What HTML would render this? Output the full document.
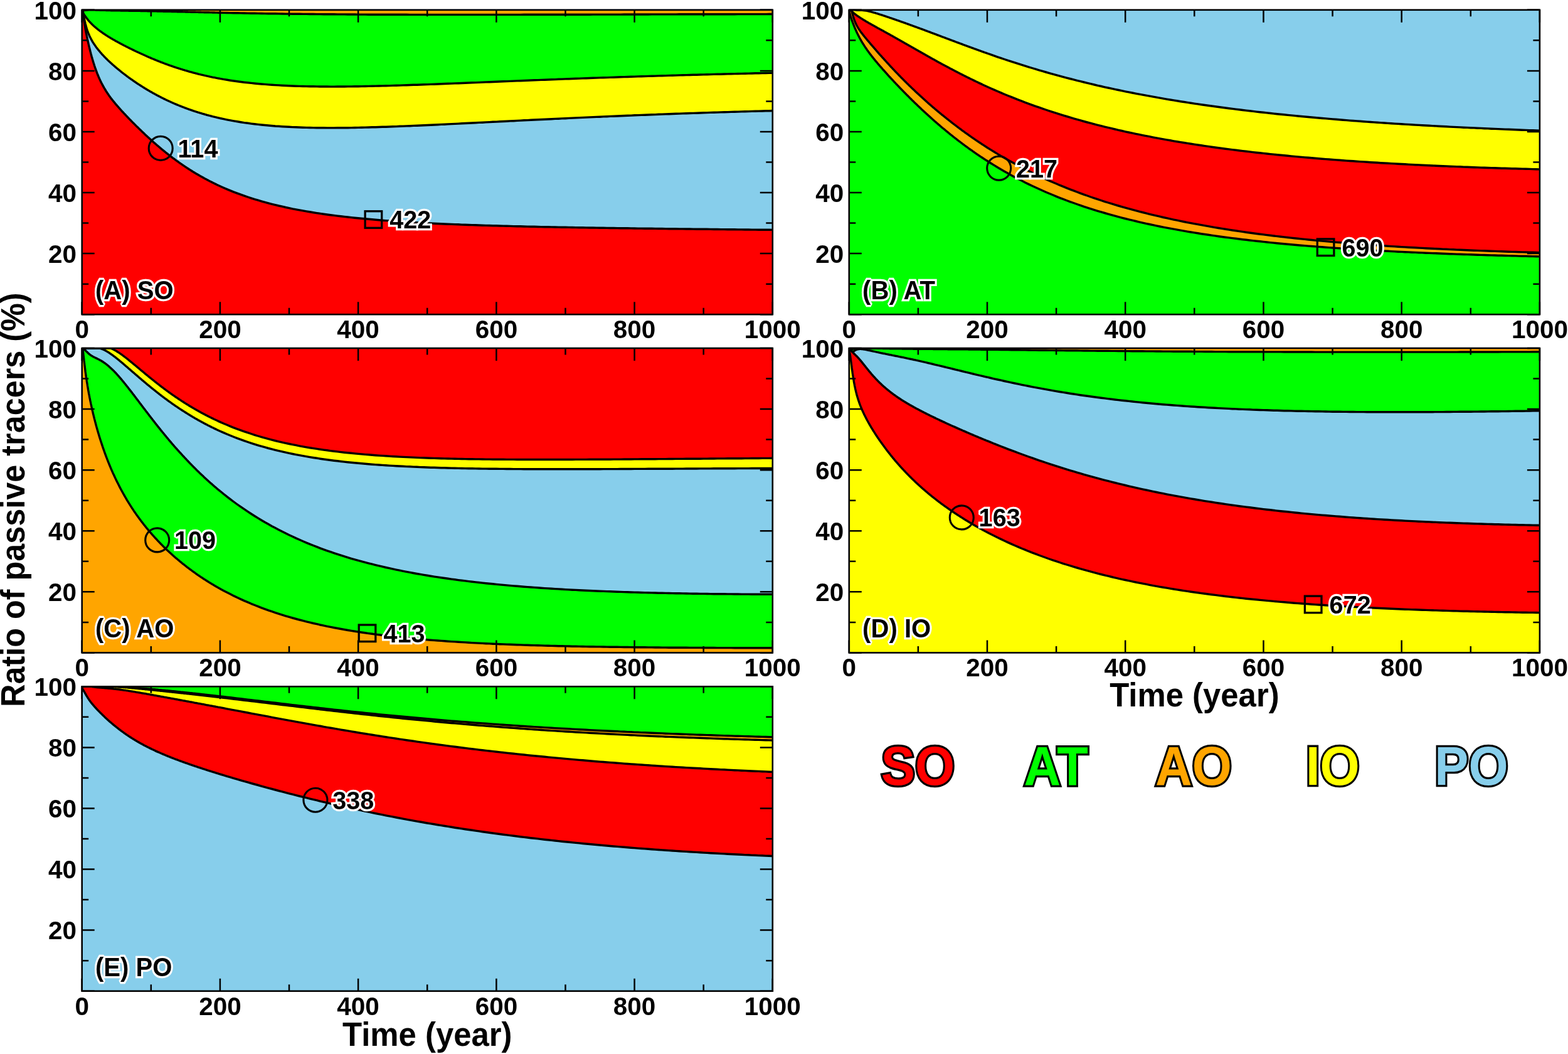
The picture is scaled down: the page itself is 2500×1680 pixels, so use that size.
<!DOCTYPE html>
<html><head><meta charset="utf-8"><title>Ratio of passive tracers</title>
<style>
html,body{margin:0;padding:0;background:#fff;width:2500px;height:1680px;overflow:hidden}
svg{display:block}
text{font-family:'Liberation Sans',Arial,Helvetica,sans-serif;font-weight:bold}
.tl{font-size:41.5px;fill:#000}
.hl{font-size:41.5px;fill:#000;stroke:#fff;stroke-width:6.5px;paint-order:stroke;stroke-linejoin:miter;stroke-miterlimit:2}
.ax{font-size:53px;fill:#000}
.lg{font-size:87px;stroke:#000;stroke-width:6.6px;paint-order:stroke;stroke-linejoin:miter;stroke-miterlimit:3}
</style></head><body>
<svg width="2500" height="1680" viewBox="0 0 2500 1680">
<rect width="2500" height="1680" fill="#fff"/>
<clipPath id="clipA"><rect x="130.7" y="15.8" width="1101.1" height="485.4"/></clipPath>
<g clip-path="url(#clipA)">
<rect x="130.7" y="15.8" width="1101.1" height="485.4" fill="#ff0000"/>
<polygon fill="#87ceeb" points="130.7,13.8 130.7,15.8 131.3,16.4 131.8,18.9 132.4,22.2 132.9,25.9 133.5,29.7 134,33.3 134.6,36.9 135.1,40.2 135.7,43.5 136.2,46.6 136.8,49.5 137.3,52.4 137.9,55.2 138.4,57.9 139,60.5 139.5,63.1 140.1,65.6 140.6,68 141.2,70.4 141.7,72.8 142.3,75.1 142.8,77.3 143.4,79.5 143.9,81.7 144.5,83.8 145,85.9 145.6,88 146.1,90 146.7,91.9 147.2,93.8 147.8,95.7 148.3,97.6 148.9,99.4 149.4,101.1 150,102.8 150.5,104.5 151.1,106.2 151.6,107.8 152.2,109.4 152.7,110.9 153.8,113.9 154.9,116.8 156,119.5 157.1,122.2 158.2,124.7 159.3,127.1 160.4,129.4 161.5,131.7 162.6,133.8 163.7,135.9 164.8,137.9 165.9,139.9 167,141.7 168.1,143.5 169.2,145.3 170.3,147 171.4,148.7 172.5,150.3 173.6,151.9 174.7,153.4 175.8,154.9 176.9,156.4 178,157.9 179.1,159.3 180.2,160.7 181.4,162.1 182.5,163.4 183.6,164.8 184.7,166.1 185.8,167.4 186.9,168.7 188,169.9 189.1,171.2 190.2,172.4 191.3,173.7 192.4,174.9 193.5,176.1 194.6,177.3 195.7,178.5 196.8,179.7 197.9,180.9 199,182 200.1,183.2 201.2,184.4 202.3,185.5 203.4,186.7 204.5,187.8 205.6,189 206.7,190.1 207.8,191.2 208.9,192.3 210,193.5 211.1,194.6 212.2,195.7 213.3,196.8 214.4,197.9 215.5,199 216.6,200.1 217.7,201.2 218.8,202.2 219.9,203.3 221,204.4 222.1,205.5 223.2,206.5 224.3,207.6 225.4,208.6 226.5,209.7 227.6,210.7 228.7,211.8 229.8,212.8 230.9,213.9 232,214.9 233.1,215.9 234.2,216.9 235.3,218 236.4,219 237.5,220 238.6,221 239.7,222 240.8,223 241.9,224 243,224.9 244.1,225.9 245.2,226.9 246.3,227.9 247.4,228.8 248.5,229.8 249.6,230.7 250.7,231.7 251.8,232.6 252.9,233.6 254,234.5 255.1,235.4 256.2,236.4 257.3,237.3 258.4,238.2 259.5,239.1 260.6,240 261.7,240.9 262.8,241.8 263.9,242.7 265,243.6 266.1,244.4 267.2,245.3 268.3,246.2 269.4,247 270.5,247.9 271.6,248.7 272.7,249.6 273.8,250.4 274.9,251.3 276,252.1 277.1,252.9 278.2,253.7 279.3,254.5 280.4,255.4 281.6,256.2 282.7,257 283.8,257.7 284.9,258.5 286,259.3 287.1,260.1 288.2,260.9 289.3,261.6 290.4,262.4 291.5,263.1 292.6,263.9 293.7,264.6 294.8,265.4 295.9,266.1 297,266.8 298.1,267.6 299.2,268.3 300.3,269 301.4,269.7 302.5,270.4 303.6,271.1 304.7,271.8 305.8,272.5 306.9,273.2 308,273.9 309.1,274.5 310.2,275.2 311.3,275.9 312.4,276.5 313.5,277.2 314.6,277.8 315.7,278.5 316.8,279.1 317.9,279.7 319,280.4 320.1,281 321.2,281.6 322.3,282.2 323.4,282.8 324.5,283.5 325.6,284.1 326.7,284.7 327.8,285.2 328.9,285.8 330,286.4 331.1,287 332.2,287.6 333.3,288.2 334.4,288.7 335.5,289.3 336.6,289.8 337.7,290.4 338.8,290.9 339.9,291.5 341,292 342.1,292.6 343.2,293.1 344.3,293.6 345.4,294.2 346.5,294.7 347.6,295.2 348.7,295.7 349.8,296.2 350.9,296.7 356.4,299.2 361.9,301.6 367.4,303.9 372.9,306.1 378.4,308.2 384,310.2 389.5,312.1 395,314 400.5,315.8 406,317.6 411.5,319.2 417,320.8 422.5,322.4 428,323.9 433.5,325.3 439,326.6 444.5,328 450,329.2 455.5,330.5 461,331.6 466.5,332.8 472,333.8 477.5,334.9 483.1,335.9 488.6,336.9 494.1,337.8 499.6,338.7 505.1,339.6 510.6,340.4 516.1,341.2 521.6,342 527.1,342.7 532.6,343.4 538.1,344.1 543.6,344.8 549.1,345.4 554.6,346 560.1,346.6 565.6,347.2 571.1,347.8 576.6,348.3 582.2,348.8 587.7,349.3 593.2,349.8 598.7,350.3 604.2,350.7 609.7,351.2 615.2,351.6 620.7,352 626.2,352.4 631.7,352.8 637.2,353.1 642.7,353.5 648.2,353.8 653.7,354.2 659.2,354.5 664.7,354.8 670.2,355.1 675.7,355.4 681.2,355.7 686.8,355.9 692.3,356.2 697.8,356.5 703.3,356.7 708.8,357 714.3,357.2 719.8,357.4 725.3,357.6 730.8,357.8 736.3,358.1 741.8,358.3 747.3,358.5 752.8,358.6 758.3,358.8 763.8,359 769.3,359.2 774.8,359.4 780.3,359.5 785.9,359.7 791.4,359.8 796.9,360 802.4,360.1 807.9,360.3 813.4,360.4 818.9,360.6 824.4,360.7 829.9,360.8 835.4,361 840.9,361.1 846.4,361.2 851.9,361.3 857.4,361.5 862.9,361.6 868.4,361.7 873.9,361.8 879.4,361.9 885,362 890.5,362.1 896,362.2 901.5,362.3 907,362.4 912.5,362.5 918,362.6 923.5,362.7 929,362.8 934.5,362.9 940,363 945.5,363 951,363.1 956.5,363.2 962,363.3 967.5,363.4 973,363.5 978.5,363.5 984.1,363.6 989.6,363.7 995.1,363.8 1000.6,363.8 1006.1,363.9 1011.6,364 1017.1,364.1 1022.6,364.1 1028.1,364.2 1033.6,364.3 1039.1,364.3 1044.6,364.4 1050.1,364.5 1055.6,364.5 1061.1,364.6 1066.6,364.7 1072.1,364.7 1077.6,364.8 1083.2,364.9 1088.7,364.9 1094.2,365 1099.7,365 1105.2,365.1 1110.7,365.2 1116.2,365.2 1121.7,365.3 1127.2,365.3 1132.7,365.4 1138.2,365.5 1143.7,365.5 1149.2,365.6 1154.7,365.6 1160.2,365.7 1165.7,365.7 1171.2,365.8 1176.7,365.9 1182.3,365.9 1187.8,366 1193.3,366 1198.8,366.1 1204.3,366.1 1209.8,366.2 1215.3,366.2 1220.8,366.3 1226.3,366.3 1231.8,366.4 1231.8,13.8"/>
<polygon fill="#ffff00" points="130.7,13.8 130.7,15.8 131.3,15.8 131.8,16.9 132.4,19.4 132.9,22.2 133.5,25.1 134,28 134.6,30.8 135.1,33.4 135.7,35.8 136.2,38.1 136.8,40.3 137.3,42.3 137.9,44.2 138.4,46 139,47.7 139.5,49.3 140.1,50.8 140.6,52.3 141.2,53.7 141.7,55 142.3,56.3 142.8,57.5 143.4,58.6 143.9,59.8 144.5,60.9 145,61.9 145.6,62.9 146.1,63.9 146.7,64.9 147.2,65.8 147.8,66.8 148.3,67.7 148.9,68.5 149.4,69.4 150,70.2 150.5,71 151.1,71.8 151.6,72.6 152.2,73.4 152.7,74.2 153.8,75.7 154.9,77.1 156,78.5 157.1,79.9 158.2,81.2 159.3,82.5 160.4,83.8 161.5,85 162.6,86.3 163.7,87.5 164.8,88.6 165.9,89.8 167,91 168.1,92.1 169.2,93.2 170.3,94.3 171.4,95.4 172.5,96.4 173.6,97.5 174.7,98.5 175.8,99.5 176.9,100.6 178,101.6 179.1,102.6 180.2,103.5 181.4,104.5 182.5,105.5 183.6,106.4 184.7,107.4 185.8,108.3 186.9,109.2 188,110.1 189.1,111 190.2,111.9 191.3,112.8 192.4,113.7 193.5,114.6 194.6,115.5 195.7,116.3 196.8,117.2 197.9,118 199,118.9 200.1,119.7 201.2,120.5 202.3,121.4 203.4,122.2 204.5,123 205.6,123.8 206.7,124.6 207.8,125.4 208.9,126.2 210,126.9 211.1,127.7 212.2,128.5 213.3,129.2 214.4,130 215.5,130.7 216.6,131.5 217.7,132.2 218.8,133 219.9,133.7 221,134.4 222.1,135.1 223.2,135.8 224.3,136.5 225.4,137.2 226.5,137.9 227.6,138.6 228.7,139.3 229.8,140 230.9,140.7 232,141.3 233.1,142 234.2,142.7 235.3,143.3 236.4,144 237.5,144.6 238.6,145.3 239.7,145.9 240.8,146.5 241.9,147.1 243,147.8 244.1,148.4 245.2,149 246.3,149.6 247.4,150.2 248.5,150.8 249.6,151.4 250.7,152 251.8,152.6 252.9,153.1 254,153.7 255.1,154.3 256.2,154.8 257.3,155.4 258.4,156 259.5,156.5 260.6,157.1 261.7,157.6 262.8,158.1 263.9,158.7 265,159.2 266.1,159.7 267.2,160.2 268.3,160.8 269.4,161.3 270.5,161.8 271.6,162.3 272.7,162.8 273.8,163.3 274.9,163.8 276,164.2 277.1,164.7 278.2,165.2 279.3,165.7 280.4,166.1 281.6,166.6 282.7,167.1 283.8,167.5 284.9,168 286,168.4 287.1,168.9 288.2,169.3 289.3,169.7 290.4,170.2 291.5,170.6 292.6,171 293.7,171.4 294.8,171.9 295.9,172.3 297,172.7 298.1,173.1 299.2,173.5 300.3,173.9 301.4,174.3 302.5,174.7 303.6,175 304.7,175.4 305.8,175.8 306.9,176.2 308,176.6 309.1,176.9 310.2,177.3 311.3,177.6 312.4,178 313.5,178.4 314.6,178.7 315.7,179.1 316.8,179.4 317.9,179.7 319,180.1 320.1,180.4 321.2,180.7 322.3,181.1 323.4,181.4 324.5,181.7 325.6,182 326.7,182.3 327.8,182.6 328.9,183 330,183.3 331.1,183.6 332.2,183.9 333.3,184.2 334.4,184.4 335.5,184.7 336.6,185 337.7,185.3 338.8,185.6 339.9,185.9 341,186.1 342.1,186.4 343.2,186.7 344.3,186.9 345.4,187.2 346.5,187.5 347.6,187.7 348.7,188 349.8,188.2 350.9,188.5 356.4,189.7 361.9,190.8 367.4,191.9 372.9,192.9 378.4,193.8 384,194.7 389.5,195.6 395,196.3 400.5,197.1 406,197.8 411.5,198.4 417,199 422.5,199.5 428,200 433.5,200.5 439,201 444.5,201.3 450,201.7 455.5,202 461,202.3 466.5,202.6 472,202.8 477.5,203 483.1,203.2 488.6,203.4 494.1,203.5 499.6,203.6 505.1,203.7 510.6,203.8 516.1,203.8 521.6,203.9 527.1,203.9 532.6,203.9 538.1,203.8 543.6,203.8 549.1,203.7 554.6,203.7 560.1,203.6 565.6,203.5 571.1,203.4 576.6,203.3 582.2,203.1 587.7,203 593.2,202.8 598.7,202.7 604.2,202.5 609.7,202.3 615.2,202.2 620.7,202 626.2,201.8 631.7,201.6 637.2,201.3 642.7,201.1 648.2,200.9 653.7,200.7 659.2,200.4 664.7,200.2 670.2,200 675.7,199.7 681.2,199.5 686.8,199.2 692.3,199 697.8,198.7 703.3,198.4 708.8,198.2 714.3,197.9 719.8,197.6 725.3,197.4 730.8,197.1 736.3,196.8 741.8,196.5 747.3,196.3 752.8,196 758.3,195.7 763.8,195.4 769.3,195.2 774.8,194.9 780.3,194.6 785.9,194.3 791.4,194.1 796.9,193.8 802.4,193.5 807.9,193.2 813.4,192.9 818.9,192.7 824.4,192.4 829.9,192.1 835.4,191.8 840.9,191.6 846.4,191.3 851.9,191 857.4,190.8 862.9,190.5 868.4,190.2 873.9,190 879.4,189.7 885,189.4 890.5,189.2 896,188.9 901.5,188.7 907,188.4 912.5,188.1 918,187.9 923.5,187.6 929,187.4 934.5,187.1 940,186.9 945.5,186.6 951,186.4 956.5,186.2 962,185.9 967.5,185.7 973,185.4 978.5,185.2 984.1,185 989.6,184.7 995.1,184.5 1000.6,184.3 1006.1,184.1 1011.6,183.8 1017.1,183.6 1022.6,183.4 1028.1,183.2 1033.6,183 1039.1,182.8 1044.6,182.6 1050.1,182.3 1055.6,182.1 1061.1,181.9 1066.6,181.7 1072.1,181.5 1077.6,181.3 1083.2,181.1 1088.7,180.9 1094.2,180.7 1099.7,180.5 1105.2,180.4 1110.7,180.2 1116.2,180 1121.7,179.8 1127.2,179.6 1132.7,179.4 1138.2,179.3 1143.7,179.1 1149.2,178.9 1154.7,178.7 1160.2,178.6 1165.7,178.4 1171.2,178.2 1176.7,178.1 1182.3,177.9 1187.8,177.7 1193.3,177.6 1198.8,177.4 1204.3,177.3 1209.8,177.1 1215.3,177 1220.8,176.8 1226.3,176.7 1231.8,176.5 1231.8,13.8"/>
<polygon fill="#00ff00" points="130.7,13.8 130.7,15.8 131.3,15.8 131.8,16.9 132.4,19.4 132.9,21.6 133.5,22.4 134,23.1 134.6,23.9 135.1,24.7 135.7,25.5 136.2,26.2 136.8,27 137.3,27.8 137.9,28.6 138.4,29.3 139,30 139.5,30.7 140.1,31.4 140.6,32.1 141.2,32.8 141.7,33.4 142.3,34 142.8,34.6 143.4,35.2 143.9,35.8 144.5,36.4 145,37 145.6,37.5 146.1,38.1 146.7,38.6 147.2,39.1 147.8,39.7 148.3,40.2 148.9,40.7 149.4,41.2 150,41.7 150.5,42.2 151.1,42.7 151.6,43.1 152.2,43.6 152.7,44.1 153.8,45 154.9,45.9 156,46.8 157.1,47.6 158.2,48.5 159.3,49.3 160.4,50.1 161.5,50.9 162.6,51.7 163.7,52.5 164.8,53.2 165.9,54 167,54.7 168.1,55.4 169.2,56.2 170.3,56.9 171.4,57.6 172.5,58.3 173.6,58.9 174.7,59.6 175.8,60.3 176.9,60.9 178,61.6 179.1,62.2 180.2,62.9 181.4,63.5 182.5,64.1 183.6,64.8 184.7,65.4 185.8,66 186.9,66.6 188,67.2 189.1,67.8 190.2,68.4 191.3,69 192.4,69.6 193.5,70.2 194.6,70.7 195.7,71.3 196.8,71.9 197.9,72.5 199,73 200.1,73.6 201.2,74.2 202.3,74.7 203.4,75.3 204.5,75.8 205.6,76.4 206.7,76.9 207.8,77.5 208.9,78 210,78.5 211.1,79.1 212.2,79.6 213.3,80.1 214.4,80.7 215.5,81.2 216.6,81.7 217.7,82.2 218.8,82.8 219.9,83.3 221,83.8 222.1,84.3 223.2,84.8 224.3,85.3 225.4,85.8 226.5,86.3 227.6,86.8 228.7,87.3 229.8,87.8 230.9,88.3 232,88.8 233.1,89.3 234.2,89.8 235.3,90.2 236.4,90.7 237.5,91.2 238.6,91.7 239.7,92.1 240.8,92.6 241.9,93.1 243,93.5 244.1,94 245.2,94.4 246.3,94.9 247.4,95.3 248.5,95.8 249.6,96.2 250.7,96.7 251.8,97.1 252.9,97.6 254,98 255.1,98.4 256.2,98.9 257.3,99.3 258.4,99.7 259.5,100.1 260.6,100.5 261.7,101 262.8,101.4 263.9,101.8 265,102.2 266.1,102.6 267.2,103 268.3,103.4 269.4,103.8 270.5,104.2 271.6,104.6 272.7,104.9 273.8,105.3 274.9,105.7 276,106.1 277.1,106.5 278.2,106.8 279.3,107.2 280.4,107.6 281.6,107.9 282.7,108.3 283.8,108.6 284.9,109 286,109.3 287.1,109.7 288.2,110 289.3,110.4 290.4,110.7 291.5,111.1 292.6,111.4 293.7,111.7 294.8,112.1 295.9,112.4 297,112.7 298.1,113 299.2,113.3 300.3,113.7 301.4,114 302.5,114.3 303.6,114.6 304.7,114.9 305.8,115.2 306.9,115.5 308,115.8 309.1,116.1 310.2,116.4 311.3,116.7 312.4,117 313.5,117.2 314.6,117.5 315.7,117.8 316.8,118.1 317.9,118.3 319,118.6 320.1,118.9 321.2,119.1 322.3,119.4 323.4,119.7 324.5,119.9 325.6,120.2 326.7,120.4 327.8,120.7 328.9,120.9 330,121.2 331.1,121.4 332.2,121.7 333.3,121.9 334.4,122.1 335.5,122.4 336.6,122.6 337.7,122.8 338.8,123.1 339.9,123.3 341,123.5 342.1,123.7 343.2,123.9 344.3,124.2 345.4,124.4 346.5,124.6 347.6,124.8 348.7,125 349.8,125.2 350.9,125.4 356.4,126.4 361.9,127.3 367.4,128.2 372.9,129 378.4,129.8 384,130.5 389.5,131.2 395,131.8 400.5,132.4 406,133 411.5,133.5 417,134 422.5,134.4 428,134.9 433.5,135.3 439,135.6 444.5,135.9 450,136.2 455.5,136.5 461,136.8 466.5,137 472,137.2 477.5,137.4 483.1,137.5 488.6,137.6 494.1,137.7 499.6,137.8 505.1,137.9 510.6,138 516.1,138 521.6,138 527.1,138.1 532.6,138.1 538.1,138 543.6,138 549.1,138 554.6,137.9 560.1,137.9 565.6,137.8 571.1,137.7 576.6,137.6 582.2,137.5 587.7,137.4 593.2,137.3 598.7,137.1 604.2,137 609.7,136.9 615.2,136.7 620.7,136.6 626.2,136.4 631.7,136.2 637.2,136.1 642.7,135.9 648.2,135.7 653.7,135.5 659.2,135.3 664.7,135.2 670.2,135 675.7,134.8 681.2,134.6 686.8,134.4 692.3,134.2 697.8,134 703.3,133.7 708.8,133.5 714.3,133.3 719.8,133.1 725.3,132.9 730.8,132.7 736.3,132.5 741.8,132.2 747.3,132 752.8,131.8 758.3,131.6 763.8,131.4 769.3,131.1 774.8,130.9 780.3,130.7 785.9,130.5 791.4,130.2 796.9,130 802.4,129.8 807.9,129.6 813.4,129.4 818.9,129.1 824.4,128.9 829.9,128.7 835.4,128.5 840.9,128.3 846.4,128 851.9,127.8 857.4,127.6 862.9,127.4 868.4,127.2 873.9,127 879.4,126.8 885,126.6 890.5,126.3 896,126.1 901.5,125.9 907,125.7 912.5,125.5 918,125.3 923.5,125.1 929,124.9 934.5,124.7 940,124.5 945.5,124.3 951,124.1 956.5,123.9 962,123.7 967.5,123.6 973,123.4 978.5,123.2 984.1,123 989.6,122.8 995.1,122.6 1000.6,122.5 1006.1,122.3 1011.6,122.1 1017.1,121.9 1022.6,121.7 1028.1,121.6 1033.6,121.4 1039.1,121.2 1044.6,121.1 1050.1,120.9 1055.6,120.7 1061.1,120.6 1066.6,120.4 1072.1,120.2 1077.6,120.1 1083.2,119.9 1088.7,119.8 1094.2,119.6 1099.7,119.5 1105.2,119.3 1110.7,119.2 1116.2,119 1121.7,118.9 1127.2,118.7 1132.7,118.6 1138.2,118.4 1143.7,118.3 1149.2,118.2 1154.7,118 1160.2,117.9 1165.7,117.7 1171.2,117.6 1176.7,117.5 1182.3,117.4 1187.8,117.2 1193.3,117.1 1198.8,117 1204.3,116.8 1209.8,116.7 1215.3,116.6 1220.8,116.5 1226.3,116.4 1231.8,116.2 1231.8,13.8"/>
<polygon fill="#ffa500" points="130.7,13.8 130.7,15.8 131.3,15.8 131.8,16.5 132.4,16.6 132.9,16.6 133.5,16.6 134,16.5 134.6,16.5 135.1,16.4 135.7,16.3 136.2,16.3 136.8,16.2 137.3,16.2 137.9,16.1 138.4,16.1 139,16 139.5,16 140.1,16 140.6,15.9 141.2,15.9 141.7,15.9 142.3,15.9 142.8,15.9 143.4,15.9 143.9,15.8 144.5,15.8 145,15.8 145.6,15.8 146.1,15.8 146.7,15.8 147.2,15.8 147.8,15.9 148.3,15.9 148.9,15.9 149.4,15.9 150,15.9 150.5,15.9 151.1,15.9 151.6,15.9 152.2,15.9 152.7,16 153.8,16 154.9,16 156,16.1 157.1,16.1 158.2,16.1 159.3,16.2 160.4,16.2 161.5,16.2 162.6,16.3 163.7,16.3 164.8,16.3 165.9,16.4 167,16.4 168.1,16.4 169.2,16.5 170.3,16.5 171.4,16.5 172.5,16.6 173.6,16.6 174.7,16.6 175.8,16.6 176.9,16.7 178,16.7 179.1,16.7 180.2,16.7 181.4,16.8 182.5,16.8 183.6,16.8 184.7,16.8 185.8,16.8 186.9,16.9 188,16.9 189.1,16.9 190.2,16.9 191.3,16.9 192.4,17 193.5,17 194.6,17 195.7,17 196.8,17 197.9,17 199,17.1 200.1,17.1 201.2,17.1 202.3,17.1 203.4,17.1 204.5,17.1 205.6,17.2 206.7,17.2 207.8,17.2 208.9,17.2 210,17.2 211.1,17.2 212.2,17.3 213.3,17.3 214.4,17.3 215.5,17.3 216.6,17.3 217.7,17.3 218.8,17.4 219.9,17.4 221,17.4 222.1,17.4 223.2,17.4 224.3,17.5 225.4,17.5 226.5,17.5 227.6,17.5 228.7,17.5 229.8,17.6 230.9,17.6 232,17.6 233.1,17.6 234.2,17.6 235.3,17.7 236.4,17.7 237.5,17.7 238.6,17.7 239.7,17.7 240.8,17.8 241.9,17.8 243,17.8 244.1,17.8 245.2,17.8 246.3,17.9 247.4,17.9 248.5,17.9 249.6,17.9 250.7,18 251.8,18 252.9,18 254,18 255.1,18 256.2,18.1 257.3,18.1 258.4,18.1 259.5,18.1 260.6,18.2 261.7,18.2 262.8,18.2 263.9,18.2 265,18.3 266.1,18.3 267.2,18.3 268.3,18.3 269.4,18.4 270.5,18.4 271.6,18.4 272.7,18.4 273.8,18.5 274.9,18.5 276,18.5 277.1,18.5 278.2,18.6 279.3,18.6 280.4,18.6 281.6,18.6 282.7,18.7 283.8,18.7 284.9,18.7 286,18.7 287.1,18.8 288.2,18.8 289.3,18.8 290.4,18.8 291.5,18.9 292.6,18.9 293.7,18.9 294.8,18.9 295.9,19 297,19 298.1,19 299.2,19 300.3,19.1 301.4,19.1 302.5,19.1 303.6,19.1 304.7,19.2 305.8,19.2 306.9,19.2 308,19.3 309.1,19.3 310.2,19.3 311.3,19.3 312.4,19.4 313.5,19.4 314.6,19.4 315.7,19.4 316.8,19.5 317.9,19.5 319,19.5 320.1,19.5 321.2,19.6 322.3,19.6 323.4,19.6 324.5,19.6 325.6,19.7 326.7,19.7 327.8,19.7 328.9,19.7 330,19.8 331.1,19.8 332.2,19.8 333.3,19.8 334.4,19.9 335.5,19.9 336.6,19.9 337.7,19.9 338.8,20 339.9,20 341,20 342.1,20 343.2,20.1 344.3,20.1 345.4,20.1 346.5,20.1 347.6,20.2 348.7,20.2 349.8,20.2 350.9,20.2 356.4,20.4 361.9,20.5 367.4,20.6 372.9,20.7 378.4,20.8 384,20.9 389.5,21 395,21.1 400.5,21.2 406,21.3 411.5,21.4 417,21.5 422.5,21.6 428,21.7 433.5,21.7 439,21.8 444.5,21.9 450,22 455.5,22.1 461,22.1 466.5,22.2 472,22.3 477.5,22.3 483.1,22.4 488.6,22.4 494.1,22.5 499.6,22.5 505.1,22.6 510.6,22.6 516.1,22.7 521.6,22.7 527.1,22.8 532.6,22.8 538.1,22.9 543.6,22.9 549.1,22.9 554.6,23 560.1,23 565.6,23 571.1,23.1 576.6,23.1 582.2,23.1 587.7,23.2 593.2,23.2 598.7,23.2 604.2,23.2 609.7,23.2 615.2,23.3 620.7,23.3 626.2,23.3 631.7,23.3 637.2,23.3 642.7,23.3 648.2,23.3 653.7,23.4 659.2,23.4 664.7,23.4 670.2,23.4 675.7,23.4 681.2,23.4 686.8,23.4 692.3,23.4 697.8,23.4 703.3,23.4 708.8,23.4 714.3,23.4 719.8,23.4 725.3,23.4 730.8,23.4 736.3,23.4 741.8,23.4 747.3,23.4 752.8,23.4 758.3,23.4 763.8,23.4 769.3,23.4 774.8,23.4 780.3,23.4 785.9,23.4 791.4,23.4 796.9,23.4 802.4,23.4 807.9,23.4 813.4,23.4 818.9,23.4 824.4,23.4 829.9,23.4 835.4,23.3 840.9,23.3 846.4,23.3 851.9,23.3 857.4,23.3 862.9,23.3 868.4,23.3 873.9,23.3 879.4,23.3 885,23.3 890.5,23.3 896,23.2 901.5,23.2 907,23.2 912.5,23.2 918,23.2 923.5,23.2 929,23.2 934.5,23.2 940,23.2 945.5,23.1 951,23.1 956.5,23.1 962,23.1 967.5,23.1 973,23.1 978.5,23.1 984.1,23.1 989.6,23.1 995.1,23 1000.6,23 1006.1,23 1011.6,23 1017.1,23 1022.6,23 1028.1,23 1033.6,23 1039.1,22.9 1044.6,22.9 1050.1,22.9 1055.6,22.9 1061.1,22.9 1066.6,22.9 1072.1,22.9 1077.6,22.9 1083.2,22.8 1088.7,22.8 1094.2,22.8 1099.7,22.8 1105.2,22.8 1110.7,22.8 1116.2,22.8 1121.7,22.8 1127.2,22.8 1132.7,22.7 1138.2,22.7 1143.7,22.7 1149.2,22.7 1154.7,22.7 1160.2,22.7 1165.7,22.7 1171.2,22.7 1176.7,22.6 1182.3,22.6 1187.8,22.6 1193.3,22.6 1198.8,22.6 1204.3,22.6 1209.8,22.6 1215.3,22.6 1220.8,22.6 1226.3,22.5 1231.8,22.5 1231.8,13.8"/>
<polyline fill="none" stroke="#000" stroke-width="3.4" stroke-linejoin="round" points="130.7,15.8 131.3,16.4 131.8,18.9 132.4,22.2 132.9,25.9 133.5,29.7 134,33.3 134.6,36.9 135.1,40.2 135.7,43.5 136.2,46.6 136.8,49.5 137.3,52.4 137.9,55.2 138.4,57.9 139,60.5 139.5,63.1 140.1,65.6 140.6,68 141.2,70.4 141.7,72.8 142.3,75.1 142.8,77.3 143.4,79.5 143.9,81.7 144.5,83.8 145,85.9 145.6,88 146.1,90 146.7,91.9 147.2,93.8 147.8,95.7 148.3,97.6 148.9,99.4 149.4,101.1 150,102.8 150.5,104.5 151.1,106.2 151.6,107.8 152.2,109.4 152.7,110.9 153.8,113.9 154.9,116.8 156,119.5 157.1,122.2 158.2,124.7 159.3,127.1 160.4,129.4 161.5,131.7 162.6,133.8 163.7,135.9 164.8,137.9 165.9,139.9 167,141.7 168.1,143.5 169.2,145.3 170.3,147 171.4,148.7 172.5,150.3 173.6,151.9 174.7,153.4 175.8,154.9 176.9,156.4 178,157.9 179.1,159.3 180.2,160.7 181.4,162.1 182.5,163.4 183.6,164.8 184.7,166.1 185.8,167.4 186.9,168.7 188,169.9 189.1,171.2 190.2,172.4 191.3,173.7 192.4,174.9 193.5,176.1 194.6,177.3 195.7,178.5 196.8,179.7 197.9,180.9 199,182 200.1,183.2 201.2,184.4 202.3,185.5 203.4,186.7 204.5,187.8 205.6,189 206.7,190.1 207.8,191.2 208.9,192.3 210,193.5 211.1,194.6 212.2,195.7 213.3,196.8 214.4,197.9 215.5,199 216.6,200.1 217.7,201.2 218.8,202.2 219.9,203.3 221,204.4 222.1,205.5 223.2,206.5 224.3,207.6 225.4,208.6 226.5,209.7 227.6,210.7 228.7,211.8 229.8,212.8 230.9,213.9 232,214.9 233.1,215.9 234.2,216.9 235.3,218 236.4,219 237.5,220 238.6,221 239.7,222 240.8,223 241.9,224 243,224.9 244.1,225.9 245.2,226.9 246.3,227.9 247.4,228.8 248.5,229.8 249.6,230.7 250.7,231.7 251.8,232.6 252.9,233.6 254,234.5 255.1,235.4 256.2,236.4 257.3,237.3 258.4,238.2 259.5,239.1 260.6,240 261.7,240.9 262.8,241.8 263.9,242.7 265,243.6 266.1,244.4 267.2,245.3 268.3,246.2 269.4,247 270.5,247.9 271.6,248.7 272.7,249.6 273.8,250.4 274.9,251.3 276,252.1 277.1,252.9 278.2,253.7 279.3,254.5 280.4,255.4 281.6,256.2 282.7,257 283.8,257.7 284.9,258.5 286,259.3 287.1,260.1 288.2,260.9 289.3,261.6 290.4,262.4 291.5,263.1 292.6,263.9 293.7,264.6 294.8,265.4 295.9,266.1 297,266.8 298.1,267.6 299.2,268.3 300.3,269 301.4,269.7 302.5,270.4 303.6,271.1 304.7,271.8 305.8,272.5 306.9,273.2 308,273.9 309.1,274.5 310.2,275.2 311.3,275.9 312.4,276.5 313.5,277.2 314.6,277.8 315.7,278.5 316.8,279.1 317.9,279.7 319,280.4 320.1,281 321.2,281.6 322.3,282.2 323.4,282.8 324.5,283.5 325.6,284.1 326.7,284.7 327.8,285.2 328.9,285.8 330,286.4 331.1,287 332.2,287.6 333.3,288.2 334.4,288.7 335.5,289.3 336.6,289.8 337.7,290.4 338.8,290.9 339.9,291.5 341,292 342.1,292.6 343.2,293.1 344.3,293.6 345.4,294.2 346.5,294.7 347.6,295.2 348.7,295.7 349.8,296.2 350.9,296.7 356.4,299.2 361.9,301.6 367.4,303.9 372.9,306.1 378.4,308.2 384,310.2 389.5,312.1 395,314 400.5,315.8 406,317.6 411.5,319.2 417,320.8 422.5,322.4 428,323.9 433.5,325.3 439,326.6 444.5,328 450,329.2 455.5,330.5 461,331.6 466.5,332.8 472,333.8 477.5,334.9 483.1,335.9 488.6,336.9 494.1,337.8 499.6,338.7 505.1,339.6 510.6,340.4 516.1,341.2 521.6,342 527.1,342.7 532.6,343.4 538.1,344.1 543.6,344.8 549.1,345.4 554.6,346 560.1,346.6 565.6,347.2 571.1,347.8 576.6,348.3 582.2,348.8 587.7,349.3 593.2,349.8 598.7,350.3 604.2,350.7 609.7,351.2 615.2,351.6 620.7,352 626.2,352.4 631.7,352.8 637.2,353.1 642.7,353.5 648.2,353.8 653.7,354.2 659.2,354.5 664.7,354.8 670.2,355.1 675.7,355.4 681.2,355.7 686.8,355.9 692.3,356.2 697.8,356.5 703.3,356.7 708.8,357 714.3,357.2 719.8,357.4 725.3,357.6 730.8,357.8 736.3,358.1 741.8,358.3 747.3,358.5 752.8,358.6 758.3,358.8 763.8,359 769.3,359.2 774.8,359.4 780.3,359.5 785.9,359.7 791.4,359.8 796.9,360 802.4,360.1 807.9,360.3 813.4,360.4 818.9,360.6 824.4,360.7 829.9,360.8 835.4,361 840.9,361.1 846.4,361.2 851.9,361.3 857.4,361.5 862.9,361.6 868.4,361.7 873.9,361.8 879.4,361.9 885,362 890.5,362.1 896,362.2 901.5,362.3 907,362.4 912.5,362.5 918,362.6 923.5,362.7 929,362.8 934.5,362.9 940,363 945.5,363 951,363.1 956.5,363.2 962,363.3 967.5,363.4 973,363.5 978.5,363.5 984.1,363.6 989.6,363.7 995.1,363.8 1000.6,363.8 1006.1,363.9 1011.6,364 1017.1,364.1 1022.6,364.1 1028.1,364.2 1033.6,364.3 1039.1,364.3 1044.6,364.4 1050.1,364.5 1055.6,364.5 1061.1,364.6 1066.6,364.7 1072.1,364.7 1077.6,364.8 1083.2,364.9 1088.7,364.9 1094.2,365 1099.7,365 1105.2,365.1 1110.7,365.2 1116.2,365.2 1121.7,365.3 1127.2,365.3 1132.7,365.4 1138.2,365.5 1143.7,365.5 1149.2,365.6 1154.7,365.6 1160.2,365.7 1165.7,365.7 1171.2,365.8 1176.7,365.9 1182.3,365.9 1187.8,366 1193.3,366 1198.8,366.1 1204.3,366.1 1209.8,366.2 1215.3,366.2 1220.8,366.3 1226.3,366.3 1231.8,366.4"/>
<polyline fill="none" stroke="#000" stroke-width="3.4" stroke-linejoin="round" points="130.7,15.8 131.3,15.8 131.8,16.9 132.4,19.4 132.9,22.2 133.5,25.1 134,28 134.6,30.8 135.1,33.4 135.7,35.8 136.2,38.1 136.8,40.3 137.3,42.3 137.9,44.2 138.4,46 139,47.7 139.5,49.3 140.1,50.8 140.6,52.3 141.2,53.7 141.7,55 142.3,56.3 142.8,57.5 143.4,58.6 143.9,59.8 144.5,60.9 145,61.9 145.6,62.9 146.1,63.9 146.7,64.9 147.2,65.8 147.8,66.8 148.3,67.7 148.9,68.5 149.4,69.4 150,70.2 150.5,71 151.1,71.8 151.6,72.6 152.2,73.4 152.7,74.2 153.8,75.7 154.9,77.1 156,78.5 157.1,79.9 158.2,81.2 159.3,82.5 160.4,83.8 161.5,85 162.6,86.3 163.7,87.5 164.8,88.6 165.9,89.8 167,91 168.1,92.1 169.2,93.2 170.3,94.3 171.4,95.4 172.5,96.4 173.6,97.5 174.7,98.5 175.8,99.5 176.9,100.6 178,101.6 179.1,102.6 180.2,103.5 181.4,104.5 182.5,105.5 183.6,106.4 184.7,107.4 185.8,108.3 186.9,109.2 188,110.1 189.1,111 190.2,111.9 191.3,112.8 192.4,113.7 193.5,114.6 194.6,115.5 195.7,116.3 196.8,117.2 197.9,118 199,118.9 200.1,119.7 201.2,120.5 202.3,121.4 203.4,122.2 204.5,123 205.6,123.8 206.7,124.6 207.8,125.4 208.9,126.2 210,126.9 211.1,127.7 212.2,128.5 213.3,129.2 214.4,130 215.5,130.7 216.6,131.5 217.7,132.2 218.8,133 219.9,133.7 221,134.4 222.1,135.1 223.2,135.8 224.3,136.5 225.4,137.2 226.5,137.9 227.6,138.6 228.7,139.3 229.8,140 230.9,140.7 232,141.3 233.1,142 234.2,142.7 235.3,143.3 236.4,144 237.5,144.6 238.6,145.3 239.7,145.9 240.8,146.5 241.9,147.1 243,147.8 244.1,148.4 245.2,149 246.3,149.6 247.4,150.2 248.5,150.8 249.6,151.4 250.7,152 251.8,152.6 252.9,153.1 254,153.7 255.1,154.3 256.2,154.8 257.3,155.4 258.4,156 259.5,156.5 260.6,157.1 261.7,157.6 262.8,158.1 263.9,158.7 265,159.2 266.1,159.7 267.2,160.2 268.3,160.8 269.4,161.3 270.5,161.8 271.6,162.3 272.7,162.8 273.8,163.3 274.9,163.8 276,164.2 277.1,164.7 278.2,165.2 279.3,165.7 280.4,166.1 281.6,166.6 282.7,167.1 283.8,167.5 284.9,168 286,168.4 287.1,168.9 288.2,169.3 289.3,169.7 290.4,170.2 291.5,170.6 292.6,171 293.7,171.4 294.8,171.9 295.9,172.3 297,172.7 298.1,173.1 299.2,173.5 300.3,173.9 301.4,174.3 302.5,174.7 303.6,175 304.7,175.4 305.8,175.8 306.9,176.2 308,176.6 309.1,176.9 310.2,177.3 311.3,177.6 312.4,178 313.5,178.4 314.6,178.7 315.7,179.1 316.8,179.4 317.9,179.7 319,180.1 320.1,180.4 321.2,180.7 322.3,181.1 323.4,181.4 324.5,181.7 325.6,182 326.7,182.3 327.8,182.6 328.9,183 330,183.3 331.1,183.6 332.2,183.9 333.3,184.2 334.4,184.4 335.5,184.7 336.6,185 337.7,185.3 338.8,185.6 339.9,185.9 341,186.1 342.1,186.4 343.2,186.7 344.3,186.9 345.4,187.2 346.5,187.5 347.6,187.7 348.7,188 349.8,188.2 350.9,188.5 356.4,189.7 361.9,190.8 367.4,191.9 372.9,192.9 378.4,193.8 384,194.7 389.5,195.6 395,196.3 400.5,197.1 406,197.8 411.5,198.4 417,199 422.5,199.5 428,200 433.5,200.5 439,201 444.5,201.3 450,201.7 455.5,202 461,202.3 466.5,202.6 472,202.8 477.5,203 483.1,203.2 488.6,203.4 494.1,203.5 499.6,203.6 505.1,203.7 510.6,203.8 516.1,203.8 521.6,203.9 527.1,203.9 532.6,203.9 538.1,203.8 543.6,203.8 549.1,203.7 554.6,203.7 560.1,203.6 565.6,203.5 571.1,203.4 576.6,203.3 582.2,203.1 587.7,203 593.2,202.8 598.7,202.7 604.2,202.5 609.7,202.3 615.2,202.2 620.7,202 626.2,201.8 631.7,201.6 637.2,201.3 642.7,201.1 648.2,200.9 653.7,200.7 659.2,200.4 664.7,200.2 670.2,200 675.7,199.7 681.2,199.5 686.8,199.2 692.3,199 697.8,198.7 703.3,198.4 708.8,198.2 714.3,197.9 719.8,197.6 725.3,197.4 730.8,197.1 736.3,196.8 741.8,196.5 747.3,196.3 752.8,196 758.3,195.7 763.8,195.4 769.3,195.2 774.8,194.9 780.3,194.6 785.9,194.3 791.4,194.1 796.9,193.8 802.4,193.5 807.9,193.2 813.4,192.9 818.9,192.7 824.4,192.4 829.9,192.1 835.4,191.8 840.9,191.6 846.4,191.3 851.9,191 857.4,190.8 862.9,190.5 868.4,190.2 873.9,190 879.4,189.7 885,189.4 890.5,189.2 896,188.9 901.5,188.7 907,188.4 912.5,188.1 918,187.9 923.5,187.6 929,187.4 934.5,187.1 940,186.9 945.5,186.6 951,186.4 956.5,186.2 962,185.9 967.5,185.7 973,185.4 978.5,185.2 984.1,185 989.6,184.7 995.1,184.5 1000.6,184.3 1006.1,184.1 1011.6,183.8 1017.1,183.6 1022.6,183.4 1028.1,183.2 1033.6,183 1039.1,182.8 1044.6,182.6 1050.1,182.3 1055.6,182.1 1061.1,181.9 1066.6,181.7 1072.1,181.5 1077.6,181.3 1083.2,181.1 1088.7,180.9 1094.2,180.7 1099.7,180.5 1105.2,180.4 1110.7,180.2 1116.2,180 1121.7,179.8 1127.2,179.6 1132.7,179.4 1138.2,179.3 1143.7,179.1 1149.2,178.9 1154.7,178.7 1160.2,178.6 1165.7,178.4 1171.2,178.2 1176.7,178.1 1182.3,177.9 1187.8,177.7 1193.3,177.6 1198.8,177.4 1204.3,177.3 1209.8,177.1 1215.3,177 1220.8,176.8 1226.3,176.7 1231.8,176.5"/>
<polyline fill="none" stroke="#000" stroke-width="3.4" stroke-linejoin="round" points="130.7,15.8 131.3,15.8 131.8,16.9 132.4,19.4 132.9,21.6 133.5,22.4 134,23.1 134.6,23.9 135.1,24.7 135.7,25.5 136.2,26.2 136.8,27 137.3,27.8 137.9,28.6 138.4,29.3 139,30 139.5,30.7 140.1,31.4 140.6,32.1 141.2,32.8 141.7,33.4 142.3,34 142.8,34.6 143.4,35.2 143.9,35.8 144.5,36.4 145,37 145.6,37.5 146.1,38.1 146.7,38.6 147.2,39.1 147.8,39.7 148.3,40.2 148.9,40.7 149.4,41.2 150,41.7 150.5,42.2 151.1,42.7 151.6,43.1 152.2,43.6 152.7,44.1 153.8,45 154.9,45.9 156,46.8 157.1,47.6 158.2,48.5 159.3,49.3 160.4,50.1 161.5,50.9 162.6,51.7 163.7,52.5 164.8,53.2 165.9,54 167,54.7 168.1,55.4 169.2,56.2 170.3,56.9 171.4,57.6 172.5,58.3 173.6,58.9 174.7,59.6 175.8,60.3 176.9,60.9 178,61.6 179.1,62.2 180.2,62.9 181.4,63.5 182.5,64.1 183.6,64.8 184.7,65.4 185.8,66 186.9,66.6 188,67.2 189.1,67.8 190.2,68.4 191.3,69 192.4,69.6 193.5,70.2 194.6,70.7 195.7,71.3 196.8,71.9 197.9,72.5 199,73 200.1,73.6 201.2,74.2 202.3,74.7 203.4,75.3 204.5,75.8 205.6,76.4 206.7,76.9 207.8,77.5 208.9,78 210,78.5 211.1,79.1 212.2,79.6 213.3,80.1 214.4,80.7 215.5,81.2 216.6,81.7 217.7,82.2 218.8,82.8 219.9,83.3 221,83.8 222.1,84.3 223.2,84.8 224.3,85.3 225.4,85.8 226.5,86.3 227.6,86.8 228.7,87.3 229.8,87.8 230.9,88.3 232,88.8 233.1,89.3 234.2,89.8 235.3,90.2 236.4,90.7 237.5,91.2 238.6,91.7 239.7,92.1 240.8,92.6 241.9,93.1 243,93.5 244.1,94 245.2,94.4 246.3,94.9 247.4,95.3 248.5,95.8 249.6,96.2 250.7,96.7 251.8,97.1 252.9,97.6 254,98 255.1,98.4 256.2,98.9 257.3,99.3 258.4,99.7 259.5,100.1 260.6,100.5 261.7,101 262.8,101.4 263.9,101.8 265,102.2 266.1,102.6 267.2,103 268.3,103.4 269.4,103.8 270.5,104.2 271.6,104.6 272.7,104.9 273.8,105.3 274.9,105.7 276,106.1 277.1,106.5 278.2,106.8 279.3,107.2 280.4,107.6 281.6,107.9 282.7,108.3 283.8,108.6 284.9,109 286,109.3 287.1,109.7 288.2,110 289.3,110.4 290.4,110.7 291.5,111.1 292.6,111.4 293.7,111.7 294.8,112.1 295.9,112.4 297,112.7 298.1,113 299.2,113.3 300.3,113.7 301.4,114 302.5,114.3 303.6,114.6 304.7,114.9 305.8,115.2 306.9,115.5 308,115.8 309.1,116.1 310.2,116.4 311.3,116.7 312.4,117 313.5,117.2 314.6,117.5 315.7,117.8 316.8,118.1 317.9,118.3 319,118.6 320.1,118.9 321.2,119.1 322.3,119.4 323.4,119.7 324.5,119.9 325.6,120.2 326.7,120.4 327.8,120.7 328.9,120.9 330,121.2 331.1,121.4 332.2,121.7 333.3,121.9 334.4,122.1 335.5,122.4 336.6,122.6 337.7,122.8 338.8,123.1 339.9,123.3 341,123.5 342.1,123.7 343.2,123.9 344.3,124.2 345.4,124.4 346.5,124.6 347.6,124.8 348.7,125 349.8,125.2 350.9,125.4 356.4,126.4 361.9,127.3 367.4,128.2 372.9,129 378.4,129.8 384,130.5 389.5,131.2 395,131.8 400.5,132.4 406,133 411.5,133.5 417,134 422.5,134.4 428,134.9 433.5,135.3 439,135.6 444.5,135.9 450,136.2 455.5,136.5 461,136.8 466.5,137 472,137.2 477.5,137.4 483.1,137.5 488.6,137.6 494.1,137.7 499.6,137.8 505.1,137.9 510.6,138 516.1,138 521.6,138 527.1,138.1 532.6,138.1 538.1,138 543.6,138 549.1,138 554.6,137.9 560.1,137.9 565.6,137.8 571.1,137.7 576.6,137.6 582.2,137.5 587.7,137.4 593.2,137.3 598.7,137.1 604.2,137 609.7,136.9 615.2,136.7 620.7,136.6 626.2,136.4 631.7,136.2 637.2,136.1 642.7,135.9 648.2,135.7 653.7,135.5 659.2,135.3 664.7,135.2 670.2,135 675.7,134.8 681.2,134.6 686.8,134.4 692.3,134.2 697.8,134 703.3,133.7 708.8,133.5 714.3,133.3 719.8,133.1 725.3,132.9 730.8,132.7 736.3,132.5 741.8,132.2 747.3,132 752.8,131.8 758.3,131.6 763.8,131.4 769.3,131.1 774.8,130.9 780.3,130.7 785.9,130.5 791.4,130.2 796.9,130 802.4,129.8 807.9,129.6 813.4,129.4 818.9,129.1 824.4,128.9 829.9,128.7 835.4,128.5 840.9,128.3 846.4,128 851.9,127.8 857.4,127.6 862.9,127.4 868.4,127.2 873.9,127 879.4,126.8 885,126.6 890.5,126.3 896,126.1 901.5,125.9 907,125.7 912.5,125.5 918,125.3 923.5,125.1 929,124.9 934.5,124.7 940,124.5 945.5,124.3 951,124.1 956.5,123.9 962,123.7 967.5,123.6 973,123.4 978.5,123.2 984.1,123 989.6,122.8 995.1,122.6 1000.6,122.5 1006.1,122.3 1011.6,122.1 1017.1,121.9 1022.6,121.7 1028.1,121.6 1033.6,121.4 1039.1,121.2 1044.6,121.1 1050.1,120.9 1055.6,120.7 1061.1,120.6 1066.6,120.4 1072.1,120.2 1077.6,120.1 1083.2,119.9 1088.7,119.8 1094.2,119.6 1099.7,119.5 1105.2,119.3 1110.7,119.2 1116.2,119 1121.7,118.9 1127.2,118.7 1132.7,118.6 1138.2,118.4 1143.7,118.3 1149.2,118.2 1154.7,118 1160.2,117.9 1165.7,117.7 1171.2,117.6 1176.7,117.5 1182.3,117.4 1187.8,117.2 1193.3,117.1 1198.8,117 1204.3,116.8 1209.8,116.7 1215.3,116.6 1220.8,116.5 1226.3,116.4 1231.8,116.2"/>
<polyline fill="none" stroke="#000" stroke-width="3.4" stroke-linejoin="round" points="130.7,15.8 131.3,15.8 131.8,16.5 132.4,16.6 132.9,16.6 133.5,16.6 134,16.5 134.6,16.5 135.1,16.4 135.7,16.3 136.2,16.3 136.8,16.2 137.3,16.2 137.9,16.1 138.4,16.1 139,16 139.5,16 140.1,16 140.6,15.9 141.2,15.9 141.7,15.9 142.3,15.9 142.8,15.9 143.4,15.9 143.9,15.8 144.5,15.8 145,15.8 145.6,15.8 146.1,15.8 146.7,15.8 147.2,15.8 147.8,15.9 148.3,15.9 148.9,15.9 149.4,15.9 150,15.9 150.5,15.9 151.1,15.9 151.6,15.9 152.2,15.9 152.7,16 153.8,16 154.9,16 156,16.1 157.1,16.1 158.2,16.1 159.3,16.2 160.4,16.2 161.5,16.2 162.6,16.3 163.7,16.3 164.8,16.3 165.9,16.4 167,16.4 168.1,16.4 169.2,16.5 170.3,16.5 171.4,16.5 172.5,16.6 173.6,16.6 174.7,16.6 175.8,16.6 176.9,16.7 178,16.7 179.1,16.7 180.2,16.7 181.4,16.8 182.5,16.8 183.6,16.8 184.7,16.8 185.8,16.8 186.9,16.9 188,16.9 189.1,16.9 190.2,16.9 191.3,16.9 192.4,17 193.5,17 194.6,17 195.7,17 196.8,17 197.9,17 199,17.1 200.1,17.1 201.2,17.1 202.3,17.1 203.4,17.1 204.5,17.1 205.6,17.2 206.7,17.2 207.8,17.2 208.9,17.2 210,17.2 211.1,17.2 212.2,17.3 213.3,17.3 214.4,17.3 215.5,17.3 216.6,17.3 217.7,17.3 218.8,17.4 219.9,17.4 221,17.4 222.1,17.4 223.2,17.4 224.3,17.5 225.4,17.5 226.5,17.5 227.6,17.5 228.7,17.5 229.8,17.6 230.9,17.6 232,17.6 233.1,17.6 234.2,17.6 235.3,17.7 236.4,17.7 237.5,17.7 238.6,17.7 239.7,17.7 240.8,17.8 241.9,17.8 243,17.8 244.1,17.8 245.2,17.8 246.3,17.9 247.4,17.9 248.5,17.9 249.6,17.9 250.7,18 251.8,18 252.9,18 254,18 255.1,18 256.2,18.1 257.3,18.1 258.4,18.1 259.5,18.1 260.6,18.2 261.7,18.2 262.8,18.2 263.9,18.2 265,18.3 266.1,18.3 267.2,18.3 268.3,18.3 269.4,18.4 270.5,18.4 271.6,18.4 272.7,18.4 273.8,18.5 274.9,18.5 276,18.5 277.1,18.5 278.2,18.6 279.3,18.6 280.4,18.6 281.6,18.6 282.7,18.7 283.8,18.7 284.9,18.7 286,18.7 287.1,18.8 288.2,18.8 289.3,18.8 290.4,18.8 291.5,18.9 292.6,18.9 293.7,18.9 294.8,18.9 295.9,19 297,19 298.1,19 299.2,19 300.3,19.1 301.4,19.1 302.5,19.1 303.6,19.1 304.7,19.2 305.8,19.2 306.9,19.2 308,19.3 309.1,19.3 310.2,19.3 311.3,19.3 312.4,19.4 313.5,19.4 314.6,19.4 315.7,19.4 316.8,19.5 317.9,19.5 319,19.5 320.1,19.5 321.2,19.6 322.3,19.6 323.4,19.6 324.5,19.6 325.6,19.7 326.7,19.7 327.8,19.7 328.9,19.7 330,19.8 331.1,19.8 332.2,19.8 333.3,19.8 334.4,19.9 335.5,19.9 336.6,19.9 337.7,19.9 338.8,20 339.9,20 341,20 342.1,20 343.2,20.1 344.3,20.1 345.4,20.1 346.5,20.1 347.6,20.2 348.7,20.2 349.8,20.2 350.9,20.2 356.4,20.4 361.9,20.5 367.4,20.6 372.9,20.7 378.4,20.8 384,20.9 389.5,21 395,21.1 400.5,21.2 406,21.3 411.5,21.4 417,21.5 422.5,21.6 428,21.7 433.5,21.7 439,21.8 444.5,21.9 450,22 455.5,22.1 461,22.1 466.5,22.2 472,22.3 477.5,22.3 483.1,22.4 488.6,22.4 494.1,22.5 499.6,22.5 505.1,22.6 510.6,22.6 516.1,22.7 521.6,22.7 527.1,22.8 532.6,22.8 538.1,22.9 543.6,22.9 549.1,22.9 554.6,23 560.1,23 565.6,23 571.1,23.1 576.6,23.1 582.2,23.1 587.7,23.2 593.2,23.2 598.7,23.2 604.2,23.2 609.7,23.2 615.2,23.3 620.7,23.3 626.2,23.3 631.7,23.3 637.2,23.3 642.7,23.3 648.2,23.3 653.7,23.4 659.2,23.4 664.7,23.4 670.2,23.4 675.7,23.4 681.2,23.4 686.8,23.4 692.3,23.4 697.8,23.4 703.3,23.4 708.8,23.4 714.3,23.4 719.8,23.4 725.3,23.4 730.8,23.4 736.3,23.4 741.8,23.4 747.3,23.4 752.8,23.4 758.3,23.4 763.8,23.4 769.3,23.4 774.8,23.4 780.3,23.4 785.9,23.4 791.4,23.4 796.9,23.4 802.4,23.4 807.9,23.4 813.4,23.4 818.9,23.4 824.4,23.4 829.9,23.4 835.4,23.3 840.9,23.3 846.4,23.3 851.9,23.3 857.4,23.3 862.9,23.3 868.4,23.3 873.9,23.3 879.4,23.3 885,23.3 890.5,23.3 896,23.2 901.5,23.2 907,23.2 912.5,23.2 918,23.2 923.5,23.2 929,23.2 934.5,23.2 940,23.2 945.5,23.1 951,23.1 956.5,23.1 962,23.1 967.5,23.1 973,23.1 978.5,23.1 984.1,23.1 989.6,23.1 995.1,23 1000.6,23 1006.1,23 1011.6,23 1017.1,23 1022.6,23 1028.1,23 1033.6,23 1039.1,22.9 1044.6,22.9 1050.1,22.9 1055.6,22.9 1061.1,22.9 1066.6,22.9 1072.1,22.9 1077.6,22.9 1083.2,22.8 1088.7,22.8 1094.2,22.8 1099.7,22.8 1105.2,22.8 1110.7,22.8 1116.2,22.8 1121.7,22.8 1127.2,22.8 1132.7,22.7 1138.2,22.7 1143.7,22.7 1149.2,22.7 1154.7,22.7 1160.2,22.7 1165.7,22.7 1171.2,22.7 1176.7,22.6 1182.3,22.6 1187.8,22.6 1193.3,22.6 1198.8,22.6 1204.3,22.6 1209.8,22.6 1215.3,22.6 1220.8,22.6 1226.3,22.5 1231.8,22.5"/>
</g>
<path d="M130.7,501.2v-20M130.7,15.8v20M240.8,501.2v-10.5M240.8,15.8v10.5M350.9,501.2v-20M350.9,15.8v20M461,501.2v-10.5M461,15.8v10.5M571.1,501.2v-20M571.1,15.8v20M681.2,501.2v-10.5M681.2,15.8v10.5M791.4,501.2v-20M791.4,15.8v20M901.5,501.2v-10.5M901.5,15.8v10.5M1011.6,501.2v-20M1011.6,15.8v20M1121.7,501.2v-10.5M1121.7,15.8v10.5M1231.8,501.2v-20M1231.8,15.8v20M130.7,501.2h20M1231.8,501.2h-20M130.7,452.7h10.5M1231.8,452.7h-10.5M130.7,404.1h20M1231.8,404.1h-20M130.7,355.6h10.5M1231.8,355.6h-10.5M130.7,307h20M1231.8,307h-20M130.7,258.5h10.5M1231.8,258.5h-10.5M130.7,210h20M1231.8,210h-20M130.7,161.4h10.5M1231.8,161.4h-10.5M130.7,112.9h20M1231.8,112.9h-20M130.7,64.3h10.5M1231.8,64.3h-10.5M130.7,15.8h20M1231.8,15.8h-20" stroke="#000" stroke-width="2.5" fill="none"/>
<rect x="130.7" y="15.8" width="1101.1" height="485.4" fill="none" stroke="#000" stroke-width="2.6"/>
<circle cx="256.2" cy="236.4" r="19" fill="none" stroke="#000" stroke-width="3.1"/>
<text class="hl" style="font-size:41.5px" transform="translate(283.5,250.8) scale(0.955,1)">114</text>
<rect x="582.1" y="336.7" width="26.6" height="26.6" fill="none" stroke="#000" stroke-width="3.3"/>
<text class="hl" style="font-size:41.5px" transform="translate(621.3,364.4) scale(0.955,1)">422</text>
<text class="hl" style="font-size:42px" transform="translate(152,477) scale(0.955,1)">(A) SO</text>
<text transform="translate(130.7,539.1) scale(0.975,1)" class="tl" text-anchor="middle">0</text>
<text transform="translate(350.9,539.1) scale(0.975,1)" class="tl" text-anchor="middle">200</text>
<text transform="translate(571.1,539.1) scale(0.975,1)" class="tl" text-anchor="middle">400</text>
<text transform="translate(791.4,539.1) scale(0.975,1)" class="tl" text-anchor="middle">600</text>
<text transform="translate(1011.6,539.1) scale(0.975,1)" class="tl" text-anchor="middle">800</text>
<text transform="translate(1231.8,539.1) scale(0.975,1)" class="tl" text-anchor="middle">1000</text>
<text transform="translate(122.1,418.9) scale(0.975,1)" class="tl" text-anchor="end">20</text>
<text transform="translate(122.1,321.8) scale(0.975,1)" class="tl" text-anchor="end">40</text>
<text transform="translate(122.1,224.8) scale(0.975,1)" class="tl" text-anchor="end">60</text>
<text transform="translate(122.1,127.7) scale(0.975,1)" class="tl" text-anchor="end">80</text>
<text transform="translate(122.1,30.6) scale(0.975,1)" class="tl" text-anchor="end">100</text>
<clipPath id="clipB"><rect x="1353.8" y="15.8" width="1101.1" height="485.4"/></clipPath>
<g clip-path="url(#clipB)">
<rect x="1353.8" y="15.8" width="1101.1" height="485.4" fill="#00ff00"/>
<polygon fill="#ffa500" points="1353.8,13.8 1353.8,15.8 1354.4,19.1 1354.9,21.7 1355.5,23.9 1356,25.8 1356.6,27.6 1357.1,29.2 1357.7,30.8 1358.2,32.4 1358.8,33.9 1359.3,35.3 1359.9,36.8 1360.4,38.2 1361,39.6 1361.5,41 1362.1,42.4 1362.6,43.7 1363.2,45 1363.7,46.3 1364.3,47.5 1364.8,48.8 1365.4,50 1365.9,51.2 1366.5,52.4 1367,53.5 1367.6,54.6 1368.1,55.7 1368.7,56.8 1369.2,57.9 1369.8,59 1370.3,60 1370.9,61 1371.4,62 1372,63 1372.5,64 1373.1,64.9 1373.6,65.9 1374.2,66.8 1374.7,67.7 1375.3,68.6 1375.8,69.5 1376.9,71.2 1378,72.9 1379.1,74.6 1380.2,76.2 1381.3,77.8 1382.4,79.4 1383.5,80.9 1384.6,82.5 1385.7,83.9 1386.8,85.4 1387.9,86.9 1389,88.3 1390.1,89.7 1391.2,91.1 1392.3,92.5 1393.4,93.9 1394.5,95.2 1395.6,96.6 1396.7,97.9 1397.8,99.2 1398.9,100.5 1400,101.8 1401.1,103.1 1402.2,104.4 1403.3,105.7 1404.5,107 1405.6,108.2 1406.7,109.5 1407.8,110.8 1408.9,112 1410,113.2 1411.1,114.5 1412.2,115.7 1413.3,116.9 1414.4,118.1 1415.5,119.4 1416.6,120.6 1417.7,121.8 1418.8,123 1419.9,124.2 1421,125.4 1422.1,126.5 1423.2,127.7 1424.3,128.9 1425.4,130.1 1426.5,131.3 1427.6,132.4 1428.7,133.6 1429.8,134.7 1430.9,135.9 1432,137 1433.1,138.2 1434.2,139.3 1435.3,140.5 1436.4,141.6 1437.5,142.8 1438.6,143.9 1439.7,145 1440.8,146.1 1441.9,147.3 1443,148.4 1444.1,149.5 1445.2,150.6 1446.3,151.7 1447.4,152.8 1448.5,153.9 1449.6,155 1450.7,156.1 1451.8,157.2 1452.9,158.3 1454,159.4 1455.1,160.4 1456.2,161.5 1457.3,162.6 1458.4,163.7 1459.5,164.7 1460.6,165.8 1461.7,166.8 1462.8,167.9 1463.9,168.9 1465,170 1466.1,171 1467.2,172.1 1468.3,173.1 1469.4,174.2 1470.5,175.2 1471.6,176.2 1472.7,177.2 1473.8,178.3 1474.9,179.3 1476,180.3 1477.1,181.3 1478.2,182.3 1479.3,183.3 1480.4,184.3 1481.5,185.3 1482.6,186.3 1483.7,187.3 1484.8,188.3 1485.9,189.3 1487,190.2 1488.1,191.2 1489.2,192.2 1490.3,193.2 1491.4,194.1 1492.5,195.1 1493.6,196 1494.7,197 1495.8,197.9 1496.9,198.9 1498,199.8 1499.1,200.8 1500.2,201.7 1501.3,202.7 1502.4,203.6 1503.5,204.5 1504.7,205.4 1505.8,206.3 1506.9,207.3 1508,208.2 1509.1,209.1 1510.2,210 1511.3,210.9 1512.4,211.8 1513.5,212.7 1514.6,213.6 1515.7,214.5 1516.8,215.3 1517.9,216.2 1519,217.1 1520.1,218 1521.2,218.8 1522.3,219.7 1523.4,220.6 1524.5,221.4 1525.6,222.3 1526.7,223.1 1527.8,224 1528.9,224.8 1530,225.7 1531.1,226.5 1532.2,227.3 1533.3,228.2 1534.4,229 1535.5,229.8 1536.6,230.6 1537.7,231.5 1538.8,232.3 1539.9,233.1 1541,233.9 1542.1,234.7 1543.2,235.5 1544.3,236.3 1545.4,237.1 1546.5,237.9 1547.6,238.7 1548.7,239.4 1549.8,240.2 1550.9,241 1552,241.8 1553.1,242.5 1554.2,243.3 1555.3,244.1 1556.4,244.8 1557.5,245.6 1558.6,246.3 1559.7,247.1 1560.8,247.8 1561.9,248.6 1563,249.3 1564.1,250.1 1565.2,250.8 1566.3,251.5 1567.4,252.2 1568.5,253 1569.6,253.7 1570.7,254.4 1571.8,255.1 1572.9,255.8 1574,256.5 1579.5,260 1585,263.4 1590.5,266.8 1596,270 1601.5,273.2 1607.1,276.3 1612.6,279.4 1618.1,282.4 1623.6,285.3 1629.1,288.1 1634.6,290.9 1640.1,293.6 1645.6,296.2 1651.1,298.8 1656.6,301.3 1662.1,303.8 1667.6,306.2 1673.1,308.5 1678.6,310.8 1684.1,313.1 1689.6,315.3 1695.1,317.4 1700.6,319.5 1706.2,321.6 1711.7,323.5 1717.2,325.5 1722.7,327.4 1728.2,329.3 1733.7,331.1 1739.2,332.9 1744.7,334.6 1750.2,336.3 1755.7,337.9 1761.2,339.5 1766.7,341.1 1772.2,342.7 1777.7,344.2 1783.2,345.7 1788.7,347.1 1794.2,348.5 1799.7,349.9 1805.3,351.2 1810.8,352.5 1816.3,353.8 1821.8,355.1 1827.3,356.3 1832.8,357.5 1838.3,358.7 1843.8,359.8 1849.3,361 1854.8,362.1 1860.3,363.1 1865.8,364.2 1871.3,365.2 1876.8,366.2 1882.3,367.2 1887.8,368.2 1893.3,369.1 1898.8,370 1904.3,370.9 1909.9,371.8 1915.4,372.7 1920.9,373.5 1926.4,374.3 1931.9,375.1 1937.4,375.9 1942.9,376.7 1948.4,377.5 1953.9,378.2 1959.4,378.9 1964.9,379.6 1970.4,380.3 1975.9,381 1981.4,381.7 1986.9,382.3 1992.4,383 1997.9,383.6 2003.4,384.2 2009,384.8 2014.5,385.4 2020,386 2025.5,386.6 2031,387.1 2036.5,387.7 2042,388.2 2047.5,388.7 2053,389.2 2058.5,389.7 2064,390.2 2069.5,390.7 2075,391.2 2080.5,391.6 2086,392.1 2091.5,392.5 2097,392.9 2102.5,393.4 2108.1,393.8 2113.6,394.2 2119.1,394.6 2124.6,395 2130.1,395.4 2135.6,395.8 2141.1,396.1 2146.6,396.5 2152.1,396.8 2157.6,397.2 2163.1,397.5 2168.6,397.9 2174.1,398.2 2179.6,398.5 2185.1,398.8 2190.6,399.1 2196.1,399.5 2201.6,399.7 2207.2,400 2212.7,400.3 2218.2,400.6 2223.7,400.9 2229.2,401.2 2234.7,401.4 2240.2,401.7 2245.7,401.9 2251.2,402.2 2256.7,402.4 2262.2,402.7 2267.7,402.9 2273.2,403.2 2278.7,403.4 2284.2,403.6 2289.7,403.8 2295.2,404 2300.7,404.3 2306.3,404.5 2311.8,404.7 2317.3,404.9 2322.8,405.1 2328.3,405.3 2333.8,405.5 2339.3,405.6 2344.8,405.8 2350.3,406 2355.8,406.2 2361.3,406.4 2366.8,406.5 2372.3,406.7 2377.8,406.9 2383.3,407 2388.8,407.2 2394.3,407.3 2399.8,407.5 2405.4,407.6 2410.9,407.8 2416.4,407.9 2421.9,408.1 2427.4,408.2 2432.9,408.3 2438.4,408.5 2443.9,408.6 2449.4,408.7 2454.9,408.9 2454.9,13.8"/>
<polygon fill="#ff0000" points="1353.8,13.8 1353.8,15.8 1354.4,15.8 1354.9,15.8 1355.5,15.8 1356,15.8 1356.6,15.8 1357.1,15.8 1357.7,16.1 1358.2,18.3 1358.8,20.6 1359.3,22.7 1359.9,24.7 1360.4,26.6 1361,28.4 1361.5,30 1362.1,31.6 1362.6,33.1 1363.2,34.5 1363.7,35.8 1364.3,37.1 1364.8,38.3 1365.4,39.4 1365.9,40.5 1366.5,41.5 1367,42.5 1367.6,43.5 1368.1,44.4 1368.7,45.3 1369.2,46.1 1369.8,47 1370.3,47.8 1370.9,48.6 1371.4,49.4 1372,50.2 1372.5,50.9 1373.1,51.7 1373.6,52.4 1374.2,53.1 1374.7,53.8 1375.3,54.5 1375.8,55.2 1376.9,56.6 1378,58 1379.1,59.3 1380.2,60.7 1381.3,62 1382.4,63.3 1383.5,64.6 1384.6,65.9 1385.7,67.2 1386.8,68.5 1387.9,69.8 1389,71.1 1390.1,72.4 1391.2,73.6 1392.3,74.9 1393.4,76.2 1394.5,77.5 1395.6,78.7 1396.7,80 1397.8,81.3 1398.9,82.5 1400,83.8 1401.1,85.1 1402.2,86.3 1403.3,87.6 1404.5,88.8 1405.6,90 1406.7,91.3 1407.8,92.5 1408.9,93.7 1410,95 1411.1,96.2 1412.2,97.4 1413.3,98.6 1414.4,99.8 1415.5,101 1416.6,102.2 1417.7,103.4 1418.8,104.6 1419.9,105.8 1421,107 1422.1,108.1 1423.2,109.3 1424.3,110.5 1425.4,111.6 1426.5,112.8 1427.6,114 1428.7,115.1 1429.8,116.3 1430.9,117.4 1432,118.5 1433.1,119.7 1434.2,120.8 1435.3,121.9 1436.4,123.1 1437.5,124.2 1438.6,125.3 1439.7,126.4 1440.8,127.5 1441.9,128.6 1443,129.7 1444.1,130.8 1445.2,131.9 1446.3,133 1447.4,134 1448.5,135.1 1449.6,136.2 1450.7,137.3 1451.8,138.3 1452.9,139.4 1454,140.4 1455.1,141.5 1456.2,142.5 1457.3,143.6 1458.4,144.6 1459.5,145.7 1460.6,146.7 1461.7,147.7 1462.8,148.8 1463.9,149.8 1465,150.8 1466.1,151.8 1467.2,152.8 1468.3,153.8 1469.4,154.8 1470.5,155.8 1471.6,156.8 1472.7,157.8 1473.8,158.8 1474.9,159.8 1476,160.8 1477.1,161.8 1478.2,162.8 1479.3,163.7 1480.4,164.7 1481.5,165.7 1482.6,166.6 1483.7,167.6 1484.8,168.5 1485.9,169.5 1487,170.4 1488.1,171.4 1489.2,172.3 1490.3,173.3 1491.4,174.2 1492.5,175.1 1493.6,176.1 1494.7,177 1495.8,177.9 1496.9,178.8 1498,179.7 1499.1,180.6 1500.2,181.5 1501.3,182.4 1502.4,183.4 1503.5,184.2 1504.7,185.1 1505.8,186 1506.9,186.9 1508,187.8 1509.1,188.7 1510.2,189.6 1511.3,190.4 1512.4,191.3 1513.5,192.2 1514.6,193 1515.7,193.9 1516.8,194.8 1517.9,195.6 1519,196.5 1520.1,197.3 1521.2,198.2 1522.3,199 1523.4,199.8 1524.5,200.7 1525.6,201.5 1526.7,202.3 1527.8,203.2 1528.9,204 1530,204.8 1531.1,205.6 1532.2,206.4 1533.3,207.3 1534.4,208.1 1535.5,208.9 1536.6,209.7 1537.7,210.5 1538.8,211.3 1539.9,212.1 1541,212.8 1542.1,213.6 1543.2,214.4 1544.3,215.2 1545.4,216 1546.5,216.7 1547.6,217.5 1548.7,218.3 1549.8,219.1 1550.9,219.8 1552,220.6 1553.1,221.3 1554.2,222.1 1555.3,222.8 1556.4,223.6 1557.5,224.3 1558.6,225.1 1559.7,225.8 1560.8,226.5 1561.9,227.3 1563,228 1564.1,228.7 1565.2,229.5 1566.3,230.2 1567.4,230.9 1568.5,231.6 1569.6,232.3 1570.7,233 1571.8,233.8 1572.9,234.5 1574,235.2 1579.5,238.6 1585,242 1590.5,245.4 1596,248.6 1601.5,251.8 1607.1,255 1612.6,258.1 1618.1,261.1 1623.6,264 1629.1,266.9 1634.6,269.8 1640.1,272.5 1645.6,275.3 1651.1,277.9 1656.6,280.5 1662.1,283.1 1667.6,285.6 1673.1,288.1 1678.6,290.5 1684.1,292.8 1689.6,295.2 1695.1,297.4 1700.6,299.6 1706.2,301.8 1711.7,303.9 1717.2,306 1722.7,308.1 1728.2,310.1 1733.7,312 1739.2,314 1744.7,315.8 1750.2,317.7 1755.7,319.5 1761.2,321.3 1766.7,323 1772.2,324.7 1777.7,326.4 1783.2,328 1788.7,329.6 1794.2,331.2 1799.7,332.7 1805.3,334.2 1810.8,335.7 1816.3,337.1 1821.8,338.5 1827.3,339.9 1832.8,341.3 1838.3,342.6 1843.8,343.9 1849.3,345.2 1854.8,346.5 1860.3,347.7 1865.8,348.9 1871.3,350.1 1876.8,351.2 1882.3,352.4 1887.8,353.5 1893.3,354.6 1898.8,355.7 1904.3,356.7 1909.9,357.7 1915.4,358.7 1920.9,359.7 1926.4,360.7 1931.9,361.7 1937.4,362.6 1942.9,363.5 1948.4,364.4 1953.9,365.3 1959.4,366.1 1964.9,367 1970.4,367.8 1975.9,368.6 1981.4,369.4 1986.9,370.2 1992.4,371 1997.9,371.7 2003.4,372.5 2009,373.2 2014.5,373.9 2020,374.6 2025.5,375.3 2031,376 2036.5,376.6 2042,377.3 2047.5,377.9 2053,378.5 2058.5,379.1 2064,379.7 2069.5,380.3 2075,380.9 2080.5,381.4 2086,382 2091.5,382.5 2097,383.1 2102.5,383.6 2108.1,384.1 2113.6,384.6 2119.1,385.1 2124.6,385.6 2130.1,386.1 2135.6,386.5 2141.1,387 2146.6,387.4 2152.1,387.9 2157.6,388.3 2163.1,388.7 2168.6,389.2 2174.1,389.6 2179.6,390 2185.1,390.4 2190.6,390.7 2196.1,391.1 2201.6,391.5 2207.2,391.8 2212.7,392.2 2218.2,392.6 2223.7,392.9 2229.2,393.2 2234.7,393.6 2240.2,393.9 2245.7,394.2 2251.2,394.5 2256.7,394.8 2262.2,395.1 2267.7,395.4 2273.2,395.7 2278.7,396 2284.2,396.3 2289.7,396.5 2295.2,396.8 2300.7,397.1 2306.3,397.3 2311.8,397.6 2317.3,397.8 2322.8,398.1 2328.3,398.3 2333.8,398.5 2339.3,398.8 2344.8,399 2350.3,399.2 2355.8,399.4 2361.3,399.6 2366.8,399.8 2372.3,400 2377.8,400.2 2383.3,400.4 2388.8,400.6 2394.3,400.8 2399.8,401 2405.4,401.2 2410.9,401.4 2416.4,401.5 2421.9,401.7 2427.4,401.9 2432.9,402 2438.4,402.2 2443.9,402.3 2449.4,402.5 2454.9,402.6 2454.9,13.8"/>
<polygon fill="#ffff00" points="1353.8,13.8 1353.8,15.8 1354.4,15.8 1354.9,15.8 1355.5,15.8 1356,15.8 1356.6,15.8 1357.1,15.8 1357.7,16.1 1358.2,18.2 1358.8,18.7 1359.3,19.2 1359.9,19.7 1360.4,20.2 1361,20.6 1361.5,21.1 1362.1,21.5 1362.6,22 1363.2,22.4 1363.7,22.8 1364.3,23.2 1364.8,23.7 1365.4,24.1 1365.9,24.5 1366.5,24.9 1367,25.2 1367.6,25.6 1368.1,26 1368.7,26.4 1369.2,26.8 1369.8,27.1 1370.3,27.5 1370.9,27.9 1371.4,28.2 1372,28.6 1372.5,28.9 1373.1,29.3 1373.6,29.6 1374.2,30 1374.7,30.3 1375.3,30.7 1375.8,31 1376.9,31.7 1378,32.3 1379.1,33 1380.2,33.7 1381.3,34.3 1382.4,35 1383.5,35.6 1384.6,36.2 1385.7,36.9 1386.8,37.5 1387.9,38.1 1389,38.7 1390.1,39.4 1391.2,40 1392.3,40.6 1393.4,41.2 1394.5,41.8 1395.6,42.4 1396.7,43 1397.8,43.7 1398.9,44.3 1400,44.9 1401.1,45.5 1402.2,46.1 1403.3,46.7 1404.5,47.3 1405.6,47.9 1406.7,48.5 1407.8,49.1 1408.9,49.7 1410,50.4 1411.1,51 1412.2,51.6 1413.3,52.2 1414.4,52.8 1415.5,53.4 1416.6,54 1417.7,54.6 1418.8,55.2 1419.9,55.9 1421,56.5 1422.1,57.1 1423.2,57.7 1424.3,58.3 1425.4,58.9 1426.5,59.6 1427.6,60.2 1428.7,60.8 1429.8,61.4 1430.9,62 1432,62.7 1433.1,63.3 1434.2,63.9 1435.3,64.5 1436.4,65.2 1437.5,65.8 1438.6,66.4 1439.7,67 1440.8,67.7 1441.9,68.3 1443,68.9 1444.1,69.5 1445.2,70.2 1446.3,70.8 1447.4,71.4 1448.5,72 1449.6,72.7 1450.7,73.3 1451.8,73.9 1452.9,74.6 1454,75.2 1455.1,75.8 1456.2,76.4 1457.3,77.1 1458.4,77.7 1459.5,78.3 1460.6,79 1461.7,79.6 1462.8,80.2 1463.9,80.8 1465,81.5 1466.1,82.1 1467.2,82.7 1468.3,83.3 1469.4,84 1470.5,84.6 1471.6,85.2 1472.7,85.8 1473.8,86.5 1474.9,87.1 1476,87.7 1477.1,88.3 1478.2,89 1479.3,89.6 1480.4,90.2 1481.5,90.8 1482.6,91.4 1483.7,92 1484.8,92.7 1485.9,93.3 1487,93.9 1488.1,94.5 1489.2,95.1 1490.3,95.7 1491.4,96.3 1492.5,96.9 1493.6,97.5 1494.7,98.2 1495.8,98.8 1496.9,99.4 1498,100 1499.1,100.6 1500.2,101.2 1501.3,101.8 1502.4,102.4 1503.5,103 1504.7,103.6 1505.8,104.2 1506.9,104.8 1508,105.3 1509.1,105.9 1510.2,106.5 1511.3,107.1 1512.4,107.7 1513.5,108.3 1514.6,108.9 1515.7,109.5 1516.8,110 1517.9,110.6 1519,111.2 1520.1,111.8 1521.2,112.3 1522.3,112.9 1523.4,113.5 1524.5,114.1 1525.6,114.6 1526.7,115.2 1527.8,115.8 1528.9,116.3 1530,116.9 1531.1,117.5 1532.2,118 1533.3,118.6 1534.4,119.1 1535.5,119.7 1536.6,120.3 1537.7,120.8 1538.8,121.4 1539.9,121.9 1541,122.5 1542.1,123 1543.2,123.6 1544.3,124.1 1545.4,124.6 1546.5,125.2 1547.6,125.7 1548.7,126.3 1549.8,126.8 1550.9,127.3 1552,127.9 1553.1,128.4 1554.2,128.9 1555.3,129.5 1556.4,130 1557.5,130.5 1558.6,131 1559.7,131.6 1560.8,132.1 1561.9,132.6 1563,133.1 1564.1,133.6 1565.2,134.1 1566.3,134.7 1567.4,135.2 1568.5,135.7 1569.6,136.2 1570.7,136.7 1571.8,137.2 1572.9,137.7 1574,138.2 1579.5,140.7 1585,143.1 1590.5,145.5 1596,147.9 1601.5,150.2 1607.1,152.5 1612.6,154.7 1618.1,156.9 1623.6,159.1 1629.1,161.2 1634.6,163.3 1640.1,165.3 1645.6,167.3 1651.1,169.3 1656.6,171.2 1662.1,173.1 1667.6,175 1673.1,176.8 1678.6,178.6 1684.1,180.4 1689.6,182.2 1695.1,183.9 1700.6,185.5 1706.2,187.2 1711.7,188.8 1717.2,190.4 1722.7,191.9 1728.2,193.5 1733.7,195 1739.2,196.4 1744.7,197.9 1750.2,199.3 1755.7,200.7 1761.2,202.1 1766.7,203.4 1772.2,204.7 1777.7,206 1783.2,207.3 1788.7,208.5 1794.2,209.8 1799.7,211 1805.3,212.1 1810.8,213.3 1816.3,214.4 1821.8,215.6 1827.3,216.7 1832.8,217.7 1838.3,218.8 1843.8,219.8 1849.3,220.9 1854.8,221.9 1860.3,222.9 1865.8,223.8 1871.3,224.8 1876.8,225.7 1882.3,226.6 1887.8,227.5 1893.3,228.4 1898.8,229.3 1904.3,230.1 1909.9,231 1915.4,231.8 1920.9,232.6 1926.4,233.4 1931.9,234.2 1937.4,235 1942.9,235.7 1948.4,236.5 1953.9,237.2 1959.4,237.9 1964.9,238.6 1970.4,239.3 1975.9,240 1981.4,240.6 1986.9,241.3 1992.4,241.9 1997.9,242.6 2003.4,243.2 2009,243.8 2014.5,244.4 2020,245 2025.5,245.6 2031,246.1 2036.5,246.7 2042,247.3 2047.5,247.8 2053,248.3 2058.5,248.9 2064,249.4 2069.5,249.9 2075,250.4 2080.5,250.9 2086,251.3 2091.5,251.8 2097,252.3 2102.5,252.7 2108.1,253.2 2113.6,253.6 2119.1,254 2124.6,254.5 2130.1,254.9 2135.6,255.3 2141.1,255.7 2146.6,256.1 2152.1,256.5 2157.6,256.8 2163.1,257.2 2168.6,257.6 2174.1,257.9 2179.6,258.3 2185.1,258.7 2190.6,259 2196.1,259.3 2201.6,259.7 2207.2,260 2212.7,260.3 2218.2,260.6 2223.7,260.9 2229.2,261.2 2234.7,261.5 2240.2,261.8 2245.7,262.1 2251.2,262.4 2256.7,262.7 2262.2,262.9 2267.7,263.2 2273.2,263.5 2278.7,263.7 2284.2,264 2289.7,264.2 2295.2,264.5 2300.7,264.7 2306.3,264.9 2311.8,265.2 2317.3,265.4 2322.8,265.6 2328.3,265.8 2333.8,266.1 2339.3,266.3 2344.8,266.5 2350.3,266.7 2355.8,266.9 2361.3,267.1 2366.8,267.3 2372.3,267.5 2377.8,267.6 2383.3,267.8 2388.8,268 2394.3,268.2 2399.8,268.3 2405.4,268.5 2410.9,268.7 2416.4,268.8 2421.9,269 2427.4,269.1 2432.9,269.3 2438.4,269.4 2443.9,269.6 2449.4,269.7 2454.9,269.9 2454.9,13.8"/>
<polygon fill="#87ceeb" points="1353.8,13.8 1353.8,15.8 1354.4,15.8 1354.9,15.8 1355.5,15.8 1356,15.8 1356.6,15.8 1357.1,15.8 1357.7,15.8 1358.2,15.8 1358.8,15.8 1359.3,15.8 1359.9,15.8 1360.4,15.8 1361,15.8 1361.5,15.8 1362.1,15.8 1362.6,15.8 1363.2,15.8 1363.7,15.9 1364.3,16 1364.8,16.1 1365.4,16.1 1365.9,16.2 1366.5,16.2 1367,16.2 1367.6,16.2 1368.1,16.2 1368.7,16.2 1369.2,16.2 1369.8,16.2 1370.3,16.3 1370.9,16.3 1371.4,16.3 1372,16.3 1372.5,16.3 1373.1,16.3 1373.6,16.3 1374.2,16.4 1374.7,16.4 1375.3,16.4 1375.8,16.5 1376.9,16.6 1378,16.7 1379.1,16.9 1380.2,17 1381.3,17.2 1382.4,17.4 1383.5,17.6 1384.6,17.8 1385.7,18.1 1386.8,18.3 1387.9,18.6 1389,18.9 1390.1,19.2 1391.2,19.5 1392.3,19.8 1393.4,20.1 1394.5,20.4 1395.6,20.7 1396.7,21.1 1397.8,21.4 1398.9,21.7 1400,22.1 1401.1,22.4 1402.2,22.8 1403.3,23.1 1404.5,23.5 1405.6,23.8 1406.7,24.2 1407.8,24.6 1408.9,24.9 1410,25.3 1411.1,25.7 1412.2,26 1413.3,26.4 1414.4,26.8 1415.5,27.1 1416.6,27.5 1417.7,27.9 1418.8,28.3 1419.9,28.6 1421,29 1422.1,29.4 1423.2,29.8 1424.3,30.2 1425.4,30.5 1426.5,30.9 1427.6,31.3 1428.7,31.7 1429.8,32.1 1430.9,32.4 1432,32.8 1433.1,33.2 1434.2,33.6 1435.3,34 1436.4,34.4 1437.5,34.8 1438.6,35.2 1439.7,35.5 1440.8,35.9 1441.9,36.3 1443,36.7 1444.1,37.1 1445.2,37.5 1446.3,37.9 1447.4,38.3 1448.5,38.7 1449.6,39.1 1450.7,39.5 1451.8,39.9 1452.9,40.3 1454,40.7 1455.1,41.1 1456.2,41.5 1457.3,41.9 1458.4,42.3 1459.5,42.7 1460.6,43.1 1461.7,43.5 1462.8,43.9 1463.9,44.3 1465,44.7 1466.1,45.1 1467.2,45.5 1468.3,45.9 1469.4,46.3 1470.5,46.7 1471.6,47.1 1472.7,47.5 1473.8,47.9 1474.9,48.4 1476,48.8 1477.1,49.2 1478.2,49.6 1479.3,50 1480.4,50.4 1481.5,50.8 1482.6,51.2 1483.7,51.6 1484.8,52.1 1485.9,52.5 1487,52.9 1488.1,53.3 1489.2,53.7 1490.3,54.1 1491.4,54.5 1492.5,54.9 1493.6,55.4 1494.7,55.8 1495.8,56.2 1496.9,56.6 1498,57 1499.1,57.4 1500.2,57.8 1501.3,58.3 1502.4,58.7 1503.5,59.1 1504.7,59.5 1505.8,59.9 1506.9,60.3 1508,60.8 1509.1,61.2 1510.2,61.6 1511.3,62 1512.4,62.4 1513.5,62.8 1514.6,63.2 1515.7,63.7 1516.8,64.1 1517.9,64.5 1519,64.9 1520.1,65.3 1521.2,65.7 1522.3,66.1 1523.4,66.5 1524.5,67 1525.6,67.4 1526.7,67.8 1527.8,68.2 1528.9,68.6 1530,69 1531.1,69.4 1532.2,69.8 1533.3,70.2 1534.4,70.6 1535.5,71.1 1536.6,71.5 1537.7,71.9 1538.8,72.3 1539.9,72.7 1541,73.1 1542.1,73.5 1543.2,73.9 1544.3,74.3 1545.4,74.7 1546.5,75.1 1547.6,75.5 1548.7,75.9 1549.8,76.3 1550.9,76.7 1552,77.1 1553.1,77.5 1554.2,77.9 1555.3,78.3 1556.4,78.7 1557.5,79.1 1558.6,79.5 1559.7,79.9 1560.8,80.3 1561.9,80.7 1563,81.1 1564.1,81.5 1565.2,81.9 1566.3,82.3 1567.4,82.7 1568.5,83.1 1569.6,83.5 1570.7,83.9 1571.8,84.2 1572.9,84.6 1574,85 1579.5,86.9 1585,88.9 1590.5,90.8 1596,92.6 1601.5,94.5 1607.1,96.3 1612.6,98.1 1618.1,99.9 1623.6,101.7 1629.1,103.4 1634.6,105.1 1640.1,106.8 1645.6,108.5 1651.1,110.2 1656.6,111.8 1662.1,113.4 1667.6,115 1673.1,116.6 1678.6,118.1 1684.1,119.6 1689.6,121.1 1695.1,122.6 1700.6,124.1 1706.2,125.5 1711.7,126.9 1717.2,128.3 1722.7,129.7 1728.2,131 1733.7,132.4 1739.2,133.7 1744.7,135 1750.2,136.3 1755.7,137.5 1761.2,138.8 1766.7,140 1772.2,141.2 1777.7,142.4 1783.2,143.5 1788.7,144.7 1794.2,145.8 1799.7,146.9 1805.3,148 1810.8,149.1 1816.3,150.1 1821.8,151.2 1827.3,152.2 1832.8,153.2 1838.3,154.2 1843.8,155.2 1849.3,156.2 1854.8,157.1 1860.3,158.1 1865.8,159 1871.3,159.9 1876.8,160.8 1882.3,161.7 1887.8,162.5 1893.3,163.4 1898.8,164.2 1904.3,165.1 1909.9,165.9 1915.4,166.7 1920.9,167.5 1926.4,168.3 1931.9,169 1937.4,169.8 1942.9,170.5 1948.4,171.3 1953.9,172 1959.4,172.7 1964.9,173.4 1970.4,174.1 1975.9,174.8 1981.4,175.5 1986.9,176.1 1992.4,176.8 1997.9,177.4 2003.4,178.1 2009,178.7 2014.5,179.3 2020,179.9 2025.5,180.5 2031,181.1 2036.5,181.7 2042,182.2 2047.5,182.8 2053,183.4 2058.5,183.9 2064,184.4 2069.5,185 2075,185.5 2080.5,186 2086,186.5 2091.5,187 2097,187.5 2102.5,188 2108.1,188.5 2113.6,188.9 2119.1,189.4 2124.6,189.9 2130.1,190.3 2135.6,190.8 2141.1,191.2 2146.6,191.6 2152.1,192.1 2157.6,192.5 2163.1,192.9 2168.6,193.3 2174.1,193.7 2179.6,194.1 2185.1,194.5 2190.6,194.9 2196.1,195.3 2201.6,195.6 2207.2,196 2212.7,196.4 2218.2,196.7 2223.7,197.1 2229.2,197.4 2234.7,197.8 2240.2,198.1 2245.7,198.4 2251.2,198.8 2256.7,199.1 2262.2,199.4 2267.7,199.7 2273.2,200 2278.7,200.3 2284.2,200.6 2289.7,200.9 2295.2,201.2 2300.7,201.5 2306.3,201.8 2311.8,202.1 2317.3,202.4 2322.8,202.6 2328.3,202.9 2333.8,203.2 2339.3,203.4 2344.8,203.7 2350.3,203.9 2355.8,204.2 2361.3,204.4 2366.8,204.7 2372.3,204.9 2377.8,205.2 2383.3,205.4 2388.8,205.6 2394.3,205.9 2399.8,206.1 2405.4,206.3 2410.9,206.5 2416.4,206.7 2421.9,207 2427.4,207.2 2432.9,207.4 2438.4,207.6 2443.9,207.8 2449.4,208 2454.9,208.2 2454.9,13.8"/>
<polyline fill="none" stroke="#000" stroke-width="3.4" stroke-linejoin="round" points="1353.8,15.8 1354.4,19.1 1354.9,21.7 1355.5,23.9 1356,25.8 1356.6,27.6 1357.1,29.2 1357.7,30.8 1358.2,32.4 1358.8,33.9 1359.3,35.3 1359.9,36.8 1360.4,38.2 1361,39.6 1361.5,41 1362.1,42.4 1362.6,43.7 1363.2,45 1363.7,46.3 1364.3,47.5 1364.8,48.8 1365.4,50 1365.9,51.2 1366.5,52.4 1367,53.5 1367.6,54.6 1368.1,55.7 1368.7,56.8 1369.2,57.9 1369.8,59 1370.3,60 1370.9,61 1371.4,62 1372,63 1372.5,64 1373.1,64.9 1373.6,65.9 1374.2,66.8 1374.7,67.7 1375.3,68.6 1375.8,69.5 1376.9,71.2 1378,72.9 1379.1,74.6 1380.2,76.2 1381.3,77.8 1382.4,79.4 1383.5,80.9 1384.6,82.5 1385.7,83.9 1386.8,85.4 1387.9,86.9 1389,88.3 1390.1,89.7 1391.2,91.1 1392.3,92.5 1393.4,93.9 1394.5,95.2 1395.6,96.6 1396.7,97.9 1397.8,99.2 1398.9,100.5 1400,101.8 1401.1,103.1 1402.2,104.4 1403.3,105.7 1404.5,107 1405.6,108.2 1406.7,109.5 1407.8,110.8 1408.9,112 1410,113.2 1411.1,114.5 1412.2,115.7 1413.3,116.9 1414.4,118.1 1415.5,119.4 1416.6,120.6 1417.7,121.8 1418.8,123 1419.9,124.2 1421,125.4 1422.1,126.5 1423.2,127.7 1424.3,128.9 1425.4,130.1 1426.5,131.3 1427.6,132.4 1428.7,133.6 1429.8,134.7 1430.9,135.9 1432,137 1433.1,138.2 1434.2,139.3 1435.3,140.5 1436.4,141.6 1437.5,142.8 1438.6,143.9 1439.7,145 1440.8,146.1 1441.9,147.3 1443,148.4 1444.1,149.5 1445.2,150.6 1446.3,151.7 1447.4,152.8 1448.5,153.9 1449.6,155 1450.7,156.1 1451.8,157.2 1452.9,158.3 1454,159.4 1455.1,160.4 1456.2,161.5 1457.3,162.6 1458.4,163.7 1459.5,164.7 1460.6,165.8 1461.7,166.8 1462.8,167.9 1463.9,168.9 1465,170 1466.1,171 1467.2,172.1 1468.3,173.1 1469.4,174.2 1470.5,175.2 1471.6,176.2 1472.7,177.2 1473.8,178.3 1474.9,179.3 1476,180.3 1477.1,181.3 1478.2,182.3 1479.3,183.3 1480.4,184.3 1481.5,185.3 1482.6,186.3 1483.7,187.3 1484.8,188.3 1485.9,189.3 1487,190.2 1488.1,191.2 1489.2,192.2 1490.3,193.2 1491.4,194.1 1492.5,195.1 1493.6,196 1494.7,197 1495.8,197.9 1496.9,198.9 1498,199.8 1499.1,200.8 1500.2,201.7 1501.3,202.7 1502.4,203.6 1503.5,204.5 1504.7,205.4 1505.8,206.3 1506.9,207.3 1508,208.2 1509.1,209.1 1510.2,210 1511.3,210.9 1512.4,211.8 1513.5,212.7 1514.6,213.6 1515.7,214.5 1516.8,215.3 1517.9,216.2 1519,217.1 1520.1,218 1521.2,218.8 1522.3,219.7 1523.4,220.6 1524.5,221.4 1525.6,222.3 1526.7,223.1 1527.8,224 1528.9,224.8 1530,225.7 1531.1,226.5 1532.2,227.3 1533.3,228.2 1534.4,229 1535.5,229.8 1536.6,230.6 1537.7,231.5 1538.8,232.3 1539.9,233.1 1541,233.9 1542.1,234.7 1543.2,235.5 1544.3,236.3 1545.4,237.1 1546.5,237.9 1547.6,238.7 1548.7,239.4 1549.8,240.2 1550.9,241 1552,241.8 1553.1,242.5 1554.2,243.3 1555.3,244.1 1556.4,244.8 1557.5,245.6 1558.6,246.3 1559.7,247.1 1560.8,247.8 1561.9,248.6 1563,249.3 1564.1,250.1 1565.2,250.8 1566.3,251.5 1567.4,252.2 1568.5,253 1569.6,253.7 1570.7,254.4 1571.8,255.1 1572.9,255.8 1574,256.5 1579.5,260 1585,263.4 1590.5,266.8 1596,270 1601.5,273.2 1607.1,276.3 1612.6,279.4 1618.1,282.4 1623.6,285.3 1629.1,288.1 1634.6,290.9 1640.1,293.6 1645.6,296.2 1651.1,298.8 1656.6,301.3 1662.1,303.8 1667.6,306.2 1673.1,308.5 1678.6,310.8 1684.1,313.1 1689.6,315.3 1695.1,317.4 1700.6,319.5 1706.2,321.6 1711.7,323.5 1717.2,325.5 1722.7,327.4 1728.2,329.3 1733.7,331.1 1739.2,332.9 1744.7,334.6 1750.2,336.3 1755.7,337.9 1761.2,339.5 1766.7,341.1 1772.2,342.7 1777.7,344.2 1783.2,345.7 1788.7,347.1 1794.2,348.5 1799.7,349.9 1805.3,351.2 1810.8,352.5 1816.3,353.8 1821.8,355.1 1827.3,356.3 1832.8,357.5 1838.3,358.7 1843.8,359.8 1849.3,361 1854.8,362.1 1860.3,363.1 1865.8,364.2 1871.3,365.2 1876.8,366.2 1882.3,367.2 1887.8,368.2 1893.3,369.1 1898.8,370 1904.3,370.9 1909.9,371.8 1915.4,372.7 1920.9,373.5 1926.4,374.3 1931.9,375.1 1937.4,375.9 1942.9,376.7 1948.4,377.5 1953.9,378.2 1959.4,378.9 1964.9,379.6 1970.4,380.3 1975.9,381 1981.4,381.7 1986.9,382.3 1992.4,383 1997.9,383.6 2003.4,384.2 2009,384.8 2014.5,385.4 2020,386 2025.5,386.6 2031,387.1 2036.5,387.7 2042,388.2 2047.5,388.7 2053,389.2 2058.5,389.7 2064,390.2 2069.5,390.7 2075,391.2 2080.5,391.6 2086,392.1 2091.5,392.5 2097,392.9 2102.5,393.4 2108.1,393.8 2113.6,394.2 2119.1,394.6 2124.6,395 2130.1,395.4 2135.6,395.8 2141.1,396.1 2146.6,396.5 2152.1,396.8 2157.6,397.2 2163.1,397.5 2168.6,397.9 2174.1,398.2 2179.6,398.5 2185.1,398.8 2190.6,399.1 2196.1,399.5 2201.6,399.7 2207.2,400 2212.7,400.3 2218.2,400.6 2223.7,400.9 2229.2,401.2 2234.7,401.4 2240.2,401.7 2245.7,401.9 2251.2,402.2 2256.7,402.4 2262.2,402.7 2267.7,402.9 2273.2,403.2 2278.7,403.4 2284.2,403.6 2289.7,403.8 2295.2,404 2300.7,404.3 2306.3,404.5 2311.8,404.7 2317.3,404.9 2322.8,405.1 2328.3,405.3 2333.8,405.5 2339.3,405.6 2344.8,405.8 2350.3,406 2355.8,406.2 2361.3,406.4 2366.8,406.5 2372.3,406.7 2377.8,406.9 2383.3,407 2388.8,407.2 2394.3,407.3 2399.8,407.5 2405.4,407.6 2410.9,407.8 2416.4,407.9 2421.9,408.1 2427.4,408.2 2432.9,408.3 2438.4,408.5 2443.9,408.6 2449.4,408.7 2454.9,408.9"/>
<polyline fill="none" stroke="#000" stroke-width="3.4" stroke-linejoin="round" points="1353.8,15.8 1354.4,15.8 1354.9,15.8 1355.5,15.8 1356,15.8 1356.6,15.8 1357.1,15.8 1357.7,16.1 1358.2,18.3 1358.8,20.6 1359.3,22.7 1359.9,24.7 1360.4,26.6 1361,28.4 1361.5,30 1362.1,31.6 1362.6,33.1 1363.2,34.5 1363.7,35.8 1364.3,37.1 1364.8,38.3 1365.4,39.4 1365.9,40.5 1366.5,41.5 1367,42.5 1367.6,43.5 1368.1,44.4 1368.7,45.3 1369.2,46.1 1369.8,47 1370.3,47.8 1370.9,48.6 1371.4,49.4 1372,50.2 1372.5,50.9 1373.1,51.7 1373.6,52.4 1374.2,53.1 1374.7,53.8 1375.3,54.5 1375.8,55.2 1376.9,56.6 1378,58 1379.1,59.3 1380.2,60.7 1381.3,62 1382.4,63.3 1383.5,64.6 1384.6,65.9 1385.7,67.2 1386.8,68.5 1387.9,69.8 1389,71.1 1390.1,72.4 1391.2,73.6 1392.3,74.9 1393.4,76.2 1394.5,77.5 1395.6,78.7 1396.7,80 1397.8,81.3 1398.9,82.5 1400,83.8 1401.1,85.1 1402.2,86.3 1403.3,87.6 1404.5,88.8 1405.6,90 1406.7,91.3 1407.8,92.5 1408.9,93.7 1410,95 1411.1,96.2 1412.2,97.4 1413.3,98.6 1414.4,99.8 1415.5,101 1416.6,102.2 1417.7,103.4 1418.8,104.6 1419.9,105.8 1421,107 1422.1,108.1 1423.2,109.3 1424.3,110.5 1425.4,111.6 1426.5,112.8 1427.6,114 1428.7,115.1 1429.8,116.3 1430.9,117.4 1432,118.5 1433.1,119.7 1434.2,120.8 1435.3,121.9 1436.4,123.1 1437.5,124.2 1438.6,125.3 1439.7,126.4 1440.8,127.5 1441.9,128.6 1443,129.7 1444.1,130.8 1445.2,131.9 1446.3,133 1447.4,134 1448.5,135.1 1449.6,136.2 1450.7,137.3 1451.8,138.3 1452.9,139.4 1454,140.4 1455.1,141.5 1456.2,142.5 1457.3,143.6 1458.4,144.6 1459.5,145.7 1460.6,146.7 1461.7,147.7 1462.8,148.8 1463.9,149.8 1465,150.8 1466.1,151.8 1467.2,152.8 1468.3,153.8 1469.4,154.8 1470.5,155.8 1471.6,156.8 1472.7,157.8 1473.8,158.8 1474.9,159.8 1476,160.8 1477.1,161.8 1478.2,162.8 1479.3,163.7 1480.4,164.7 1481.5,165.7 1482.6,166.6 1483.7,167.6 1484.8,168.5 1485.9,169.5 1487,170.4 1488.1,171.4 1489.2,172.3 1490.3,173.3 1491.4,174.2 1492.5,175.1 1493.6,176.1 1494.7,177 1495.8,177.9 1496.9,178.8 1498,179.7 1499.1,180.6 1500.2,181.5 1501.3,182.4 1502.4,183.4 1503.5,184.2 1504.7,185.1 1505.8,186 1506.9,186.9 1508,187.8 1509.1,188.7 1510.2,189.6 1511.3,190.4 1512.4,191.3 1513.5,192.2 1514.6,193 1515.7,193.9 1516.8,194.8 1517.9,195.6 1519,196.5 1520.1,197.3 1521.2,198.2 1522.3,199 1523.4,199.8 1524.5,200.7 1525.6,201.5 1526.7,202.3 1527.8,203.2 1528.9,204 1530,204.8 1531.1,205.6 1532.2,206.4 1533.3,207.3 1534.4,208.1 1535.5,208.9 1536.6,209.7 1537.7,210.5 1538.8,211.3 1539.9,212.1 1541,212.8 1542.1,213.6 1543.2,214.4 1544.3,215.2 1545.4,216 1546.5,216.7 1547.6,217.5 1548.7,218.3 1549.8,219.1 1550.9,219.8 1552,220.6 1553.1,221.3 1554.2,222.1 1555.3,222.8 1556.4,223.6 1557.5,224.3 1558.6,225.1 1559.7,225.8 1560.8,226.5 1561.9,227.3 1563,228 1564.1,228.7 1565.2,229.5 1566.3,230.2 1567.4,230.9 1568.5,231.6 1569.6,232.3 1570.7,233 1571.8,233.8 1572.9,234.5 1574,235.2 1579.5,238.6 1585,242 1590.5,245.4 1596,248.6 1601.5,251.8 1607.1,255 1612.6,258.1 1618.1,261.1 1623.6,264 1629.1,266.9 1634.6,269.8 1640.1,272.5 1645.6,275.3 1651.1,277.9 1656.6,280.5 1662.1,283.1 1667.6,285.6 1673.1,288.1 1678.6,290.5 1684.1,292.8 1689.6,295.2 1695.1,297.4 1700.6,299.6 1706.2,301.8 1711.7,303.9 1717.2,306 1722.7,308.1 1728.2,310.1 1733.7,312 1739.2,314 1744.7,315.8 1750.2,317.7 1755.7,319.5 1761.2,321.3 1766.7,323 1772.2,324.7 1777.7,326.4 1783.2,328 1788.7,329.6 1794.2,331.2 1799.7,332.7 1805.3,334.2 1810.8,335.7 1816.3,337.1 1821.8,338.5 1827.3,339.9 1832.8,341.3 1838.3,342.6 1843.8,343.9 1849.3,345.2 1854.8,346.5 1860.3,347.7 1865.8,348.9 1871.3,350.1 1876.8,351.2 1882.3,352.4 1887.8,353.5 1893.3,354.6 1898.8,355.7 1904.3,356.7 1909.9,357.7 1915.4,358.7 1920.9,359.7 1926.4,360.7 1931.9,361.7 1937.4,362.6 1942.9,363.5 1948.4,364.4 1953.9,365.3 1959.4,366.1 1964.9,367 1970.4,367.8 1975.9,368.6 1981.4,369.4 1986.9,370.2 1992.4,371 1997.9,371.7 2003.4,372.5 2009,373.2 2014.5,373.9 2020,374.6 2025.5,375.3 2031,376 2036.5,376.6 2042,377.3 2047.5,377.9 2053,378.5 2058.5,379.1 2064,379.7 2069.5,380.3 2075,380.9 2080.5,381.4 2086,382 2091.5,382.5 2097,383.1 2102.5,383.6 2108.1,384.1 2113.6,384.6 2119.1,385.1 2124.6,385.6 2130.1,386.1 2135.6,386.5 2141.1,387 2146.6,387.4 2152.1,387.9 2157.6,388.3 2163.1,388.7 2168.6,389.2 2174.1,389.6 2179.6,390 2185.1,390.4 2190.6,390.7 2196.1,391.1 2201.6,391.5 2207.2,391.8 2212.7,392.2 2218.2,392.6 2223.7,392.9 2229.2,393.2 2234.7,393.6 2240.2,393.9 2245.7,394.2 2251.2,394.5 2256.7,394.8 2262.2,395.1 2267.7,395.4 2273.2,395.7 2278.7,396 2284.2,396.3 2289.7,396.5 2295.2,396.8 2300.7,397.1 2306.3,397.3 2311.8,397.6 2317.3,397.8 2322.8,398.1 2328.3,398.3 2333.8,398.5 2339.3,398.8 2344.8,399 2350.3,399.2 2355.8,399.4 2361.3,399.6 2366.8,399.8 2372.3,400 2377.8,400.2 2383.3,400.4 2388.8,400.6 2394.3,400.8 2399.8,401 2405.4,401.2 2410.9,401.4 2416.4,401.5 2421.9,401.7 2427.4,401.9 2432.9,402 2438.4,402.2 2443.9,402.3 2449.4,402.5 2454.9,402.6"/>
<polyline fill="none" stroke="#000" stroke-width="3.4" stroke-linejoin="round" points="1353.8,15.8 1354.4,15.8 1354.9,15.8 1355.5,15.8 1356,15.8 1356.6,15.8 1357.1,15.8 1357.7,16.1 1358.2,18.2 1358.8,18.7 1359.3,19.2 1359.9,19.7 1360.4,20.2 1361,20.6 1361.5,21.1 1362.1,21.5 1362.6,22 1363.2,22.4 1363.7,22.8 1364.3,23.2 1364.8,23.7 1365.4,24.1 1365.9,24.5 1366.5,24.9 1367,25.2 1367.6,25.6 1368.1,26 1368.7,26.4 1369.2,26.8 1369.8,27.1 1370.3,27.5 1370.9,27.9 1371.4,28.2 1372,28.6 1372.5,28.9 1373.1,29.3 1373.6,29.6 1374.2,30 1374.7,30.3 1375.3,30.7 1375.8,31 1376.9,31.7 1378,32.3 1379.1,33 1380.2,33.7 1381.3,34.3 1382.4,35 1383.5,35.6 1384.6,36.2 1385.7,36.9 1386.8,37.5 1387.9,38.1 1389,38.7 1390.1,39.4 1391.2,40 1392.3,40.6 1393.4,41.2 1394.5,41.8 1395.6,42.4 1396.7,43 1397.8,43.7 1398.9,44.3 1400,44.9 1401.1,45.5 1402.2,46.1 1403.3,46.7 1404.5,47.3 1405.6,47.9 1406.7,48.5 1407.8,49.1 1408.9,49.7 1410,50.4 1411.1,51 1412.2,51.6 1413.3,52.2 1414.4,52.8 1415.5,53.4 1416.6,54 1417.7,54.6 1418.8,55.2 1419.9,55.9 1421,56.5 1422.1,57.1 1423.2,57.7 1424.3,58.3 1425.4,58.9 1426.5,59.6 1427.6,60.2 1428.7,60.8 1429.8,61.4 1430.9,62 1432,62.7 1433.1,63.3 1434.2,63.9 1435.3,64.5 1436.4,65.2 1437.5,65.8 1438.6,66.4 1439.7,67 1440.8,67.7 1441.9,68.3 1443,68.9 1444.1,69.5 1445.2,70.2 1446.3,70.8 1447.4,71.4 1448.5,72 1449.6,72.7 1450.7,73.3 1451.8,73.9 1452.9,74.6 1454,75.2 1455.1,75.8 1456.2,76.4 1457.3,77.1 1458.4,77.7 1459.5,78.3 1460.6,79 1461.7,79.6 1462.8,80.2 1463.9,80.8 1465,81.5 1466.1,82.1 1467.2,82.7 1468.3,83.3 1469.4,84 1470.5,84.6 1471.6,85.2 1472.7,85.8 1473.8,86.5 1474.9,87.1 1476,87.7 1477.1,88.3 1478.2,89 1479.3,89.6 1480.4,90.2 1481.5,90.8 1482.6,91.4 1483.7,92 1484.8,92.7 1485.9,93.3 1487,93.9 1488.1,94.5 1489.2,95.1 1490.3,95.7 1491.4,96.3 1492.5,96.9 1493.6,97.5 1494.7,98.2 1495.8,98.8 1496.9,99.4 1498,100 1499.1,100.6 1500.2,101.2 1501.3,101.8 1502.4,102.4 1503.5,103 1504.7,103.6 1505.8,104.2 1506.9,104.8 1508,105.3 1509.1,105.9 1510.2,106.5 1511.3,107.1 1512.4,107.7 1513.5,108.3 1514.6,108.9 1515.7,109.5 1516.8,110 1517.9,110.6 1519,111.2 1520.1,111.8 1521.2,112.3 1522.3,112.9 1523.4,113.5 1524.5,114.1 1525.6,114.6 1526.7,115.2 1527.8,115.8 1528.9,116.3 1530,116.9 1531.1,117.5 1532.2,118 1533.3,118.6 1534.4,119.1 1535.5,119.7 1536.6,120.3 1537.7,120.8 1538.8,121.4 1539.9,121.9 1541,122.5 1542.1,123 1543.2,123.6 1544.3,124.1 1545.4,124.6 1546.5,125.2 1547.6,125.7 1548.7,126.3 1549.8,126.8 1550.9,127.3 1552,127.9 1553.1,128.4 1554.2,128.9 1555.3,129.5 1556.4,130 1557.5,130.5 1558.6,131 1559.7,131.6 1560.8,132.1 1561.9,132.6 1563,133.1 1564.1,133.6 1565.2,134.1 1566.3,134.7 1567.4,135.2 1568.5,135.7 1569.6,136.2 1570.7,136.7 1571.8,137.2 1572.9,137.7 1574,138.2 1579.5,140.7 1585,143.1 1590.5,145.5 1596,147.9 1601.5,150.2 1607.1,152.5 1612.6,154.7 1618.1,156.9 1623.6,159.1 1629.1,161.2 1634.6,163.3 1640.1,165.3 1645.6,167.3 1651.1,169.3 1656.6,171.2 1662.1,173.1 1667.6,175 1673.1,176.8 1678.6,178.6 1684.1,180.4 1689.6,182.2 1695.1,183.9 1700.6,185.5 1706.2,187.2 1711.7,188.8 1717.2,190.4 1722.7,191.9 1728.2,193.5 1733.7,195 1739.2,196.4 1744.7,197.9 1750.2,199.3 1755.7,200.7 1761.2,202.1 1766.7,203.4 1772.2,204.7 1777.7,206 1783.2,207.3 1788.7,208.5 1794.2,209.8 1799.7,211 1805.3,212.1 1810.8,213.3 1816.3,214.4 1821.8,215.6 1827.3,216.7 1832.8,217.7 1838.3,218.8 1843.8,219.8 1849.3,220.9 1854.8,221.9 1860.3,222.9 1865.8,223.8 1871.3,224.8 1876.8,225.7 1882.3,226.6 1887.8,227.5 1893.3,228.4 1898.8,229.3 1904.3,230.1 1909.9,231 1915.4,231.8 1920.9,232.6 1926.4,233.4 1931.9,234.2 1937.4,235 1942.9,235.7 1948.4,236.5 1953.9,237.2 1959.4,237.9 1964.9,238.6 1970.4,239.3 1975.9,240 1981.4,240.6 1986.9,241.3 1992.4,241.9 1997.9,242.6 2003.4,243.2 2009,243.8 2014.5,244.4 2020,245 2025.5,245.6 2031,246.1 2036.5,246.7 2042,247.3 2047.5,247.8 2053,248.3 2058.5,248.9 2064,249.4 2069.5,249.9 2075,250.4 2080.5,250.9 2086,251.3 2091.5,251.8 2097,252.3 2102.5,252.7 2108.1,253.2 2113.6,253.6 2119.1,254 2124.6,254.5 2130.1,254.9 2135.6,255.3 2141.1,255.7 2146.6,256.1 2152.1,256.5 2157.6,256.8 2163.1,257.2 2168.6,257.6 2174.1,257.9 2179.6,258.3 2185.1,258.7 2190.6,259 2196.1,259.3 2201.6,259.7 2207.2,260 2212.7,260.3 2218.2,260.6 2223.7,260.9 2229.2,261.2 2234.7,261.5 2240.2,261.8 2245.7,262.1 2251.2,262.4 2256.7,262.7 2262.2,262.9 2267.7,263.2 2273.2,263.5 2278.7,263.7 2284.2,264 2289.7,264.2 2295.2,264.5 2300.7,264.7 2306.3,264.9 2311.8,265.2 2317.3,265.4 2322.8,265.6 2328.3,265.8 2333.8,266.1 2339.3,266.3 2344.8,266.5 2350.3,266.7 2355.8,266.9 2361.3,267.1 2366.8,267.3 2372.3,267.5 2377.8,267.6 2383.3,267.8 2388.8,268 2394.3,268.2 2399.8,268.3 2405.4,268.5 2410.9,268.7 2416.4,268.8 2421.9,269 2427.4,269.1 2432.9,269.3 2438.4,269.4 2443.9,269.6 2449.4,269.7 2454.9,269.9"/>
<polyline fill="none" stroke="#000" stroke-width="3.4" stroke-linejoin="round" points="1353.8,15.8 1354.4,15.8 1354.9,15.8 1355.5,15.8 1356,15.8 1356.6,15.8 1357.1,15.8 1357.7,15.8 1358.2,15.8 1358.8,15.8 1359.3,15.8 1359.9,15.8 1360.4,15.8 1361,15.8 1361.5,15.8 1362.1,15.8 1362.6,15.8 1363.2,15.8 1363.7,15.9 1364.3,16 1364.8,16.1 1365.4,16.1 1365.9,16.2 1366.5,16.2 1367,16.2 1367.6,16.2 1368.1,16.2 1368.7,16.2 1369.2,16.2 1369.8,16.2 1370.3,16.3 1370.9,16.3 1371.4,16.3 1372,16.3 1372.5,16.3 1373.1,16.3 1373.6,16.3 1374.2,16.4 1374.7,16.4 1375.3,16.4 1375.8,16.5 1376.9,16.6 1378,16.7 1379.1,16.9 1380.2,17 1381.3,17.2 1382.4,17.4 1383.5,17.6 1384.6,17.8 1385.7,18.1 1386.8,18.3 1387.9,18.6 1389,18.9 1390.1,19.2 1391.2,19.5 1392.3,19.8 1393.4,20.1 1394.5,20.4 1395.6,20.7 1396.7,21.1 1397.8,21.4 1398.9,21.7 1400,22.1 1401.1,22.4 1402.2,22.8 1403.3,23.1 1404.5,23.5 1405.6,23.8 1406.7,24.2 1407.8,24.6 1408.9,24.9 1410,25.3 1411.1,25.7 1412.2,26 1413.3,26.4 1414.4,26.8 1415.5,27.1 1416.6,27.5 1417.7,27.9 1418.8,28.3 1419.9,28.6 1421,29 1422.1,29.4 1423.2,29.8 1424.3,30.2 1425.4,30.5 1426.5,30.9 1427.6,31.3 1428.7,31.7 1429.8,32.1 1430.9,32.4 1432,32.8 1433.1,33.2 1434.2,33.6 1435.3,34 1436.4,34.4 1437.5,34.8 1438.6,35.2 1439.7,35.5 1440.8,35.9 1441.9,36.3 1443,36.7 1444.1,37.1 1445.2,37.5 1446.3,37.9 1447.4,38.3 1448.5,38.7 1449.6,39.1 1450.7,39.5 1451.8,39.9 1452.9,40.3 1454,40.7 1455.1,41.1 1456.2,41.5 1457.3,41.9 1458.4,42.3 1459.5,42.7 1460.6,43.1 1461.7,43.5 1462.8,43.9 1463.9,44.3 1465,44.7 1466.1,45.1 1467.2,45.5 1468.3,45.9 1469.4,46.3 1470.5,46.7 1471.6,47.1 1472.7,47.5 1473.8,47.9 1474.9,48.4 1476,48.8 1477.1,49.2 1478.2,49.6 1479.3,50 1480.4,50.4 1481.5,50.8 1482.6,51.2 1483.7,51.6 1484.8,52.1 1485.9,52.5 1487,52.9 1488.1,53.3 1489.2,53.7 1490.3,54.1 1491.4,54.5 1492.5,54.9 1493.6,55.4 1494.7,55.8 1495.8,56.2 1496.9,56.6 1498,57 1499.1,57.4 1500.2,57.8 1501.3,58.3 1502.4,58.7 1503.5,59.1 1504.7,59.5 1505.8,59.9 1506.9,60.3 1508,60.8 1509.1,61.2 1510.2,61.6 1511.3,62 1512.4,62.4 1513.5,62.8 1514.6,63.2 1515.7,63.7 1516.8,64.1 1517.9,64.5 1519,64.9 1520.1,65.3 1521.2,65.7 1522.3,66.1 1523.4,66.5 1524.5,67 1525.6,67.4 1526.7,67.8 1527.8,68.2 1528.9,68.6 1530,69 1531.1,69.4 1532.2,69.8 1533.3,70.2 1534.4,70.6 1535.5,71.1 1536.6,71.5 1537.7,71.9 1538.8,72.3 1539.9,72.7 1541,73.1 1542.1,73.5 1543.2,73.9 1544.3,74.3 1545.4,74.7 1546.5,75.1 1547.6,75.5 1548.7,75.9 1549.8,76.3 1550.9,76.7 1552,77.1 1553.1,77.5 1554.2,77.9 1555.3,78.3 1556.4,78.7 1557.5,79.1 1558.6,79.5 1559.7,79.9 1560.8,80.3 1561.9,80.7 1563,81.1 1564.1,81.5 1565.2,81.9 1566.3,82.3 1567.4,82.7 1568.5,83.1 1569.6,83.5 1570.7,83.9 1571.8,84.2 1572.9,84.6 1574,85 1579.5,86.9 1585,88.9 1590.5,90.8 1596,92.6 1601.5,94.5 1607.1,96.3 1612.6,98.1 1618.1,99.9 1623.6,101.7 1629.1,103.4 1634.6,105.1 1640.1,106.8 1645.6,108.5 1651.1,110.2 1656.6,111.8 1662.1,113.4 1667.6,115 1673.1,116.6 1678.6,118.1 1684.1,119.6 1689.6,121.1 1695.1,122.6 1700.6,124.1 1706.2,125.5 1711.7,126.9 1717.2,128.3 1722.7,129.7 1728.2,131 1733.7,132.4 1739.2,133.7 1744.7,135 1750.2,136.3 1755.7,137.5 1761.2,138.8 1766.7,140 1772.2,141.2 1777.7,142.4 1783.2,143.5 1788.7,144.7 1794.2,145.8 1799.7,146.9 1805.3,148 1810.8,149.1 1816.3,150.1 1821.8,151.2 1827.3,152.2 1832.8,153.2 1838.3,154.2 1843.8,155.2 1849.3,156.2 1854.8,157.1 1860.3,158.1 1865.8,159 1871.3,159.9 1876.8,160.8 1882.3,161.7 1887.8,162.5 1893.3,163.4 1898.8,164.2 1904.3,165.1 1909.9,165.9 1915.4,166.7 1920.9,167.5 1926.4,168.3 1931.9,169 1937.4,169.8 1942.9,170.5 1948.4,171.3 1953.9,172 1959.4,172.7 1964.9,173.4 1970.4,174.1 1975.9,174.8 1981.4,175.5 1986.9,176.1 1992.4,176.8 1997.9,177.4 2003.4,178.1 2009,178.7 2014.5,179.3 2020,179.9 2025.5,180.5 2031,181.1 2036.5,181.7 2042,182.2 2047.5,182.8 2053,183.4 2058.5,183.9 2064,184.4 2069.5,185 2075,185.5 2080.5,186 2086,186.5 2091.5,187 2097,187.5 2102.5,188 2108.1,188.5 2113.6,188.9 2119.1,189.4 2124.6,189.9 2130.1,190.3 2135.6,190.8 2141.1,191.2 2146.6,191.6 2152.1,192.1 2157.6,192.5 2163.1,192.9 2168.6,193.3 2174.1,193.7 2179.6,194.1 2185.1,194.5 2190.6,194.9 2196.1,195.3 2201.6,195.6 2207.2,196 2212.7,196.4 2218.2,196.7 2223.7,197.1 2229.2,197.4 2234.7,197.8 2240.2,198.1 2245.7,198.4 2251.2,198.8 2256.7,199.1 2262.2,199.4 2267.7,199.7 2273.2,200 2278.7,200.3 2284.2,200.6 2289.7,200.9 2295.2,201.2 2300.7,201.5 2306.3,201.8 2311.8,202.1 2317.3,202.4 2322.8,202.6 2328.3,202.9 2333.8,203.2 2339.3,203.4 2344.8,203.7 2350.3,203.9 2355.8,204.2 2361.3,204.4 2366.8,204.7 2372.3,204.9 2377.8,205.2 2383.3,205.4 2388.8,205.6 2394.3,205.9 2399.8,206.1 2405.4,206.3 2410.9,206.5 2416.4,206.7 2421.9,207 2427.4,207.2 2432.9,207.4 2438.4,207.6 2443.9,207.8 2449.4,208 2454.9,208.2"/>
</g>
<path d="M1353.8,501.2v-20M1353.8,15.8v20M1463.9,501.2v-10.5M1463.9,15.8v10.5M1574,501.2v-20M1574,15.8v20M1684.1,501.2v-10.5M1684.1,15.8v10.5M1794.2,501.2v-20M1794.2,15.8v20M1904.3,501.2v-10.5M1904.3,15.8v10.5M2014.5,501.2v-20M2014.5,15.8v20M2124.6,501.2v-10.5M2124.6,15.8v10.5M2234.7,501.2v-20M2234.7,15.8v20M2344.8,501.2v-10.5M2344.8,15.8v10.5M2454.9,501.2v-20M2454.9,15.8v20M1353.8,501.2h20M2454.9,501.2h-20M1353.8,452.7h10.5M2454.9,452.7h-10.5M1353.8,404.1h20M2454.9,404.1h-20M1353.8,355.6h10.5M2454.9,355.6h-10.5M1353.8,307h20M2454.9,307h-20M1353.8,258.5h10.5M2454.9,258.5h-10.5M1353.8,210h20M2454.9,210h-20M1353.8,161.4h10.5M2454.9,161.4h-10.5M1353.8,112.9h20M2454.9,112.9h-20M1353.8,64.3h10.5M2454.9,64.3h-10.5M1353.8,15.8h20M2454.9,15.8h-20" stroke="#000" stroke-width="2.5" fill="none"/>
<rect x="1353.8" y="15.8" width="1101.1" height="485.4" fill="none" stroke="#000" stroke-width="2.6"/>
<circle cx="1592.7" cy="268.1" r="19" fill="none" stroke="#000" stroke-width="3.1"/>
<text class="hl" style="font-size:41.5px" transform="translate(1620,282.5) scale(0.955,1)">217</text>
<rect x="2100.3" y="380.9" width="26.6" height="26.6" fill="none" stroke="#000" stroke-width="3.3"/>
<text class="hl" style="font-size:41.5px" transform="translate(2139.5,408.6) scale(0.955,1)">690</text>
<text class="hl" style="font-size:42px" transform="translate(1375.1,477) scale(0.955,1)">(B) AT</text>
<text transform="translate(1353.8,539.1) scale(0.975,1)" class="tl" text-anchor="middle">0</text>
<text transform="translate(1574,539.1) scale(0.975,1)" class="tl" text-anchor="middle">200</text>
<text transform="translate(1794.2,539.1) scale(0.975,1)" class="tl" text-anchor="middle">400</text>
<text transform="translate(2014.5,539.1) scale(0.975,1)" class="tl" text-anchor="middle">600</text>
<text transform="translate(2234.7,539.1) scale(0.975,1)" class="tl" text-anchor="middle">800</text>
<text transform="translate(2454.9,539.1) scale(0.975,1)" class="tl" text-anchor="middle">1000</text>
<text transform="translate(1345.2,418.9) scale(0.975,1)" class="tl" text-anchor="end">20</text>
<text transform="translate(1345.2,321.8) scale(0.975,1)" class="tl" text-anchor="end">40</text>
<text transform="translate(1345.2,224.8) scale(0.975,1)" class="tl" text-anchor="end">60</text>
<text transform="translate(1345.2,127.7) scale(0.975,1)" class="tl" text-anchor="end">80</text>
<text transform="translate(1345.2,30.6) scale(0.975,1)" class="tl" text-anchor="end">100</text>
<clipPath id="clipC"><rect x="130.7" y="555.0" width="1101.1" height="485.4"/></clipPath>
<g clip-path="url(#clipC)">
<rect x="130.7" y="555.0" width="1101.1" height="485.4" fill="#ffa500"/>
<polygon fill="#00ff00" points="130.7,553 130.7,555 131.3,555 131.8,556.2 132.4,560.2 132.9,564.9 133.5,569.8 134,574.7 134.6,579.5 135.1,584.1 135.7,588.5 136.2,592.8 136.8,596.8 137.3,600.8 137.9,604.5 138.4,608.1 139,611.6 139.5,615 140.1,618.3 140.6,621.5 141.2,624.6 141.7,627.6 142.3,630.5 142.8,633.4 143.4,636.2 143.9,638.9 144.5,641.5 145,644.1 145.6,646.7 146.1,649.2 146.7,651.6 147.2,654.1 147.8,656.4 148.3,658.7 148.9,661 149.4,663.3 150,665.5 150.5,667.6 151.1,669.8 151.6,671.9 152.2,674 152.7,676 153.8,680.1 154.9,684 156,687.8 157.1,691.5 158.2,695.2 159.3,698.7 160.4,702.2 161.5,705.6 162.6,708.9 163.7,712.2 164.8,715.4 165.9,718.5 167,721.6 168.1,724.6 169.2,727.6 170.3,730.5 171.4,733.3 172.5,736.1 173.6,738.8 174.7,741.5 175.8,744.2 176.9,746.8 178,749.4 179.1,751.9 180.2,754.4 181.4,756.8 182.5,759.2 183.6,761.6 184.7,763.9 185.8,766.2 186.9,768.4 188,770.6 189.1,772.8 190.2,775 191.3,777.1 192.4,779.2 193.5,781.3 194.6,783.3 195.7,785.3 196.8,787.3 197.9,789.2 199,791.1 200.1,793 201.2,794.9 202.3,796.8 203.4,798.6 204.5,800.4 205.6,802.2 206.7,803.9 207.8,805.7 208.9,807.4 210,809.1 211.1,810.8 212.2,812.4 213.3,814.1 214.4,815.7 215.5,817.3 216.6,818.9 217.7,820.5 218.8,822 219.9,823.5 221,825.1 222.1,826.6 223.2,828 224.3,829.5 225.4,831 226.5,832.4 227.6,833.8 228.7,835.3 229.8,836.7 230.9,838 232,839.4 233.1,840.8 234.2,842.1 235.3,843.4 236.4,844.8 237.5,846.1 238.6,847.4 239.7,848.7 240.8,849.9 241.9,851.2 243,852.5 244.1,853.7 245.2,854.9 246.3,856.1 247.4,857.3 248.5,858.5 249.6,859.7 250.7,860.9 251.8,862.1 252.9,863.2 254,864.4 255.1,865.5 256.2,866.7 257.3,867.8 258.4,868.9 259.5,870 260.6,871.1 261.7,872.2 262.8,873.2 263.9,874.3 265,875.4 266.1,876.4 267.2,877.5 268.3,878.5 269.4,879.5 270.5,880.6 271.6,881.6 272.7,882.6 273.8,883.6 274.9,884.6 276,885.5 277.1,886.5 278.2,887.5 279.3,888.4 280.4,889.4 281.6,890.3 282.7,891.3 283.8,892.2 284.9,893.1 286,894.1 287.1,895 288.2,895.9 289.3,896.8 290.4,897.7 291.5,898.6 292.6,899.4 293.7,900.3 294.8,901.2 295.9,902 297,902.9 298.1,903.8 299.2,904.6 300.3,905.4 301.4,906.3 302.5,907.1 303.6,907.9 304.7,908.7 305.8,909.5 306.9,910.3 308,911.1 309.1,911.9 310.2,912.7 311.3,913.5 312.4,914.3 313.5,915.1 314.6,915.8 315.7,916.6 316.8,917.3 317.9,918.1 319,918.8 320.1,919.6 321.2,920.3 322.3,921 323.4,921.8 324.5,922.5 325.6,923.2 326.7,923.9 327.8,924.6 328.9,925.3 330,926 331.1,926.7 332.2,927.4 333.3,928.1 334.4,928.8 335.5,929.4 336.6,930.1 337.7,930.8 338.8,931.4 339.9,932.1 341,932.7 342.1,933.4 343.2,934 344.3,934.7 345.4,935.3 346.5,935.9 347.6,936.6 348.7,937.2 349.8,937.8 350.9,938.4 356.4,941.4 361.9,944.3 367.4,947.1 372.9,949.9 378.4,952.5 384,955.1 389.5,957.6 395,959.9 400.5,962.3 406,964.5 411.5,966.7 417,968.8 422.5,970.8 428,972.8 433.5,974.7 439,976.6 444.5,978.4 450,980.1 455.5,981.8 461,983.4 466.5,985 472,986.5 477.5,988 483.1,989.4 488.6,990.8 494.1,992.2 499.6,993.5 505.1,994.7 510.6,996 516.1,997.1 521.6,998.3 527.1,999.4 532.6,1000.5 538.1,1001.5 543.6,1002.5 549.1,1003.5 554.6,1004.5 560.1,1005.4 565.6,1006.3 571.1,1007.1 576.6,1008 582.2,1008.8 587.7,1009.6 593.2,1010.3 598.7,1011.1 604.2,1011.8 609.7,1012.5 615.2,1013.2 620.7,1013.8 626.2,1014.4 631.7,1015 637.2,1015.6 642.7,1016.2 648.2,1016.8 653.7,1017.3 659.2,1017.8 664.7,1018.3 670.2,1018.8 675.7,1019.3 681.2,1019.7 686.8,1020.2 692.3,1020.6 697.8,1021 703.3,1021.4 708.8,1021.8 714.3,1022.2 719.8,1022.6 725.3,1022.9 730.8,1023.3 736.3,1023.6 741.8,1023.9 747.3,1024.3 752.8,1024.6 758.3,1024.9 763.8,1025.1 769.3,1025.4 774.8,1025.7 780.3,1025.9 785.9,1026.2 791.4,1026.4 796.9,1026.7 802.4,1026.9 807.9,1027.1 813.4,1027.3 818.9,1027.5 824.4,1027.7 829.9,1027.9 835.4,1028.1 840.9,1028.3 846.4,1028.5 851.9,1028.6 857.4,1028.8 862.9,1028.9 868.4,1029.1 873.9,1029.2 879.4,1029.4 885,1029.5 890.5,1029.7 896,1029.8 901.5,1029.9 907,1030 912.5,1030.2 918,1030.3 923.5,1030.4 929,1030.5 934.5,1030.6 940,1030.7 945.5,1030.8 951,1030.9 956.5,1030.9 962,1031 967.5,1031.1 973,1031.2 978.5,1031.3 984.1,1031.3 989.6,1031.4 995.1,1031.5 1000.6,1031.5 1006.1,1031.6 1011.6,1031.7 1017.1,1031.7 1022.6,1031.8 1028.1,1031.8 1033.6,1031.9 1039.1,1031.9 1044.6,1032 1050.1,1032 1055.6,1032.1 1061.1,1032.1 1066.6,1032.2 1072.1,1032.2 1077.6,1032.2 1083.2,1032.3 1088.7,1032.3 1094.2,1032.3 1099.7,1032.4 1105.2,1032.4 1110.7,1032.4 1116.2,1032.4 1121.7,1032.5 1127.2,1032.5 1132.7,1032.5 1138.2,1032.5 1143.7,1032.6 1149.2,1032.6 1154.7,1032.6 1160.2,1032.6 1165.7,1032.6 1171.2,1032.7 1176.7,1032.7 1182.3,1032.7 1187.8,1032.7 1193.3,1032.7 1198.8,1032.7 1204.3,1032.7 1209.8,1032.7 1215.3,1032.8 1220.8,1032.8 1226.3,1032.8 1231.8,1032.8 1231.8,553"/>
<polygon fill="#87ceeb" points="130.7,553 130.7,555 131.3,555 131.8,556.2 132.4,556.9 132.9,556.9 133.5,557 134,557.1 134.6,557.3 135.1,557.7 135.7,558.1 136.2,558.6 136.8,559.1 137.3,559.7 137.9,560.2 138.4,560.8 139,561.3 139.5,561.9 140.1,562.4 140.6,562.9 141.2,563.4 141.7,563.9 142.3,564.4 142.8,564.8 143.4,565.3 143.9,565.7 144.5,566 145,566.4 145.6,566.8 146.1,567.1 146.7,567.4 147.2,567.8 147.8,568.1 148.3,568.4 148.9,568.7 149.4,568.9 150,569.2 150.5,569.5 151.1,569.8 151.6,570 152.2,570.3 152.7,570.6 153.8,571.1 154.9,571.6 156,572.2 157.1,572.7 158.2,573.3 159.3,573.9 160.4,574.5 161.5,575.1 162.6,575.8 163.7,576.5 164.8,577.2 165.9,578 167,578.7 168.1,579.5 169.2,580.4 170.3,581.2 171.4,582.1 172.5,583 173.6,583.9 174.7,584.9 175.8,585.9 176.9,586.9 178,588 179.1,589 180.2,590.1 181.4,591.2 182.5,592.4 183.6,593.5 184.7,594.7 185.8,595.9 186.9,597.1 188,598.3 189.1,599.5 190.2,600.8 191.3,602.1 192.4,603.4 193.5,604.7 194.6,606 195.7,607.3 196.8,608.6 197.9,610 199,611.3 200.1,612.7 201.2,614.1 202.3,615.5 203.4,616.8 204.5,618.2 205.6,619.7 206.7,621.1 207.8,622.5 208.9,623.9 210,625.3 211.1,626.8 212.2,628.2 213.3,629.6 214.4,631.1 215.5,632.5 216.6,634 217.7,635.4 218.8,636.9 219.9,638.3 221,639.8 222.1,641.2 223.2,642.7 224.3,644.1 225.4,645.6 226.5,647 227.6,648.5 228.7,649.9 229.8,651.4 230.9,652.8 232,654.2 233.1,655.7 234.2,657.1 235.3,658.6 236.4,660 237.5,661.4 238.6,662.9 239.7,664.3 240.8,665.7 241.9,667.1 243,668.6 244.1,670 245.2,671.4 246.3,672.8 247.4,674.2 248.5,675.6 249.6,677 250.7,678.4 251.8,679.8 252.9,681.1 254,682.5 255.1,683.9 256.2,685.3 257.3,686.6 258.4,688 259.5,689.3 260.6,690.7 261.7,692 262.8,693.4 263.9,694.7 265,696 266.1,697.4 267.2,698.7 268.3,700 269.4,701.3 270.5,702.6 271.6,703.9 272.7,705.2 273.8,706.5 274.9,707.8 276,709 277.1,710.3 278.2,711.6 279.3,712.8 280.4,714.1 281.6,715.3 282.7,716.6 283.8,717.8 284.9,719 286,720.3 287.1,721.5 288.2,722.7 289.3,723.9 290.4,725.1 291.5,726.3 292.6,727.5 293.7,728.7 294.8,729.9 295.9,731 297,732.2 298.1,733.4 299.2,734.5 300.3,735.7 301.4,736.8 302.5,738 303.6,739.1 304.7,740.2 305.8,741.4 306.9,742.5 308,743.6 309.1,744.7 310.2,745.8 311.3,746.9 312.4,748 313.5,749.1 314.6,750.2 315.7,751.2 316.8,752.3 317.9,753.4 319,754.4 320.1,755.5 321.2,756.5 322.3,757.6 323.4,758.6 324.5,759.6 325.6,760.7 326.7,761.7 327.8,762.7 328.9,763.7 330,764.7 331.1,765.7 332.2,766.7 333.3,767.7 334.4,768.7 335.5,769.7 336.6,770.6 337.7,771.6 338.8,772.6 339.9,773.5 341,774.5 342.1,775.4 343.2,776.4 344.3,777.3 345.4,778.2 346.5,779.2 347.6,780.1 348.7,781 349.8,781.9 350.9,782.8 356.4,787.3 361.9,791.7 367.4,795.9 372.9,800 378.4,804 384,807.9 389.5,811.7 395,815.4 400.5,819 406,822.5 411.5,825.9 417,829.2 422.5,832.5 428,835.6 433.5,838.7 439,841.6 444.5,844.5 450,847.3 455.5,850.1 461,852.8 466.5,855.3 472,857.9 477.5,860.3 483.1,862.7 488.6,865.1 494.1,867.3 499.6,869.5 505.1,871.7 510.6,873.8 516.1,875.8 521.6,877.8 527.1,879.7 532.6,881.6 538.1,883.4 543.6,885.2 549.1,886.9 554.6,888.6 560.1,890.3 565.6,891.9 571.1,893.4 576.6,894.9 582.2,896.4 587.7,897.8 593.2,899.2 598.7,900.6 604.2,901.9 609.7,903.2 615.2,904.5 620.7,905.7 626.2,906.9 631.7,908.1 637.2,909.2 642.7,910.3 648.2,911.4 653.7,912.4 659.2,913.5 664.7,914.5 670.2,915.4 675.7,916.4 681.2,917.3 686.8,918.2 692.3,919.1 697.8,919.9 703.3,920.7 708.8,921.5 714.3,922.3 719.8,923.1 725.3,923.8 730.8,924.6 736.3,925.3 741.8,925.9 747.3,926.6 752.8,927.3 758.3,927.9 763.8,928.5 769.3,929.1 774.8,929.7 780.3,930.3 785.9,930.8 791.4,931.4 796.9,931.9 802.4,932.4 807.9,932.9 813.4,933.4 818.9,933.9 824.4,934.3 829.9,934.8 835.4,935.2 840.9,935.6 846.4,936 851.9,936.4 857.4,936.8 862.9,937.2 868.4,937.6 873.9,937.9 879.4,938.3 885,938.6 890.5,938.9 896,939.2 901.5,939.6 907,939.9 912.5,940.2 918,940.4 923.5,940.7 929,941 934.5,941.2 940,941.5 945.5,941.7 951,942 956.5,942.2 962,942.4 967.5,942.6 973,942.8 978.5,943 984.1,943.2 989.6,943.4 995.1,943.6 1000.6,943.8 1006.1,944 1011.6,944.1 1017.1,944.3 1022.6,944.5 1028.1,944.6 1033.6,944.7 1039.1,944.9 1044.6,945 1050.1,945.2 1055.6,945.3 1061.1,945.4 1066.6,945.5 1072.1,945.6 1077.6,945.7 1083.2,945.8 1088.7,945.9 1094.2,946 1099.7,946.1 1105.2,946.2 1110.7,946.3 1116.2,946.4 1121.7,946.4 1127.2,946.5 1132.7,946.6 1138.2,946.7 1143.7,946.7 1149.2,946.8 1154.7,946.8 1160.2,946.9 1165.7,946.9 1171.2,947 1176.7,947 1182.3,947.1 1187.8,947.1 1193.3,947.1 1198.8,947.2 1204.3,947.2 1209.8,947.2 1215.3,947.3 1220.8,947.3 1226.3,947.3 1231.8,947.3 1231.8,553"/>
<polygon fill="#ffff00" points="130.7,553 130.7,555 131.3,555 131.8,555 132.4,555 132.9,555 133.5,555 134,555 134.6,555 135.1,555 135.7,555 136.2,555 136.8,555 137.3,555 137.9,555 138.4,555 139,555 139.5,555 140.1,555 140.6,555 141.2,555 141.7,555 142.3,555 142.8,555 143.4,555 143.9,555 144.5,555 145,555 145.6,555 146.1,555 146.7,555 147.2,555 147.8,555 148.3,555 148.9,555 149.4,555 150,555 150.5,555 151.1,555 151.6,555 152.2,555 152.7,555 153.8,555 154.9,555 156,555 157.1,555 158.2,555 159.3,555.2 160.4,555.5 161.5,555.9 162.6,556.3 163.7,556.7 164.8,557.2 165.9,557.7 167,558.2 168.1,558.8 169.2,559.4 170.3,560.1 171.4,560.7 172.5,561.4 173.6,562.1 174.7,562.8 175.8,563.6 176.9,564.3 178,565.1 179.1,565.9 180.2,566.7 181.4,567.6 182.5,568.4 183.6,569.2 184.7,570.1 185.8,571 186.9,571.9 188,572.7 189.1,573.6 190.2,574.5 191.3,575.5 192.4,576.4 193.5,577.3 194.6,578.2 195.7,579.1 196.8,580.1 197.9,581 199,582 200.1,582.9 201.2,583.9 202.3,584.8 203.4,585.7 204.5,586.7 205.6,587.7 206.7,588.6 207.8,589.6 208.9,590.5 210,591.5 211.1,592.4 212.2,593.4 213.3,594.3 214.4,595.3 215.5,596.2 216.6,597.2 217.7,598.1 218.8,599.1 219.9,600 221,601 222.1,601.9 223.2,602.9 224.3,603.8 225.4,604.7 226.5,605.7 227.6,606.6 228.7,607.5 229.8,608.5 230.9,609.4 232,610.3 233.1,611.2 234.2,612.2 235.3,613.1 236.4,614 237.5,614.9 238.6,615.8 239.7,616.7 240.8,617.6 241.9,618.5 243,619.4 244.1,620.3 245.2,621.2 246.3,622 247.4,622.9 248.5,623.8 249.6,624.7 250.7,625.5 251.8,626.4 252.9,627.2 254,628.1 255.1,629 256.2,629.8 257.3,630.6 258.4,631.5 259.5,632.3 260.6,633.1 261.7,634 262.8,634.8 263.9,635.6 265,636.4 266.1,637.2 267.2,638.1 268.3,638.9 269.4,639.7 270.5,640.4 271.6,641.2 272.7,642 273.8,642.8 274.9,643.6 276,644.4 277.1,645.1 278.2,645.9 279.3,646.7 280.4,647.4 281.6,648.2 282.7,648.9 283.8,649.7 284.9,650.4 286,651.1 287.1,651.9 288.2,652.6 289.3,653.3 290.4,654 291.5,654.7 292.6,655.4 293.7,656.1 294.8,656.8 295.9,657.5 297,658.2 298.1,658.9 299.2,659.6 300.3,660.3 301.4,661 302.5,661.6 303.6,662.3 304.7,663 305.8,663.6 306.9,664.3 308,664.9 309.1,665.6 310.2,666.2 311.3,666.9 312.4,667.5 313.5,668.1 314.6,668.7 315.7,669.4 316.8,670 317.9,670.6 319,671.2 320.1,671.8 321.2,672.4 322.3,673 323.4,673.6 324.5,674.2 325.6,674.8 326.7,675.4 327.8,675.9 328.9,676.5 330,677.1 331.1,677.7 332.2,678.2 333.3,678.8 334.4,679.3 335.5,679.9 336.6,680.4 337.7,681 338.8,681.5 339.9,682 341,682.6 342.1,683.1 343.2,683.6 344.3,684.1 345.4,684.7 346.5,685.2 347.6,685.7 348.7,686.2 349.8,686.7 350.9,687.2 356.4,689.6 361.9,692 367.4,694.3 372.9,696.5 378.4,698.6 384,700.6 389.5,702.6 395,704.5 400.5,706.3 406,708.1 411.5,709.8 417,711.4 422.5,712.9 428,714.5 433.5,715.9 439,717.3 444.5,718.6 450,719.9 455.5,721.2 461,722.4 466.5,723.5 472,724.6 477.5,725.7 483.1,726.7 488.6,727.6 494.1,728.6 499.6,729.5 505.1,730.3 510.6,731.2 516.1,732 521.6,732.7 527.1,733.5 532.6,734.2 538.1,734.8 543.6,735.5 549.1,736.1 554.6,736.7 560.1,737.2 565.6,737.8 571.1,738.3 576.6,738.8 582.2,739.3 587.7,739.7 593.2,740.2 598.7,740.6 604.2,741 609.7,741.4 615.2,741.7 620.7,742.1 626.2,742.4 631.7,742.7 637.2,743 642.7,743.3 648.2,743.6 653.7,743.8 659.2,744.1 664.7,744.3 670.2,744.6 675.7,744.8 681.2,745 686.8,745.2 692.3,745.3 697.8,745.5 703.3,745.7 708.8,745.8 714.3,746 719.8,746.1 725.3,746.3 730.8,746.4 736.3,746.5 741.8,746.6 747.3,746.7 752.8,746.8 758.3,746.9 763.8,747 769.3,747.1 774.8,747.1 780.3,747.2 785.9,747.3 791.4,747.3 796.9,747.4 802.4,747.4 807.9,747.5 813.4,747.5 818.9,747.6 824.4,747.6 829.9,747.6 835.4,747.7 840.9,747.7 846.4,747.7 851.9,747.7 857.4,747.7 862.9,747.7 868.4,747.8 873.9,747.8 879.4,747.8 885,747.8 890.5,747.8 896,747.8 901.5,747.8 907,747.8 912.5,747.8 918,747.8 923.5,747.7 929,747.7 934.5,747.7 940,747.7 945.5,747.7 951,747.7 956.5,747.7 962,747.6 967.5,747.6 973,747.6 978.5,747.6 984.1,747.6 989.6,747.5 995.1,747.5 1000.6,747.5 1006.1,747.5 1011.6,747.4 1017.1,747.4 1022.6,747.4 1028.1,747.4 1033.6,747.3 1039.1,747.3 1044.6,747.3 1050.1,747.3 1055.6,747.2 1061.1,747.2 1066.6,747.2 1072.1,747.2 1077.6,747.1 1083.2,747.1 1088.7,747.1 1094.2,747 1099.7,747 1105.2,747 1110.7,747 1116.2,746.9 1121.7,746.9 1127.2,746.9 1132.7,746.9 1138.2,746.8 1143.7,746.8 1149.2,746.8 1154.7,746.7 1160.2,746.7 1165.7,746.7 1171.2,746.7 1176.7,746.6 1182.3,746.6 1187.8,746.6 1193.3,746.6 1198.8,746.5 1204.3,746.5 1209.8,746.5 1215.3,746.5 1220.8,746.4 1226.3,746.4 1231.8,746.4 1231.8,553"/>
<polygon fill="#ff0000" points="130.7,553 130.7,555 131.3,555 131.8,555 132.4,555 132.9,555 133.5,555 134,555 134.6,555 135.1,555 135.7,555 136.2,555 136.8,555 137.3,555 137.9,555 138.4,555 139,555 139.5,555 140.1,555 140.6,555 141.2,555 141.7,555 142.3,555 142.8,555 143.4,555 143.9,555 144.5,555 145,555 145.6,555 146.1,555 146.7,555 147.2,555 147.8,555 148.3,555 148.9,555 149.4,555 150,555 150.5,555 151.1,555 151.6,555 152.2,555 152.7,555 153.8,555 154.9,555 156,555 157.1,555 158.2,555 159.3,555 160.4,555 161.5,555 162.6,555 163.7,555 164.8,555 165.9,555 167,555 168.1,555 169.2,555 170.3,555 171.4,555 172.5,555 173.6,555 174.7,555 175.8,555 176.9,555 178,555.7 179.1,556.2 180.2,556.7 181.4,557.3 182.5,557.9 183.6,558.5 184.7,559.1 185.8,559.8 186.9,560.5 188,561.2 189.1,561.9 190.2,562.6 191.3,563.4 192.4,564.1 193.5,564.9 194.6,565.7 195.7,566.5 196.8,567.3 197.9,568.1 199,569 200.1,569.8 201.2,570.7 202.3,571.5 203.4,572.4 204.5,573.3 205.6,574.2 206.7,575.1 207.8,576 208.9,576.9 210,577.8 211.1,578.7 212.2,579.6 213.3,580.5 214.4,581.4 215.5,582.3 216.6,583.2 217.7,584.1 218.8,585.1 219.9,586 221,586.9 222.1,587.8 223.2,588.7 224.3,589.7 225.4,590.6 226.5,591.5 227.6,592.4 228.7,593.3 229.8,594.2 230.9,595.2 232,596.1 233.1,597 234.2,597.9 235.3,598.8 236.4,599.7 237.5,600.6 238.6,601.5 239.7,602.4 240.8,603.3 241.9,604.2 243,605 244.1,605.9 245.2,606.8 246.3,607.7 247.4,608.6 248.5,609.4 249.6,610.3 250.7,611.2 251.8,612 252.9,612.9 254,613.7 255.1,614.6 256.2,615.4 257.3,616.3 258.4,617.1 259.5,617.9 260.6,618.8 261.7,619.6 262.8,620.4 263.9,621.2 265,622 266.1,622.9 267.2,623.7 268.3,624.5 269.4,625.3 270.5,626 271.6,626.8 272.7,627.6 273.8,628.4 274.9,629.2 276,629.9 277.1,630.7 278.2,631.5 279.3,632.2 280.4,633 281.6,633.7 282.7,634.5 283.8,635.2 284.9,636 286,636.7 287.1,637.4 288.2,638.1 289.3,638.9 290.4,639.6 291.5,640.3 292.6,641 293.7,641.7 294.8,642.4 295.9,643.1 297,643.8 298.1,644.5 299.2,645.1 300.3,645.8 301.4,646.5 302.5,647.2 303.6,647.8 304.7,648.5 305.8,649.1 306.9,649.8 308,650.4 309.1,651.1 310.2,651.7 311.3,652.3 312.4,653 313.5,653.6 314.6,654.2 315.7,654.8 316.8,655.5 317.9,656.1 319,656.7 320.1,657.3 321.2,657.9 322.3,658.5 323.4,659.1 324.5,659.6 325.6,660.2 326.7,660.8 327.8,661.4 328.9,661.9 330,662.5 331.1,663.1 332.2,663.6 333.3,664.2 334.4,664.7 335.5,665.3 336.6,665.8 337.7,666.4 338.8,666.9 339.9,667.4 341,668 342.1,668.5 343.2,669 344.3,669.5 345.4,670 346.5,670.5 347.6,671.1 348.7,671.6 349.8,672.1 350.9,672.6 356.4,675 361.9,677.3 367.4,679.6 372.9,681.8 378.4,683.9 384,685.9 389.5,687.8 395,689.7 400.5,691.5 406,693.3 411.5,695 417,696.6 422.5,698.1 428,699.6 433.5,701.1 439,702.5 444.5,703.8 450,705.1 455.5,706.3 461,707.5 466.5,708.6 472,709.7 477.5,710.8 483.1,711.8 488.6,712.8 494.1,713.7 499.6,714.6 505.1,715.4 510.6,716.3 516.1,717.1 521.6,717.8 527.1,718.6 532.6,719.3 538.1,719.9 543.6,720.6 549.1,721.2 554.6,721.8 560.1,722.3 565.6,722.9 571.1,723.4 576.6,723.9 582.2,724.4 587.7,724.8 593.2,725.3 598.7,725.7 604.2,726.1 609.7,726.4 615.2,726.8 620.7,727.1 626.2,727.5 631.7,727.8 637.2,728.1 642.7,728.4 648.2,728.6 653.7,728.9 659.2,729.1 664.7,729.4 670.2,729.6 675.7,729.8 681.2,730 686.8,730.2 692.3,730.4 697.8,730.5 703.3,730.7 708.8,730.9 714.3,731 719.8,731.1 725.3,731.3 730.8,731.4 736.3,731.5 741.8,731.6 747.3,731.7 752.8,731.8 758.3,731.9 763.8,731.9 769.3,732 774.8,732.1 780.3,732.1 785.9,732.2 791.4,732.2 796.9,732.3 802.4,732.3 807.9,732.4 813.4,732.4 818.9,732.4 824.4,732.5 829.9,732.5 835.4,732.5 840.9,732.5 846.4,732.5 851.9,732.5 857.4,732.5 862.9,732.5 868.4,732.5 873.9,732.5 879.4,732.5 885,732.5 890.5,732.5 896,732.5 901.5,732.5 907,732.5 912.5,732.5 918,732.4 923.5,732.4 929,732.4 934.5,732.4 940,732.3 945.5,732.3 951,732.3 956.5,732.3 962,732.2 967.5,732.2 973,732.2 978.5,732.1 984.1,732.1 989.6,732.1 995.1,732 1000.6,732 1006.1,732 1011.6,731.9 1017.1,731.9 1022.6,731.8 1028.1,731.8 1033.6,731.8 1039.1,731.7 1044.6,731.7 1050.1,731.6 1055.6,731.6 1061.1,731.6 1066.6,731.5 1072.1,731.5 1077.6,731.4 1083.2,731.4 1088.7,731.4 1094.2,731.3 1099.7,731.3 1105.2,731.2 1110.7,731.2 1116.2,731.2 1121.7,731.1 1127.2,731.1 1132.7,731 1138.2,731 1143.7,730.9 1149.2,730.9 1154.7,730.9 1160.2,730.8 1165.7,730.8 1171.2,730.7 1176.7,730.7 1182.3,730.7 1187.8,730.6 1193.3,730.6 1198.8,730.5 1204.3,730.5 1209.8,730.5 1215.3,730.4 1220.8,730.4 1226.3,730.4 1231.8,730.3 1231.8,553"/>
<polyline fill="none" stroke="#000" stroke-width="3.4" stroke-linejoin="round" points="130.7,555 131.3,555 131.8,556.2 132.4,560.2 132.9,564.9 133.5,569.8 134,574.7 134.6,579.5 135.1,584.1 135.7,588.5 136.2,592.8 136.8,596.8 137.3,600.8 137.9,604.5 138.4,608.1 139,611.6 139.5,615 140.1,618.3 140.6,621.5 141.2,624.6 141.7,627.6 142.3,630.5 142.8,633.4 143.4,636.2 143.9,638.9 144.5,641.5 145,644.1 145.6,646.7 146.1,649.2 146.7,651.6 147.2,654.1 147.8,656.4 148.3,658.7 148.9,661 149.4,663.3 150,665.5 150.5,667.6 151.1,669.8 151.6,671.9 152.2,674 152.7,676 153.8,680.1 154.9,684 156,687.8 157.1,691.5 158.2,695.2 159.3,698.7 160.4,702.2 161.5,705.6 162.6,708.9 163.7,712.2 164.8,715.4 165.9,718.5 167,721.6 168.1,724.6 169.2,727.6 170.3,730.5 171.4,733.3 172.5,736.1 173.6,738.8 174.7,741.5 175.8,744.2 176.9,746.8 178,749.4 179.1,751.9 180.2,754.4 181.4,756.8 182.5,759.2 183.6,761.6 184.7,763.9 185.8,766.2 186.9,768.4 188,770.6 189.1,772.8 190.2,775 191.3,777.1 192.4,779.2 193.5,781.3 194.6,783.3 195.7,785.3 196.8,787.3 197.9,789.2 199,791.1 200.1,793 201.2,794.9 202.3,796.8 203.4,798.6 204.5,800.4 205.6,802.2 206.7,803.9 207.8,805.7 208.9,807.4 210,809.1 211.1,810.8 212.2,812.4 213.3,814.1 214.4,815.7 215.5,817.3 216.6,818.9 217.7,820.5 218.8,822 219.9,823.5 221,825.1 222.1,826.6 223.2,828 224.3,829.5 225.4,831 226.5,832.4 227.6,833.8 228.7,835.3 229.8,836.7 230.9,838 232,839.4 233.1,840.8 234.2,842.1 235.3,843.4 236.4,844.8 237.5,846.1 238.6,847.4 239.7,848.7 240.8,849.9 241.9,851.2 243,852.5 244.1,853.7 245.2,854.9 246.3,856.1 247.4,857.3 248.5,858.5 249.6,859.7 250.7,860.9 251.8,862.1 252.9,863.2 254,864.4 255.1,865.5 256.2,866.7 257.3,867.8 258.4,868.9 259.5,870 260.6,871.1 261.7,872.2 262.8,873.2 263.9,874.3 265,875.4 266.1,876.4 267.2,877.5 268.3,878.5 269.4,879.5 270.5,880.6 271.6,881.6 272.7,882.6 273.8,883.6 274.9,884.6 276,885.5 277.1,886.5 278.2,887.5 279.3,888.4 280.4,889.4 281.6,890.3 282.7,891.3 283.8,892.2 284.9,893.1 286,894.1 287.1,895 288.2,895.9 289.3,896.8 290.4,897.7 291.5,898.6 292.6,899.4 293.7,900.3 294.8,901.2 295.9,902 297,902.9 298.1,903.8 299.2,904.6 300.3,905.4 301.4,906.3 302.5,907.1 303.6,907.9 304.7,908.7 305.8,909.5 306.9,910.3 308,911.1 309.1,911.9 310.2,912.7 311.3,913.5 312.4,914.3 313.5,915.1 314.6,915.8 315.7,916.6 316.8,917.3 317.9,918.1 319,918.8 320.1,919.6 321.2,920.3 322.3,921 323.4,921.8 324.5,922.5 325.6,923.2 326.7,923.9 327.8,924.6 328.9,925.3 330,926 331.1,926.7 332.2,927.4 333.3,928.1 334.4,928.8 335.5,929.4 336.6,930.1 337.7,930.8 338.8,931.4 339.9,932.1 341,932.7 342.1,933.4 343.2,934 344.3,934.7 345.4,935.3 346.5,935.9 347.6,936.6 348.7,937.2 349.8,937.8 350.9,938.4 356.4,941.4 361.9,944.3 367.4,947.1 372.9,949.9 378.4,952.5 384,955.1 389.5,957.6 395,959.9 400.5,962.3 406,964.5 411.5,966.7 417,968.8 422.5,970.8 428,972.8 433.5,974.7 439,976.6 444.5,978.4 450,980.1 455.5,981.8 461,983.4 466.5,985 472,986.5 477.5,988 483.1,989.4 488.6,990.8 494.1,992.2 499.6,993.5 505.1,994.7 510.6,996 516.1,997.1 521.6,998.3 527.1,999.4 532.6,1000.5 538.1,1001.5 543.6,1002.5 549.1,1003.5 554.6,1004.5 560.1,1005.4 565.6,1006.3 571.1,1007.1 576.6,1008 582.2,1008.8 587.7,1009.6 593.2,1010.3 598.7,1011.1 604.2,1011.8 609.7,1012.5 615.2,1013.2 620.7,1013.8 626.2,1014.4 631.7,1015 637.2,1015.6 642.7,1016.2 648.2,1016.8 653.7,1017.3 659.2,1017.8 664.7,1018.3 670.2,1018.8 675.7,1019.3 681.2,1019.7 686.8,1020.2 692.3,1020.6 697.8,1021 703.3,1021.4 708.8,1021.8 714.3,1022.2 719.8,1022.6 725.3,1022.9 730.8,1023.3 736.3,1023.6 741.8,1023.9 747.3,1024.3 752.8,1024.6 758.3,1024.9 763.8,1025.1 769.3,1025.4 774.8,1025.7 780.3,1025.9 785.9,1026.2 791.4,1026.4 796.9,1026.7 802.4,1026.9 807.9,1027.1 813.4,1027.3 818.9,1027.5 824.4,1027.7 829.9,1027.9 835.4,1028.1 840.9,1028.3 846.4,1028.5 851.9,1028.6 857.4,1028.8 862.9,1028.9 868.4,1029.1 873.9,1029.2 879.4,1029.4 885,1029.5 890.5,1029.7 896,1029.8 901.5,1029.9 907,1030 912.5,1030.2 918,1030.3 923.5,1030.4 929,1030.5 934.5,1030.6 940,1030.7 945.5,1030.8 951,1030.9 956.5,1030.9 962,1031 967.5,1031.1 973,1031.2 978.5,1031.3 984.1,1031.3 989.6,1031.4 995.1,1031.5 1000.6,1031.5 1006.1,1031.6 1011.6,1031.7 1017.1,1031.7 1022.6,1031.8 1028.1,1031.8 1033.6,1031.9 1039.1,1031.9 1044.6,1032 1050.1,1032 1055.6,1032.1 1061.1,1032.1 1066.6,1032.2 1072.1,1032.2 1077.6,1032.2 1083.2,1032.3 1088.7,1032.3 1094.2,1032.3 1099.7,1032.4 1105.2,1032.4 1110.7,1032.4 1116.2,1032.4 1121.7,1032.5 1127.2,1032.5 1132.7,1032.5 1138.2,1032.5 1143.7,1032.6 1149.2,1032.6 1154.7,1032.6 1160.2,1032.6 1165.7,1032.6 1171.2,1032.7 1176.7,1032.7 1182.3,1032.7 1187.8,1032.7 1193.3,1032.7 1198.8,1032.7 1204.3,1032.7 1209.8,1032.7 1215.3,1032.8 1220.8,1032.8 1226.3,1032.8 1231.8,1032.8"/>
<polyline fill="none" stroke="#000" stroke-width="3.4" stroke-linejoin="round" points="130.7,555 131.3,555 131.8,556.2 132.4,556.9 132.9,556.9 133.5,557 134,557.1 134.6,557.3 135.1,557.7 135.7,558.1 136.2,558.6 136.8,559.1 137.3,559.7 137.9,560.2 138.4,560.8 139,561.3 139.5,561.9 140.1,562.4 140.6,562.9 141.2,563.4 141.7,563.9 142.3,564.4 142.8,564.8 143.4,565.3 143.9,565.7 144.5,566 145,566.4 145.6,566.8 146.1,567.1 146.7,567.4 147.2,567.8 147.8,568.1 148.3,568.4 148.9,568.7 149.4,568.9 150,569.2 150.5,569.5 151.1,569.8 151.6,570 152.2,570.3 152.7,570.6 153.8,571.1 154.9,571.6 156,572.2 157.1,572.7 158.2,573.3 159.3,573.9 160.4,574.5 161.5,575.1 162.6,575.8 163.7,576.5 164.8,577.2 165.9,578 167,578.7 168.1,579.5 169.2,580.4 170.3,581.2 171.4,582.1 172.5,583 173.6,583.9 174.7,584.9 175.8,585.9 176.9,586.9 178,588 179.1,589 180.2,590.1 181.4,591.2 182.5,592.4 183.6,593.5 184.7,594.7 185.8,595.9 186.9,597.1 188,598.3 189.1,599.5 190.2,600.8 191.3,602.1 192.4,603.4 193.5,604.7 194.6,606 195.7,607.3 196.8,608.6 197.9,610 199,611.3 200.1,612.7 201.2,614.1 202.3,615.5 203.4,616.8 204.5,618.2 205.6,619.7 206.7,621.1 207.8,622.5 208.9,623.9 210,625.3 211.1,626.8 212.2,628.2 213.3,629.6 214.4,631.1 215.5,632.5 216.6,634 217.7,635.4 218.8,636.9 219.9,638.3 221,639.8 222.1,641.2 223.2,642.7 224.3,644.1 225.4,645.6 226.5,647 227.6,648.5 228.7,649.9 229.8,651.4 230.9,652.8 232,654.2 233.1,655.7 234.2,657.1 235.3,658.6 236.4,660 237.5,661.4 238.6,662.9 239.7,664.3 240.8,665.7 241.9,667.1 243,668.6 244.1,670 245.2,671.4 246.3,672.8 247.4,674.2 248.5,675.6 249.6,677 250.7,678.4 251.8,679.8 252.9,681.1 254,682.5 255.1,683.9 256.2,685.3 257.3,686.6 258.4,688 259.5,689.3 260.6,690.7 261.7,692 262.8,693.4 263.9,694.7 265,696 266.1,697.4 267.2,698.7 268.3,700 269.4,701.3 270.5,702.6 271.6,703.9 272.7,705.2 273.8,706.5 274.9,707.8 276,709 277.1,710.3 278.2,711.6 279.3,712.8 280.4,714.1 281.6,715.3 282.7,716.6 283.8,717.8 284.9,719 286,720.3 287.1,721.5 288.2,722.7 289.3,723.9 290.4,725.1 291.5,726.3 292.6,727.5 293.7,728.7 294.8,729.9 295.9,731 297,732.2 298.1,733.4 299.2,734.5 300.3,735.7 301.4,736.8 302.5,738 303.6,739.1 304.7,740.2 305.8,741.4 306.9,742.5 308,743.6 309.1,744.7 310.2,745.8 311.3,746.9 312.4,748 313.5,749.1 314.6,750.2 315.7,751.2 316.8,752.3 317.9,753.4 319,754.4 320.1,755.5 321.2,756.5 322.3,757.6 323.4,758.6 324.5,759.6 325.6,760.7 326.7,761.7 327.8,762.7 328.9,763.7 330,764.7 331.1,765.7 332.2,766.7 333.3,767.7 334.4,768.7 335.5,769.7 336.6,770.6 337.7,771.6 338.8,772.6 339.9,773.5 341,774.5 342.1,775.4 343.2,776.4 344.3,777.3 345.4,778.2 346.5,779.2 347.6,780.1 348.7,781 349.8,781.9 350.9,782.8 356.4,787.3 361.9,791.7 367.4,795.9 372.9,800 378.4,804 384,807.9 389.5,811.7 395,815.4 400.5,819 406,822.5 411.5,825.9 417,829.2 422.5,832.5 428,835.6 433.5,838.7 439,841.6 444.5,844.5 450,847.3 455.5,850.1 461,852.8 466.5,855.3 472,857.9 477.5,860.3 483.1,862.7 488.6,865.1 494.1,867.3 499.6,869.5 505.1,871.7 510.6,873.8 516.1,875.8 521.6,877.8 527.1,879.7 532.6,881.6 538.1,883.4 543.6,885.2 549.1,886.9 554.6,888.6 560.1,890.3 565.6,891.9 571.1,893.4 576.6,894.9 582.2,896.4 587.7,897.8 593.2,899.2 598.7,900.6 604.2,901.9 609.7,903.2 615.2,904.5 620.7,905.7 626.2,906.9 631.7,908.1 637.2,909.2 642.7,910.3 648.2,911.4 653.7,912.4 659.2,913.5 664.7,914.5 670.2,915.4 675.7,916.4 681.2,917.3 686.8,918.2 692.3,919.1 697.8,919.9 703.3,920.7 708.8,921.5 714.3,922.3 719.8,923.1 725.3,923.8 730.8,924.6 736.3,925.3 741.8,925.9 747.3,926.6 752.8,927.3 758.3,927.9 763.8,928.5 769.3,929.1 774.8,929.7 780.3,930.3 785.9,930.8 791.4,931.4 796.9,931.9 802.4,932.4 807.9,932.9 813.4,933.4 818.9,933.9 824.4,934.3 829.9,934.8 835.4,935.2 840.9,935.6 846.4,936 851.9,936.4 857.4,936.8 862.9,937.2 868.4,937.6 873.9,937.9 879.4,938.3 885,938.6 890.5,938.9 896,939.2 901.5,939.6 907,939.9 912.5,940.2 918,940.4 923.5,940.7 929,941 934.5,941.2 940,941.5 945.5,941.7 951,942 956.5,942.2 962,942.4 967.5,942.6 973,942.8 978.5,943 984.1,943.2 989.6,943.4 995.1,943.6 1000.6,943.8 1006.1,944 1011.6,944.1 1017.1,944.3 1022.6,944.5 1028.1,944.6 1033.6,944.7 1039.1,944.9 1044.6,945 1050.1,945.2 1055.6,945.3 1061.1,945.4 1066.6,945.5 1072.1,945.6 1077.6,945.7 1083.2,945.8 1088.7,945.9 1094.2,946 1099.7,946.1 1105.2,946.2 1110.7,946.3 1116.2,946.4 1121.7,946.4 1127.2,946.5 1132.7,946.6 1138.2,946.7 1143.7,946.7 1149.2,946.8 1154.7,946.8 1160.2,946.9 1165.7,946.9 1171.2,947 1176.7,947 1182.3,947.1 1187.8,947.1 1193.3,947.1 1198.8,947.2 1204.3,947.2 1209.8,947.2 1215.3,947.3 1220.8,947.3 1226.3,947.3 1231.8,947.3"/>
<polyline fill="none" stroke="#000" stroke-width="3.4" stroke-linejoin="round" points="130.7,555 131.3,555 131.8,555 132.4,555 132.9,555 133.5,555 134,555 134.6,555 135.1,555 135.7,555 136.2,555 136.8,555 137.3,555 137.9,555 138.4,555 139,555 139.5,555 140.1,555 140.6,555 141.2,555 141.7,555 142.3,555 142.8,555 143.4,555 143.9,555 144.5,555 145,555 145.6,555 146.1,555 146.7,555 147.2,555 147.8,555 148.3,555 148.9,555 149.4,555 150,555 150.5,555 151.1,555 151.6,555 152.2,555 152.7,555 153.8,555 154.9,555 156,555 157.1,555 158.2,555 159.3,555.2 160.4,555.5 161.5,555.9 162.6,556.3 163.7,556.7 164.8,557.2 165.9,557.7 167,558.2 168.1,558.8 169.2,559.4 170.3,560.1 171.4,560.7 172.5,561.4 173.6,562.1 174.7,562.8 175.8,563.6 176.9,564.3 178,565.1 179.1,565.9 180.2,566.7 181.4,567.6 182.5,568.4 183.6,569.2 184.7,570.1 185.8,571 186.9,571.9 188,572.7 189.1,573.6 190.2,574.5 191.3,575.5 192.4,576.4 193.5,577.3 194.6,578.2 195.7,579.1 196.8,580.1 197.9,581 199,582 200.1,582.9 201.2,583.9 202.3,584.8 203.4,585.7 204.5,586.7 205.6,587.7 206.7,588.6 207.8,589.6 208.9,590.5 210,591.5 211.1,592.4 212.2,593.4 213.3,594.3 214.4,595.3 215.5,596.2 216.6,597.2 217.7,598.1 218.8,599.1 219.9,600 221,601 222.1,601.9 223.2,602.9 224.3,603.8 225.4,604.7 226.5,605.7 227.6,606.6 228.7,607.5 229.8,608.5 230.9,609.4 232,610.3 233.1,611.2 234.2,612.2 235.3,613.1 236.4,614 237.5,614.9 238.6,615.8 239.7,616.7 240.8,617.6 241.9,618.5 243,619.4 244.1,620.3 245.2,621.2 246.3,622 247.4,622.9 248.5,623.8 249.6,624.7 250.7,625.5 251.8,626.4 252.9,627.2 254,628.1 255.1,629 256.2,629.8 257.3,630.6 258.4,631.5 259.5,632.3 260.6,633.1 261.7,634 262.8,634.8 263.9,635.6 265,636.4 266.1,637.2 267.2,638.1 268.3,638.9 269.4,639.7 270.5,640.4 271.6,641.2 272.7,642 273.8,642.8 274.9,643.6 276,644.4 277.1,645.1 278.2,645.9 279.3,646.7 280.4,647.4 281.6,648.2 282.7,648.9 283.8,649.7 284.9,650.4 286,651.1 287.1,651.9 288.2,652.6 289.3,653.3 290.4,654 291.5,654.7 292.6,655.4 293.7,656.1 294.8,656.8 295.9,657.5 297,658.2 298.1,658.9 299.2,659.6 300.3,660.3 301.4,661 302.5,661.6 303.6,662.3 304.7,663 305.8,663.6 306.9,664.3 308,664.9 309.1,665.6 310.2,666.2 311.3,666.9 312.4,667.5 313.5,668.1 314.6,668.7 315.7,669.4 316.8,670 317.9,670.6 319,671.2 320.1,671.8 321.2,672.4 322.3,673 323.4,673.6 324.5,674.2 325.6,674.8 326.7,675.4 327.8,675.9 328.9,676.5 330,677.1 331.1,677.7 332.2,678.2 333.3,678.8 334.4,679.3 335.5,679.9 336.6,680.4 337.7,681 338.8,681.5 339.9,682 341,682.6 342.1,683.1 343.2,683.6 344.3,684.1 345.4,684.7 346.5,685.2 347.6,685.7 348.7,686.2 349.8,686.7 350.9,687.2 356.4,689.6 361.9,692 367.4,694.3 372.9,696.5 378.4,698.6 384,700.6 389.5,702.6 395,704.5 400.5,706.3 406,708.1 411.5,709.8 417,711.4 422.5,712.9 428,714.5 433.5,715.9 439,717.3 444.5,718.6 450,719.9 455.5,721.2 461,722.4 466.5,723.5 472,724.6 477.5,725.7 483.1,726.7 488.6,727.6 494.1,728.6 499.6,729.5 505.1,730.3 510.6,731.2 516.1,732 521.6,732.7 527.1,733.5 532.6,734.2 538.1,734.8 543.6,735.5 549.1,736.1 554.6,736.7 560.1,737.2 565.6,737.8 571.1,738.3 576.6,738.8 582.2,739.3 587.7,739.7 593.2,740.2 598.7,740.6 604.2,741 609.7,741.4 615.2,741.7 620.7,742.1 626.2,742.4 631.7,742.7 637.2,743 642.7,743.3 648.2,743.6 653.7,743.8 659.2,744.1 664.7,744.3 670.2,744.6 675.7,744.8 681.2,745 686.8,745.2 692.3,745.3 697.8,745.5 703.3,745.7 708.8,745.8 714.3,746 719.8,746.1 725.3,746.3 730.8,746.4 736.3,746.5 741.8,746.6 747.3,746.7 752.8,746.8 758.3,746.9 763.8,747 769.3,747.1 774.8,747.1 780.3,747.2 785.9,747.3 791.4,747.3 796.9,747.4 802.4,747.4 807.9,747.5 813.4,747.5 818.9,747.6 824.4,747.6 829.9,747.6 835.4,747.7 840.9,747.7 846.4,747.7 851.9,747.7 857.4,747.7 862.9,747.7 868.4,747.8 873.9,747.8 879.4,747.8 885,747.8 890.5,747.8 896,747.8 901.5,747.8 907,747.8 912.5,747.8 918,747.8 923.5,747.7 929,747.7 934.5,747.7 940,747.7 945.5,747.7 951,747.7 956.5,747.7 962,747.6 967.5,747.6 973,747.6 978.5,747.6 984.1,747.6 989.6,747.5 995.1,747.5 1000.6,747.5 1006.1,747.5 1011.6,747.4 1017.1,747.4 1022.6,747.4 1028.1,747.4 1033.6,747.3 1039.1,747.3 1044.6,747.3 1050.1,747.3 1055.6,747.2 1061.1,747.2 1066.6,747.2 1072.1,747.2 1077.6,747.1 1083.2,747.1 1088.7,747.1 1094.2,747 1099.7,747 1105.2,747 1110.7,747 1116.2,746.9 1121.7,746.9 1127.2,746.9 1132.7,746.9 1138.2,746.8 1143.7,746.8 1149.2,746.8 1154.7,746.7 1160.2,746.7 1165.7,746.7 1171.2,746.7 1176.7,746.6 1182.3,746.6 1187.8,746.6 1193.3,746.6 1198.8,746.5 1204.3,746.5 1209.8,746.5 1215.3,746.5 1220.8,746.4 1226.3,746.4 1231.8,746.4"/>
<polyline fill="none" stroke="#000" stroke-width="3.4" stroke-linejoin="round" points="130.7,555 131.3,555 131.8,555 132.4,555 132.9,555 133.5,555 134,555 134.6,555 135.1,555 135.7,555 136.2,555 136.8,555 137.3,555 137.9,555 138.4,555 139,555 139.5,555 140.1,555 140.6,555 141.2,555 141.7,555 142.3,555 142.8,555 143.4,555 143.9,555 144.5,555 145,555 145.6,555 146.1,555 146.7,555 147.2,555 147.8,555 148.3,555 148.9,555 149.4,555 150,555 150.5,555 151.1,555 151.6,555 152.2,555 152.7,555 153.8,555 154.9,555 156,555 157.1,555 158.2,555 159.3,555 160.4,555 161.5,555 162.6,555 163.7,555 164.8,555 165.9,555 167,555 168.1,555 169.2,555 170.3,555 171.4,555 172.5,555 173.6,555 174.7,555 175.8,555 176.9,555 178,555.7 179.1,556.2 180.2,556.7 181.4,557.3 182.5,557.9 183.6,558.5 184.7,559.1 185.8,559.8 186.9,560.5 188,561.2 189.1,561.9 190.2,562.6 191.3,563.4 192.4,564.1 193.5,564.9 194.6,565.7 195.7,566.5 196.8,567.3 197.9,568.1 199,569 200.1,569.8 201.2,570.7 202.3,571.5 203.4,572.4 204.5,573.3 205.6,574.2 206.7,575.1 207.8,576 208.9,576.9 210,577.8 211.1,578.7 212.2,579.6 213.3,580.5 214.4,581.4 215.5,582.3 216.6,583.2 217.7,584.1 218.8,585.1 219.9,586 221,586.9 222.1,587.8 223.2,588.7 224.3,589.7 225.4,590.6 226.5,591.5 227.6,592.4 228.7,593.3 229.8,594.2 230.9,595.2 232,596.1 233.1,597 234.2,597.9 235.3,598.8 236.4,599.7 237.5,600.6 238.6,601.5 239.7,602.4 240.8,603.3 241.9,604.2 243,605 244.1,605.9 245.2,606.8 246.3,607.7 247.4,608.6 248.5,609.4 249.6,610.3 250.7,611.2 251.8,612 252.9,612.9 254,613.7 255.1,614.6 256.2,615.4 257.3,616.3 258.4,617.1 259.5,617.9 260.6,618.8 261.7,619.6 262.8,620.4 263.9,621.2 265,622 266.1,622.9 267.2,623.7 268.3,624.5 269.4,625.3 270.5,626 271.6,626.8 272.7,627.6 273.8,628.4 274.9,629.2 276,629.9 277.1,630.7 278.2,631.5 279.3,632.2 280.4,633 281.6,633.7 282.7,634.5 283.8,635.2 284.9,636 286,636.7 287.1,637.4 288.2,638.1 289.3,638.9 290.4,639.6 291.5,640.3 292.6,641 293.7,641.7 294.8,642.4 295.9,643.1 297,643.8 298.1,644.5 299.2,645.1 300.3,645.8 301.4,646.5 302.5,647.2 303.6,647.8 304.7,648.5 305.8,649.1 306.9,649.8 308,650.4 309.1,651.1 310.2,651.7 311.3,652.3 312.4,653 313.5,653.6 314.6,654.2 315.7,654.8 316.8,655.5 317.9,656.1 319,656.7 320.1,657.3 321.2,657.9 322.3,658.5 323.4,659.1 324.5,659.6 325.6,660.2 326.7,660.8 327.8,661.4 328.9,661.9 330,662.5 331.1,663.1 332.2,663.6 333.3,664.2 334.4,664.7 335.5,665.3 336.6,665.8 337.7,666.4 338.8,666.9 339.9,667.4 341,668 342.1,668.5 343.2,669 344.3,669.5 345.4,670 346.5,670.5 347.6,671.1 348.7,671.6 349.8,672.1 350.9,672.6 356.4,675 361.9,677.3 367.4,679.6 372.9,681.8 378.4,683.9 384,685.9 389.5,687.8 395,689.7 400.5,691.5 406,693.3 411.5,695 417,696.6 422.5,698.1 428,699.6 433.5,701.1 439,702.5 444.5,703.8 450,705.1 455.5,706.3 461,707.5 466.5,708.6 472,709.7 477.5,710.8 483.1,711.8 488.6,712.8 494.1,713.7 499.6,714.6 505.1,715.4 510.6,716.3 516.1,717.1 521.6,717.8 527.1,718.6 532.6,719.3 538.1,719.9 543.6,720.6 549.1,721.2 554.6,721.8 560.1,722.3 565.6,722.9 571.1,723.4 576.6,723.9 582.2,724.4 587.7,724.8 593.2,725.3 598.7,725.7 604.2,726.1 609.7,726.4 615.2,726.8 620.7,727.1 626.2,727.5 631.7,727.8 637.2,728.1 642.7,728.4 648.2,728.6 653.7,728.9 659.2,729.1 664.7,729.4 670.2,729.6 675.7,729.8 681.2,730 686.8,730.2 692.3,730.4 697.8,730.5 703.3,730.7 708.8,730.9 714.3,731 719.8,731.1 725.3,731.3 730.8,731.4 736.3,731.5 741.8,731.6 747.3,731.7 752.8,731.8 758.3,731.9 763.8,731.9 769.3,732 774.8,732.1 780.3,732.1 785.9,732.2 791.4,732.2 796.9,732.3 802.4,732.3 807.9,732.4 813.4,732.4 818.9,732.4 824.4,732.5 829.9,732.5 835.4,732.5 840.9,732.5 846.4,732.5 851.9,732.5 857.4,732.5 862.9,732.5 868.4,732.5 873.9,732.5 879.4,732.5 885,732.5 890.5,732.5 896,732.5 901.5,732.5 907,732.5 912.5,732.5 918,732.4 923.5,732.4 929,732.4 934.5,732.4 940,732.3 945.5,732.3 951,732.3 956.5,732.3 962,732.2 967.5,732.2 973,732.2 978.5,732.1 984.1,732.1 989.6,732.1 995.1,732 1000.6,732 1006.1,732 1011.6,731.9 1017.1,731.9 1022.6,731.8 1028.1,731.8 1033.6,731.8 1039.1,731.7 1044.6,731.7 1050.1,731.6 1055.6,731.6 1061.1,731.6 1066.6,731.5 1072.1,731.5 1077.6,731.4 1083.2,731.4 1088.7,731.4 1094.2,731.3 1099.7,731.3 1105.2,731.2 1110.7,731.2 1116.2,731.2 1121.7,731.1 1127.2,731.1 1132.7,731 1138.2,731 1143.7,730.9 1149.2,730.9 1154.7,730.9 1160.2,730.8 1165.7,730.8 1171.2,730.7 1176.7,730.7 1182.3,730.7 1187.8,730.6 1193.3,730.6 1198.8,730.5 1204.3,730.5 1209.8,730.5 1215.3,730.4 1220.8,730.4 1226.3,730.4 1231.8,730.3"/>
</g>
<path d="M130.7,1040.4v-20M130.7,555v20M240.8,1040.4v-10.5M240.8,555v10.5M350.9,1040.4v-20M350.9,555v20M461,1040.4v-10.5M461,555v10.5M571.1,1040.4v-20M571.1,555v20M681.2,1040.4v-10.5M681.2,555v10.5M791.4,1040.4v-20M791.4,555v20M901.5,1040.4v-10.5M901.5,555v10.5M1011.6,1040.4v-20M1011.6,555v20M1121.7,1040.4v-10.5M1121.7,555v10.5M1231.8,1040.4v-20M1231.8,555v20M130.7,1040.4h20M1231.8,1040.4h-20M130.7,991.9h10.5M1231.8,991.9h-10.5M130.7,943.3h20M1231.8,943.3h-20M130.7,894.8h10.5M1231.8,894.8h-10.5M130.7,846.2h20M1231.8,846.2h-20M130.7,797.7h10.5M1231.8,797.7h-10.5M130.7,749.2h20M1231.8,749.2h-20M130.7,700.6h10.5M1231.8,700.6h-10.5M130.7,652.1h20M1231.8,652.1h-20M130.7,603.5h10.5M1231.8,603.5h-10.5M130.7,555h20M1231.8,555h-20" stroke="#000" stroke-width="2.5" fill="none"/>
<rect x="130.7" y="555.0" width="1101.1" height="485.4" fill="none" stroke="#000" stroke-width="2.6"/>
<circle cx="250.7" cy="860.9" r="19" fill="none" stroke="#000" stroke-width="3.1"/>
<text class="hl" style="font-size:41.5px" transform="translate(278,875.3) scale(0.955,1)">109</text>
<rect x="572.2" y="996" width="26.6" height="26.6" fill="none" stroke="#000" stroke-width="3.3"/>
<text class="hl" style="font-size:41.5px" transform="translate(611.4,1023.7) scale(0.955,1)">413</text>
<text class="hl" style="font-size:42px" transform="translate(152,1016.2) scale(0.955,1)">(C) AO</text>
<text transform="translate(130.7,1078.3) scale(0.975,1)" class="tl" text-anchor="middle">0</text>
<text transform="translate(350.9,1078.3) scale(0.975,1)" class="tl" text-anchor="middle">200</text>
<text transform="translate(571.1,1078.3) scale(0.975,1)" class="tl" text-anchor="middle">400</text>
<text transform="translate(791.4,1078.3) scale(0.975,1)" class="tl" text-anchor="middle">600</text>
<text transform="translate(1011.6,1078.3) scale(0.975,1)" class="tl" text-anchor="middle">800</text>
<text transform="translate(1231.8,1078.3) scale(0.975,1)" class="tl" text-anchor="middle">1000</text>
<text transform="translate(122.1,958.1) scale(0.975,1)" class="tl" text-anchor="end">20</text>
<text transform="translate(122.1,861) scale(0.975,1)" class="tl" text-anchor="end">40</text>
<text transform="translate(122.1,764) scale(0.975,1)" class="tl" text-anchor="end">60</text>
<text transform="translate(122.1,666.9) scale(0.975,1)" class="tl" text-anchor="end">80</text>
<text transform="translate(122.1,569.8) scale(0.975,1)" class="tl" text-anchor="end">100</text>
<clipPath id="clipD"><rect x="1353.8" y="555.0" width="1101.1" height="485.4"/></clipPath>
<g clip-path="url(#clipD)">
<rect x="1353.8" y="555.0" width="1101.1" height="485.4" fill="#ffff00"/>
<polygon fill="#ff0000" points="1353.8,553 1353.8,555 1354.4,559.8 1354.9,563.4 1355.5,566.8 1356,570.5 1356.6,574.4 1357.1,578.6 1357.7,582.8 1358.2,586.9 1358.8,591 1359.3,594.9 1359.9,598.7 1360.4,602.2 1361,605.6 1361.5,608.8 1362.1,611.8 1362.6,614.6 1363.2,617.3 1363.7,619.9 1364.3,622.3 1364.8,624.6 1365.4,626.8 1365.9,628.9 1366.5,630.9 1367,632.8 1367.6,634.6 1368.1,636.4 1368.7,638.1 1369.2,639.7 1369.8,641.3 1370.3,642.9 1370.9,644.4 1371.4,645.8 1372,647.2 1372.5,648.6 1373.1,650 1373.6,651.3 1374.2,652.6 1374.7,653.8 1375.3,655.1 1375.8,656.3 1376.9,658.6 1378,660.9 1379.1,663.1 1380.2,665.3 1381.3,667.4 1382.4,669.5 1383.5,671.5 1384.6,673.5 1385.7,675.4 1386.8,677.3 1387.9,679.2 1389,681.1 1390.1,682.9 1391.2,684.7 1392.3,686.5 1393.4,688.2 1394.5,689.9 1395.6,691.7 1396.7,693.3 1397.8,695 1398.9,696.7 1400,698.3 1401.1,699.9 1402.2,701.5 1403.3,703.1 1404.5,704.7 1405.6,706.2 1406.7,707.8 1407.8,709.3 1408.9,710.8 1410,712.3 1411.1,713.8 1412.2,715.3 1413.3,716.7 1414.4,718.2 1415.5,719.6 1416.6,721 1417.7,722.4 1418.8,723.8 1419.9,725.2 1421,726.6 1422.1,727.9 1423.2,729.3 1424.3,730.6 1425.4,731.9 1426.5,733.3 1427.6,734.6 1428.7,735.9 1429.8,737.1 1430.9,738.4 1432,739.7 1433.1,740.9 1434.2,742.1 1435.3,743.4 1436.4,744.6 1437.5,745.8 1438.6,747 1439.7,748.2 1440.8,749.4 1441.9,750.5 1443,751.7 1444.1,752.9 1445.2,754 1446.3,755.1 1447.4,756.3 1448.5,757.4 1449.6,758.5 1450.7,759.6 1451.8,760.7 1452.9,761.8 1454,762.9 1455.1,763.9 1456.2,765 1457.3,766.1 1458.4,767.1 1459.5,768.2 1460.6,769.2 1461.7,770.2 1462.8,771.2 1463.9,772.3 1465,773.3 1466.1,774.3 1467.2,775.2 1468.3,776.2 1469.4,777.2 1470.5,778.2 1471.6,779.2 1472.7,780.1 1473.8,781.1 1474.9,782 1476,783 1477.1,783.9 1478.2,784.8 1479.3,785.7 1480.4,786.7 1481.5,787.6 1482.6,788.5 1483.7,789.4 1484.8,790.3 1485.9,791.2 1487,792.1 1488.1,792.9 1489.2,793.8 1490.3,794.7 1491.4,795.5 1492.5,796.4 1493.6,797.2 1494.7,798.1 1495.8,798.9 1496.9,799.8 1498,800.6 1499.1,801.4 1500.2,802.3 1501.3,803.1 1502.4,803.9 1503.5,804.7 1504.7,805.5 1505.8,806.3 1506.9,807.1 1508,807.9 1509.1,808.7 1510.2,809.5 1511.3,810.2 1512.4,811 1513.5,811.8 1514.6,812.5 1515.7,813.3 1516.8,814.1 1517.9,814.8 1519,815.6 1520.1,816.3 1521.2,817 1522.3,817.8 1523.4,818.5 1524.5,819.2 1525.6,820 1526.7,820.7 1527.8,821.4 1528.9,822.1 1530,822.8 1531.1,823.5 1532.2,824.2 1533.3,824.9 1534.4,825.6 1535.5,826.3 1536.6,827 1537.7,827.7 1538.8,828.4 1539.9,829 1541,829.7 1542.1,830.4 1543.2,831 1544.3,831.7 1545.4,832.4 1546.5,833 1547.6,833.7 1548.7,834.3 1549.8,835 1550.9,835.6 1552,836.3 1553.1,836.9 1554.2,837.5 1555.3,838.2 1556.4,838.8 1557.5,839.4 1558.6,840 1559.7,840.6 1560.8,841.3 1561.9,841.9 1563,842.5 1564.1,843.1 1565.2,843.7 1566.3,844.3 1567.4,844.9 1568.5,845.5 1569.6,846.1 1570.7,846.7 1571.8,847.2 1572.9,847.8 1574,848.4 1579.5,851.3 1585,854.1 1590.5,856.8 1596,859.4 1601.5,862 1607.1,864.6 1612.6,867.1 1618.1,869.5 1623.6,871.9 1629.1,874.2 1634.6,876.4 1640.1,878.7 1645.6,880.8 1651.1,882.9 1656.6,885 1662.1,887 1667.6,889 1673.1,891 1678.6,892.9 1684.1,894.7 1689.6,896.5 1695.1,898.3 1700.6,900 1706.2,901.7 1711.7,903.4 1717.2,905 1722.7,906.6 1728.2,908.2 1733.7,909.7 1739.2,911.2 1744.7,912.7 1750.2,914.1 1755.7,915.5 1761.2,916.9 1766.7,918.2 1772.2,919.5 1777.7,920.8 1783.2,922.1 1788.7,923.3 1794.2,924.5 1799.7,925.7 1805.3,926.8 1810.8,928 1816.3,929.1 1821.8,930.2 1827.3,931.2 1832.8,932.3 1838.3,933.3 1843.8,934.3 1849.3,935.3 1854.8,936.2 1860.3,937.2 1865.8,938.1 1871.3,939 1876.8,939.9 1882.3,940.7 1887.8,941.6 1893.3,942.4 1898.8,943.2 1904.3,944 1909.9,944.8 1915.4,945.6 1920.9,946.3 1926.4,947 1931.9,947.7 1937.4,948.4 1942.9,949.1 1948.4,949.8 1953.9,950.5 1959.4,951.1 1964.9,951.8 1970.4,952.4 1975.9,953 1981.4,953.6 1986.9,954.2 1992.4,954.7 1997.9,955.3 2003.4,955.8 2009,956.4 2014.5,956.9 2020,957.4 2025.5,957.9 2031,958.4 2036.5,958.9 2042,959.4 2047.5,959.8 2053,960.3 2058.5,960.7 2064,961.2 2069.5,961.6 2075,962 2080.5,962.4 2086,962.8 2091.5,963.2 2097,963.6 2102.5,964 2108.1,964.3 2113.6,964.7 2119.1,965.1 2124.6,965.4 2130.1,965.7 2135.6,966.1 2141.1,966.4 2146.6,966.7 2152.1,967 2157.6,967.3 2163.1,967.6 2168.6,967.9 2174.1,968.2 2179.6,968.5 2185.1,968.8 2190.6,969 2196.1,969.3 2201.6,969.5 2207.2,969.8 2212.7,970 2218.2,970.3 2223.7,970.5 2229.2,970.7 2234.7,971 2240.2,971.2 2245.7,971.4 2251.2,971.6 2256.7,971.8 2262.2,972 2267.7,972.2 2273.2,972.4 2278.7,972.6 2284.2,972.8 2289.7,972.9 2295.2,973.1 2300.7,973.3 2306.3,973.4 2311.8,973.6 2317.3,973.8 2322.8,973.9 2328.3,974.1 2333.8,974.2 2339.3,974.3 2344.8,974.5 2350.3,974.6 2355.8,974.8 2361.3,974.9 2366.8,975 2372.3,975.1 2377.8,975.2 2383.3,975.4 2388.8,975.5 2394.3,975.6 2399.8,975.7 2405.4,975.8 2410.9,975.9 2416.4,976 2421.9,976.1 2427.4,976.2 2432.9,976.3 2438.4,976.4 2443.9,976.4 2449.4,976.5 2454.9,976.6 2454.9,553"/>
<polygon fill="#87ceeb" points="1353.8,553 1353.8,555 1354.4,555 1354.9,555 1355.5,555 1356,556 1356.6,557.1 1357.1,558.1 1357.7,559.1 1358.2,559.9 1358.8,560.6 1359.3,561.3 1359.9,561.9 1360.4,562.5 1361,563 1361.5,563.6 1362.1,564.1 1362.6,564.6 1363.2,565.1 1363.7,565.6 1364.3,566.2 1364.8,566.7 1365.4,567.2 1365.9,567.8 1366.5,568.4 1367,568.9 1367.6,569.5 1368.1,570.1 1368.7,570.7 1369.2,571.3 1369.8,572 1370.3,572.6 1370.9,573.2 1371.4,573.9 1372,574.5 1372.5,575.2 1373.1,575.9 1373.6,576.5 1374.2,577.2 1374.7,577.9 1375.3,578.6 1375.8,579.3 1376.9,580.6 1378,582 1379.1,583.4 1380.2,584.8 1381.3,586.2 1382.4,587.5 1383.5,588.9 1384.6,590.2 1385.7,591.6 1386.8,592.9 1387.9,594.2 1389,595.5 1390.1,596.8 1391.2,598 1392.3,599.3 1393.4,600.5 1394.5,601.7 1395.6,602.9 1396.7,604.1 1397.8,605.2 1398.9,606.4 1400,607.5 1401.1,608.6 1402.2,609.7 1403.3,610.8 1404.5,611.8 1405.6,612.9 1406.7,613.9 1407.8,614.9 1408.9,615.9 1410,616.9 1411.1,617.8 1412.2,618.8 1413.3,619.7 1414.4,620.6 1415.5,621.5 1416.6,622.4 1417.7,623.3 1418.8,624.2 1419.9,625 1421,625.9 1422.1,626.7 1423.2,627.5 1424.3,628.4 1425.4,629.2 1426.5,629.9 1427.6,630.7 1428.7,631.5 1429.8,632.3 1430.9,633 1432,633.8 1433.1,634.5 1434.2,635.2 1435.3,635.9 1436.4,636.7 1437.5,637.4 1438.6,638.1 1439.7,638.8 1440.8,639.4 1441.9,640.1 1443,640.8 1444.1,641.5 1445.2,642.1 1446.3,642.8 1447.4,643.4 1448.5,644.1 1449.6,644.7 1450.7,645.4 1451.8,646 1452.9,646.6 1454,647.2 1455.1,647.8 1456.2,648.5 1457.3,649.1 1458.4,649.7 1459.5,650.3 1460.6,650.9 1461.7,651.5 1462.8,652 1463.9,652.6 1465,653.2 1466.1,653.8 1467.2,654.4 1468.3,654.9 1469.4,655.5 1470.5,656.1 1471.6,656.6 1472.7,657.2 1473.8,657.8 1474.9,658.3 1476,658.9 1477.1,659.4 1478.2,660 1479.3,660.5 1480.4,661.1 1481.5,661.6 1482.6,662.2 1483.7,662.7 1484.8,663.2 1485.9,663.8 1487,664.3 1488.1,664.8 1489.2,665.4 1490.3,665.9 1491.4,666.4 1492.5,667 1493.6,667.5 1494.7,668 1495.8,668.5 1496.9,669 1498,669.6 1499.1,670.1 1500.2,670.6 1501.3,671.1 1502.4,671.6 1503.5,672.1 1504.7,672.6 1505.8,673.1 1506.9,673.7 1508,674.2 1509.1,674.7 1510.2,675.2 1511.3,675.7 1512.4,676.2 1513.5,676.7 1514.6,677.2 1515.7,677.7 1516.8,678.2 1517.9,678.7 1519,679.2 1520.1,679.7 1521.2,680.1 1522.3,680.6 1523.4,681.1 1524.5,681.6 1525.6,682.1 1526.7,682.6 1527.8,683.1 1528.9,683.6 1530,684.1 1531.1,684.5 1532.2,685 1533.3,685.5 1534.4,686 1535.5,686.5 1536.6,686.9 1537.7,687.4 1538.8,687.9 1539.9,688.4 1541,688.9 1542.1,689.3 1543.2,689.8 1544.3,690.3 1545.4,690.7 1546.5,691.2 1547.6,691.7 1548.7,692.2 1549.8,692.6 1550.9,693.1 1552,693.6 1553.1,694 1554.2,694.5 1555.3,695 1556.4,695.4 1557.5,695.9 1558.6,696.3 1559.7,696.8 1560.8,697.3 1561.9,697.7 1563,698.2 1564.1,698.6 1565.2,699.1 1566.3,699.5 1567.4,700 1568.5,700.5 1569.6,700.9 1570.7,701.4 1571.8,701.8 1572.9,702.3 1574,702.7 1579.5,704.9 1585,707.2 1590.5,709.3 1596,711.5 1601.5,713.6 1607.1,715.8 1612.6,717.9 1618.1,719.9 1623.6,722 1629.1,724 1634.6,726 1640.1,728 1645.6,729.9 1651.1,731.9 1656.6,733.8 1662.1,735.6 1667.6,737.5 1673.1,739.3 1678.6,741.1 1684.1,742.9 1689.6,744.7 1695.1,746.4 1700.6,748.1 1706.2,749.8 1711.7,751.4 1717.2,753.1 1722.7,754.7 1728.2,756.3 1733.7,757.8 1739.2,759.4 1744.7,760.9 1750.2,762.4 1755.7,763.9 1761.2,765.3 1766.7,766.7 1772.2,768.1 1777.7,769.5 1783.2,770.9 1788.7,772.2 1794.2,773.5 1799.7,774.8 1805.3,776.1 1810.8,777.4 1816.3,778.6 1821.8,779.8 1827.3,781 1832.8,782.2 1838.3,783.4 1843.8,784.5 1849.3,785.6 1854.8,786.7 1860.3,787.8 1865.8,788.9 1871.3,789.9 1876.8,790.9 1882.3,791.9 1887.8,792.9 1893.3,793.9 1898.8,794.9 1904.3,795.8 1909.9,796.7 1915.4,797.7 1920.9,798.6 1926.4,799.4 1931.9,800.3 1937.4,801.1 1942.9,802 1948.4,802.8 1953.9,803.6 1959.4,804.4 1964.9,805.2 1970.4,805.9 1975.9,806.7 1981.4,807.4 1986.9,808.1 1992.4,808.8 1997.9,809.5 2003.4,810.2 2009,810.9 2014.5,811.6 2020,812.2 2025.5,812.8 2031,813.5 2036.5,814.1 2042,814.7 2047.5,815.3 2053,815.8 2058.5,816.4 2064,817 2069.5,817.5 2075,818.1 2080.5,818.6 2086,819.1 2091.5,819.6 2097,820.1 2102.5,820.6 2108.1,821.1 2113.6,821.5 2119.1,822 2124.6,822.4 2130.1,822.9 2135.6,823.3 2141.1,823.7 2146.6,824.2 2152.1,824.6 2157.6,825 2163.1,825.4 2168.6,825.7 2174.1,826.1 2179.6,826.5 2185.1,826.9 2190.6,827.2 2196.1,827.6 2201.6,827.9 2207.2,828.2 2212.7,828.5 2218.2,828.9 2223.7,829.2 2229.2,829.5 2234.7,829.8 2240.2,830.1 2245.7,830.4 2251.2,830.6 2256.7,830.9 2262.2,831.2 2267.7,831.4 2273.2,831.7 2278.7,831.9 2284.2,832.2 2289.7,832.4 2295.2,832.7 2300.7,832.9 2306.3,833.1 2311.8,833.3 2317.3,833.5 2322.8,833.7 2328.3,833.9 2333.8,834.1 2339.3,834.3 2344.8,834.5 2350.3,834.7 2355.8,834.9 2361.3,835 2366.8,835.2 2372.3,835.4 2377.8,835.5 2383.3,835.7 2388.8,835.8 2394.3,836 2399.8,836.1 2405.4,836.3 2410.9,836.4 2416.4,836.5 2421.9,836.7 2427.4,836.8 2432.9,836.9 2438.4,837 2443.9,837.1 2449.4,837.2 2454.9,837.3 2454.9,553"/>
<polygon fill="#00ff00" points="1353.8,553 1353.8,555 1354.4,555 1354.9,555 1355.5,555 1356,556 1356.6,557.1 1357.1,558.1 1357.7,559.1 1358.2,559.9 1358.8,560.6 1359.3,561.3 1359.9,561.2 1360.4,560.7 1361,560.2 1361.5,559.7 1362.1,559.3 1362.6,558.9 1363.2,558.6 1363.7,558.2 1364.3,557.9 1364.8,557.7 1365.4,557.4 1365.9,557.2 1366.5,557.1 1367,556.9 1367.6,556.8 1368.1,556.7 1368.7,556.6 1369.2,556.5 1369.8,556.5 1370.3,556.4 1370.9,556.4 1371.4,556.4 1372,556.4 1372.5,556.4 1373.1,556.4 1373.6,556.5 1374.2,556.5 1374.7,556.5 1375.3,556.6 1375.8,556.7 1376.9,556.8 1378,557 1379.1,557.2 1380.2,557.4 1381.3,557.6 1382.4,557.8 1383.5,558 1384.6,558.3 1385.7,558.5 1386.8,558.7 1387.9,559 1389,559.2 1390.1,559.5 1391.2,559.7 1392.3,560 1393.4,560.2 1394.5,560.4 1395.6,560.7 1396.7,560.9 1397.8,561.2 1398.9,561.4 1400,561.6 1401.1,561.9 1402.2,562.1 1403.3,562.3 1404.5,562.6 1405.6,562.8 1406.7,563 1407.8,563.3 1408.9,563.5 1410,563.7 1411.1,563.9 1412.2,564.2 1413.3,564.4 1414.4,564.6 1415.5,564.8 1416.6,565 1417.7,565.3 1418.8,565.5 1419.9,565.7 1421,565.9 1422.1,566.1 1423.2,566.4 1424.3,566.6 1425.4,566.8 1426.5,567 1427.6,567.3 1428.7,567.5 1429.8,567.7 1430.9,567.9 1432,568.1 1433.1,568.4 1434.2,568.6 1435.3,568.8 1436.4,569 1437.5,569.3 1438.6,569.5 1439.7,569.7 1440.8,569.9 1441.9,570.2 1443,570.4 1444.1,570.6 1445.2,570.9 1446.3,571.1 1447.4,571.3 1448.5,571.6 1449.6,571.8 1450.7,572 1451.8,572.3 1452.9,572.5 1454,572.7 1455.1,573 1456.2,573.2 1457.3,573.5 1458.4,573.7 1459.5,573.9 1460.6,574.2 1461.7,574.4 1462.8,574.7 1463.9,574.9 1465,575.2 1466.1,575.4 1467.2,575.7 1468.3,575.9 1469.4,576.2 1470.5,576.4 1471.6,576.7 1472.7,576.9 1473.8,577.2 1474.9,577.4 1476,577.7 1477.1,577.9 1478.2,578.2 1479.3,578.5 1480.4,578.7 1481.5,579 1482.6,579.2 1483.7,579.5 1484.8,579.7 1485.9,580 1487,580.3 1488.1,580.5 1489.2,580.8 1490.3,581.1 1491.4,581.3 1492.5,581.6 1493.6,581.8 1494.7,582.1 1495.8,582.4 1496.9,582.6 1498,582.9 1499.1,583.2 1500.2,583.4 1501.3,583.7 1502.4,584 1503.5,584.2 1504.7,584.5 1505.8,584.8 1506.9,585 1508,585.3 1509.1,585.6 1510.2,585.8 1511.3,586.1 1512.4,586.4 1513.5,586.6 1514.6,586.9 1515.7,587.2 1516.8,587.5 1517.9,587.7 1519,588 1520.1,588.3 1521.2,588.5 1522.3,588.8 1523.4,589.1 1524.5,589.3 1525.6,589.6 1526.7,589.9 1527.8,590.2 1528.9,590.4 1530,590.7 1531.1,591 1532.2,591.2 1533.3,591.5 1534.4,591.8 1535.5,592 1536.6,592.3 1537.7,592.6 1538.8,592.8 1539.9,593.1 1541,593.4 1542.1,593.6 1543.2,593.9 1544.3,594.2 1545.4,594.4 1546.5,594.7 1547.6,595 1548.7,595.2 1549.8,595.5 1550.9,595.8 1552,596 1553.1,596.3 1554.2,596.6 1555.3,596.8 1556.4,597.1 1557.5,597.4 1558.6,597.6 1559.7,597.9 1560.8,598.1 1561.9,598.4 1563,598.7 1564.1,598.9 1565.2,599.2 1566.3,599.4 1567.4,599.7 1568.5,600 1569.6,600.2 1570.7,600.5 1571.8,600.7 1572.9,601 1574,601.2 1579.5,602.5 1585,603.8 1590.5,605 1596,606.2 1601.5,607.5 1607.1,608.7 1612.6,609.8 1618.1,611 1623.6,612.1 1629.1,613.3 1634.6,614.4 1640.1,615.5 1645.6,616.6 1651.1,617.6 1656.6,618.6 1662.1,619.7 1667.6,620.7 1673.1,621.7 1678.6,622.6 1684.1,623.6 1689.6,624.5 1695.1,625.4 1700.6,626.3 1706.2,627.2 1711.7,628 1717.2,628.9 1722.7,629.7 1728.2,630.5 1733.7,631.3 1739.2,632 1744.7,632.8 1750.2,633.5 1755.7,634.2 1761.2,634.9 1766.7,635.6 1772.2,636.3 1777.7,637 1783.2,637.6 1788.7,638.2 1794.2,638.8 1799.7,639.4 1805.3,640 1810.8,640.6 1816.3,641.1 1821.8,641.7 1827.3,642.2 1832.8,642.7 1838.3,643.2 1843.8,643.7 1849.3,644.2 1854.8,644.7 1860.3,645.1 1865.8,645.5 1871.3,646 1876.8,646.4 1882.3,646.8 1887.8,647.2 1893.3,647.6 1898.8,648 1904.3,648.3 1909.9,648.7 1915.4,649 1920.9,649.3 1926.4,649.7 1931.9,650 1937.4,650.3 1942.9,650.6 1948.4,650.9 1953.9,651.1 1959.4,651.4 1964.9,651.7 1970.4,651.9 1975.9,652.2 1981.4,652.4 1986.9,652.6 1992.4,652.8 1997.9,653.1 2003.4,653.3 2009,653.5 2014.5,653.6 2020,653.8 2025.5,654 2031,654.2 2036.5,654.3 2042,654.5 2047.5,654.7 2053,654.8 2058.5,654.9 2064,655.1 2069.5,655.2 2075,655.3 2080.5,655.4 2086,655.5 2091.5,655.6 2097,655.7 2102.5,655.8 2108.1,655.9 2113.6,656 2119.1,656.1 2124.6,656.2 2130.1,656.2 2135.6,656.3 2141.1,656.4 2146.6,656.4 2152.1,656.5 2157.6,656.5 2163.1,656.6 2168.6,656.6 2174.1,656.6 2179.6,656.7 2185.1,656.7 2190.6,656.7 2196.1,656.7 2201.6,656.8 2207.2,656.8 2212.7,656.8 2218.2,656.8 2223.7,656.8 2229.2,656.8 2234.7,656.8 2240.2,656.8 2245.7,656.8 2251.2,656.8 2256.7,656.8 2262.2,656.7 2267.7,656.7 2273.2,656.7 2278.7,656.7 2284.2,656.7 2289.7,656.6 2295.2,656.6 2300.7,656.6 2306.3,656.5 2311.8,656.5 2317.3,656.4 2322.8,656.4 2328.3,656.3 2333.8,656.3 2339.3,656.2 2344.8,656.2 2350.3,656.1 2355.8,656.1 2361.3,656 2366.8,656 2372.3,655.9 2377.8,655.8 2383.3,655.8 2388.8,655.7 2394.3,655.6 2399.8,655.6 2405.4,655.5 2410.9,655.4 2416.4,655.3 2421.9,655.3 2427.4,655.2 2432.9,655.1 2438.4,655 2443.9,654.9 2449.4,654.8 2454.9,654.8 2454.9,553"/>
<polygon fill="#ffa500" points="1353.8,553 1353.8,555 1354.4,555 1354.9,555 1355.5,555 1356,556 1356.6,556.4 1357.1,556.4 1357.7,556.4 1358.2,556.3 1358.8,556.3 1359.3,556.3 1359.9,556.2 1360.4,556.1 1361,556.1 1361.5,556 1362.1,556 1362.6,555.9 1363.2,555.8 1363.7,555.8 1364.3,555.7 1364.8,555.7 1365.4,555.6 1365.9,555.6 1366.5,555.6 1367,555.5 1367.6,555.5 1368.1,555.4 1368.7,555.4 1369.2,555.4 1369.8,555.3 1370.3,555.3 1370.9,555.3 1371.4,555.3 1372,555.2 1372.5,555.2 1373.1,555.2 1373.6,555.2 1374.2,555.2 1374.7,555.2 1375.3,555.2 1375.8,555.1 1376.9,555.1 1378,555.1 1379.1,555.1 1380.2,555.1 1381.3,555.1 1382.4,555.1 1383.5,555.1 1384.6,555.1 1385.7,555.1 1386.8,555.1 1387.9,555.1 1389,555.1 1390.1,555.2 1391.2,555.2 1392.3,555.2 1393.4,555.2 1394.5,555.2 1395.6,555.2 1396.7,555.3 1397.8,555.3 1398.9,555.3 1400,555.3 1401.1,555.3 1402.2,555.4 1403.3,555.4 1404.5,555.4 1405.6,555.4 1406.7,555.4 1407.8,555.5 1408.9,555.5 1410,555.5 1411.1,555.5 1412.2,555.6 1413.3,555.6 1414.4,555.6 1415.5,555.6 1416.6,555.6 1417.7,555.6 1418.8,555.7 1419.9,555.7 1421,555.7 1422.1,555.7 1423.2,555.7 1424.3,555.8 1425.4,555.8 1426.5,555.8 1427.6,555.8 1428.7,555.8 1429.8,555.8 1430.9,555.9 1432,555.9 1433.1,555.9 1434.2,555.9 1435.3,555.9 1436.4,555.9 1437.5,555.9 1438.6,556 1439.7,556 1440.8,556 1441.9,556 1443,556 1444.1,556 1445.2,556 1446.3,556.1 1447.4,556.1 1448.5,556.1 1449.6,556.1 1450.7,556.1 1451.8,556.1 1452.9,556.1 1454,556.1 1455.1,556.1 1456.2,556.2 1457.3,556.2 1458.4,556.2 1459.5,556.2 1460.6,556.2 1461.7,556.2 1462.8,556.2 1463.9,556.2 1465,556.2 1466.1,556.3 1467.2,556.3 1468.3,556.3 1469.4,556.3 1470.5,556.3 1471.6,556.3 1472.7,556.3 1473.8,556.3 1474.9,556.3 1476,556.3 1477.1,556.4 1478.2,556.4 1479.3,556.4 1480.4,556.4 1481.5,556.4 1482.6,556.4 1483.7,556.4 1484.8,556.4 1485.9,556.4 1487,556.4 1488.1,556.5 1489.2,556.5 1490.3,556.5 1491.4,556.5 1492.5,556.5 1493.6,556.5 1494.7,556.5 1495.8,556.5 1496.9,556.5 1498,556.5 1499.1,556.5 1500.2,556.6 1501.3,556.6 1502.4,556.6 1503.5,556.6 1504.7,556.6 1505.8,556.6 1506.9,556.6 1508,556.6 1509.1,556.6 1510.2,556.6 1511.3,556.7 1512.4,556.7 1513.5,556.7 1514.6,556.7 1515.7,556.7 1516.8,556.7 1517.9,556.7 1519,556.7 1520.1,556.7 1521.2,556.7 1522.3,556.7 1523.4,556.8 1524.5,556.8 1525.6,556.8 1526.7,556.8 1527.8,556.8 1528.9,556.8 1530,556.8 1531.1,556.8 1532.2,556.8 1533.3,556.8 1534.4,556.9 1535.5,556.9 1536.6,556.9 1537.7,556.9 1538.8,556.9 1539.9,556.9 1541,556.9 1542.1,556.9 1543.2,556.9 1544.3,557 1545.4,557 1546.5,557 1547.6,557 1548.7,557 1549.8,557 1550.9,557 1552,557 1553.1,557 1554.2,557.1 1555.3,557.1 1556.4,557.1 1557.5,557.1 1558.6,557.1 1559.7,557.1 1560.8,557.1 1561.9,557.1 1563,557.1 1564.1,557.2 1565.2,557.2 1566.3,557.2 1567.4,557.2 1568.5,557.2 1569.6,557.2 1570.7,557.2 1571.8,557.2 1572.9,557.2 1574,557.3 1579.5,557.3 1585,557.4 1590.5,557.4 1596,557.5 1601.5,557.6 1607.1,557.6 1612.6,557.7 1618.1,557.7 1623.6,557.8 1629.1,557.9 1634.6,557.9 1640.1,558 1645.6,558.1 1651.1,558.1 1656.6,558.2 1662.1,558.2 1667.6,558.3 1673.1,558.4 1678.6,558.4 1684.1,558.5 1689.6,558.5 1695.1,558.6 1700.6,558.7 1706.2,558.7 1711.7,558.8 1717.2,558.8 1722.7,558.9 1728.2,559 1733.7,559 1739.2,559.1 1744.7,559.1 1750.2,559.2 1755.7,559.2 1761.2,559.3 1766.7,559.3 1772.2,559.4 1777.7,559.4 1783.2,559.5 1788.7,559.5 1794.2,559.6 1799.7,559.6 1805.3,559.7 1810.8,559.7 1816.3,559.8 1821.8,559.8 1827.3,559.9 1832.8,559.9 1838.3,559.9 1843.8,560 1849.3,560 1854.8,560.1 1860.3,560.1 1865.8,560.1 1871.3,560.2 1876.8,560.2 1882.3,560.2 1887.8,560.3 1893.3,560.3 1898.8,560.3 1904.3,560.4 1909.9,560.4 1915.4,560.4 1920.9,560.5 1926.4,560.5 1931.9,560.5 1937.4,560.6 1942.9,560.6 1948.4,560.6 1953.9,560.6 1959.4,560.7 1964.9,560.7 1970.4,560.7 1975.9,560.7 1981.4,560.7 1986.9,560.8 1992.4,560.8 1997.9,560.8 2003.4,560.8 2009,560.8 2014.5,560.9 2020,560.9 2025.5,560.9 2031,560.9 2036.5,560.9 2042,560.9 2047.5,561 2053,561 2058.5,561 2064,561 2069.5,561 2075,561 2080.5,561 2086,561 2091.5,561 2097,561.1 2102.5,561.1 2108.1,561.1 2113.6,561.1 2119.1,561.1 2124.6,561.1 2130.1,561.1 2135.6,561.1 2141.1,561.1 2146.6,561.1 2152.1,561.1 2157.6,561.1 2163.1,561.1 2168.6,561.1 2174.1,561.1 2179.6,561.1 2185.1,561.1 2190.6,561.1 2196.1,561.1 2201.6,561.1 2207.2,561.1 2212.7,561.1 2218.2,561.1 2223.7,561.1 2229.2,561.1 2234.7,561.1 2240.2,561.1 2245.7,561.1 2251.2,561.1 2256.7,561.1 2262.2,561.1 2267.7,561.1 2273.2,561.1 2278.7,561.1 2284.2,561.1 2289.7,561.1 2295.2,561.1 2300.7,561.1 2306.3,561.1 2311.8,561.1 2317.3,561.1 2322.8,561.1 2328.3,561 2333.8,561 2339.3,561 2344.8,561 2350.3,561 2355.8,561 2361.3,561 2366.8,561 2372.3,561 2377.8,561 2383.3,561 2388.8,561 2394.3,560.9 2399.8,560.9 2405.4,560.9 2410.9,560.9 2416.4,560.9 2421.9,560.9 2427.4,560.9 2432.9,560.9 2438.4,560.9 2443.9,560.8 2449.4,560.8 2454.9,560.8 2454.9,553"/>
<polyline fill="none" stroke="#000" stroke-width="3.4" stroke-linejoin="round" points="1353.8,555 1354.4,559.8 1354.9,563.4 1355.5,566.8 1356,570.5 1356.6,574.4 1357.1,578.6 1357.7,582.8 1358.2,586.9 1358.8,591 1359.3,594.9 1359.9,598.7 1360.4,602.2 1361,605.6 1361.5,608.8 1362.1,611.8 1362.6,614.6 1363.2,617.3 1363.7,619.9 1364.3,622.3 1364.8,624.6 1365.4,626.8 1365.9,628.9 1366.5,630.9 1367,632.8 1367.6,634.6 1368.1,636.4 1368.7,638.1 1369.2,639.7 1369.8,641.3 1370.3,642.9 1370.9,644.4 1371.4,645.8 1372,647.2 1372.5,648.6 1373.1,650 1373.6,651.3 1374.2,652.6 1374.7,653.8 1375.3,655.1 1375.8,656.3 1376.9,658.6 1378,660.9 1379.1,663.1 1380.2,665.3 1381.3,667.4 1382.4,669.5 1383.5,671.5 1384.6,673.5 1385.7,675.4 1386.8,677.3 1387.9,679.2 1389,681.1 1390.1,682.9 1391.2,684.7 1392.3,686.5 1393.4,688.2 1394.5,689.9 1395.6,691.7 1396.7,693.3 1397.8,695 1398.9,696.7 1400,698.3 1401.1,699.9 1402.2,701.5 1403.3,703.1 1404.5,704.7 1405.6,706.2 1406.7,707.8 1407.8,709.3 1408.9,710.8 1410,712.3 1411.1,713.8 1412.2,715.3 1413.3,716.7 1414.4,718.2 1415.5,719.6 1416.6,721 1417.7,722.4 1418.8,723.8 1419.9,725.2 1421,726.6 1422.1,727.9 1423.2,729.3 1424.3,730.6 1425.4,731.9 1426.5,733.3 1427.6,734.6 1428.7,735.9 1429.8,737.1 1430.9,738.4 1432,739.7 1433.1,740.9 1434.2,742.1 1435.3,743.4 1436.4,744.6 1437.5,745.8 1438.6,747 1439.7,748.2 1440.8,749.4 1441.9,750.5 1443,751.7 1444.1,752.9 1445.2,754 1446.3,755.1 1447.4,756.3 1448.5,757.4 1449.6,758.5 1450.7,759.6 1451.8,760.7 1452.9,761.8 1454,762.9 1455.1,763.9 1456.2,765 1457.3,766.1 1458.4,767.1 1459.5,768.2 1460.6,769.2 1461.7,770.2 1462.8,771.2 1463.9,772.3 1465,773.3 1466.1,774.3 1467.2,775.2 1468.3,776.2 1469.4,777.2 1470.5,778.2 1471.6,779.2 1472.7,780.1 1473.8,781.1 1474.9,782 1476,783 1477.1,783.9 1478.2,784.8 1479.3,785.7 1480.4,786.7 1481.5,787.6 1482.6,788.5 1483.7,789.4 1484.8,790.3 1485.9,791.2 1487,792.1 1488.1,792.9 1489.2,793.8 1490.3,794.7 1491.4,795.5 1492.5,796.4 1493.6,797.2 1494.7,798.1 1495.8,798.9 1496.9,799.8 1498,800.6 1499.1,801.4 1500.2,802.3 1501.3,803.1 1502.4,803.9 1503.5,804.7 1504.7,805.5 1505.8,806.3 1506.9,807.1 1508,807.9 1509.1,808.7 1510.2,809.5 1511.3,810.2 1512.4,811 1513.5,811.8 1514.6,812.5 1515.7,813.3 1516.8,814.1 1517.9,814.8 1519,815.6 1520.1,816.3 1521.2,817 1522.3,817.8 1523.4,818.5 1524.5,819.2 1525.6,820 1526.7,820.7 1527.8,821.4 1528.9,822.1 1530,822.8 1531.1,823.5 1532.2,824.2 1533.3,824.9 1534.4,825.6 1535.5,826.3 1536.6,827 1537.7,827.7 1538.8,828.4 1539.9,829 1541,829.7 1542.1,830.4 1543.2,831 1544.3,831.7 1545.4,832.4 1546.5,833 1547.6,833.7 1548.7,834.3 1549.8,835 1550.9,835.6 1552,836.3 1553.1,836.9 1554.2,837.5 1555.3,838.2 1556.4,838.8 1557.5,839.4 1558.6,840 1559.7,840.6 1560.8,841.3 1561.9,841.9 1563,842.5 1564.1,843.1 1565.2,843.7 1566.3,844.3 1567.4,844.9 1568.5,845.5 1569.6,846.1 1570.7,846.7 1571.8,847.2 1572.9,847.8 1574,848.4 1579.5,851.3 1585,854.1 1590.5,856.8 1596,859.4 1601.5,862 1607.1,864.6 1612.6,867.1 1618.1,869.5 1623.6,871.9 1629.1,874.2 1634.6,876.4 1640.1,878.7 1645.6,880.8 1651.1,882.9 1656.6,885 1662.1,887 1667.6,889 1673.1,891 1678.6,892.9 1684.1,894.7 1689.6,896.5 1695.1,898.3 1700.6,900 1706.2,901.7 1711.7,903.4 1717.2,905 1722.7,906.6 1728.2,908.2 1733.7,909.7 1739.2,911.2 1744.7,912.7 1750.2,914.1 1755.7,915.5 1761.2,916.9 1766.7,918.2 1772.2,919.5 1777.7,920.8 1783.2,922.1 1788.7,923.3 1794.2,924.5 1799.7,925.7 1805.3,926.8 1810.8,928 1816.3,929.1 1821.8,930.2 1827.3,931.2 1832.8,932.3 1838.3,933.3 1843.8,934.3 1849.3,935.3 1854.8,936.2 1860.3,937.2 1865.8,938.1 1871.3,939 1876.8,939.9 1882.3,940.7 1887.8,941.6 1893.3,942.4 1898.8,943.2 1904.3,944 1909.9,944.8 1915.4,945.6 1920.9,946.3 1926.4,947 1931.9,947.7 1937.4,948.4 1942.9,949.1 1948.4,949.8 1953.9,950.5 1959.4,951.1 1964.9,951.8 1970.4,952.4 1975.9,953 1981.4,953.6 1986.9,954.2 1992.4,954.7 1997.9,955.3 2003.4,955.8 2009,956.4 2014.5,956.9 2020,957.4 2025.5,957.9 2031,958.4 2036.5,958.9 2042,959.4 2047.5,959.8 2053,960.3 2058.5,960.7 2064,961.2 2069.5,961.6 2075,962 2080.5,962.4 2086,962.8 2091.5,963.2 2097,963.6 2102.5,964 2108.1,964.3 2113.6,964.7 2119.1,965.1 2124.6,965.4 2130.1,965.7 2135.6,966.1 2141.1,966.4 2146.6,966.7 2152.1,967 2157.6,967.3 2163.1,967.6 2168.6,967.9 2174.1,968.2 2179.6,968.5 2185.1,968.8 2190.6,969 2196.1,969.3 2201.6,969.5 2207.2,969.8 2212.7,970 2218.2,970.3 2223.7,970.5 2229.2,970.7 2234.7,971 2240.2,971.2 2245.7,971.4 2251.2,971.6 2256.7,971.8 2262.2,972 2267.7,972.2 2273.2,972.4 2278.7,972.6 2284.2,972.8 2289.7,972.9 2295.2,973.1 2300.7,973.3 2306.3,973.4 2311.8,973.6 2317.3,973.8 2322.8,973.9 2328.3,974.1 2333.8,974.2 2339.3,974.3 2344.8,974.5 2350.3,974.6 2355.8,974.8 2361.3,974.9 2366.8,975 2372.3,975.1 2377.8,975.2 2383.3,975.4 2388.8,975.5 2394.3,975.6 2399.8,975.7 2405.4,975.8 2410.9,975.9 2416.4,976 2421.9,976.1 2427.4,976.2 2432.9,976.3 2438.4,976.4 2443.9,976.4 2449.4,976.5 2454.9,976.6"/>
<polyline fill="none" stroke="#000" stroke-width="3.4" stroke-linejoin="round" points="1353.8,555 1354.4,555 1354.9,555 1355.5,555 1356,556 1356.6,557.1 1357.1,558.1 1357.7,559.1 1358.2,559.9 1358.8,560.6 1359.3,561.3 1359.9,561.9 1360.4,562.5 1361,563 1361.5,563.6 1362.1,564.1 1362.6,564.6 1363.2,565.1 1363.7,565.6 1364.3,566.2 1364.8,566.7 1365.4,567.2 1365.9,567.8 1366.5,568.4 1367,568.9 1367.6,569.5 1368.1,570.1 1368.7,570.7 1369.2,571.3 1369.8,572 1370.3,572.6 1370.9,573.2 1371.4,573.9 1372,574.5 1372.5,575.2 1373.1,575.9 1373.6,576.5 1374.2,577.2 1374.7,577.9 1375.3,578.6 1375.8,579.3 1376.9,580.6 1378,582 1379.1,583.4 1380.2,584.8 1381.3,586.2 1382.4,587.5 1383.5,588.9 1384.6,590.2 1385.7,591.6 1386.8,592.9 1387.9,594.2 1389,595.5 1390.1,596.8 1391.2,598 1392.3,599.3 1393.4,600.5 1394.5,601.7 1395.6,602.9 1396.7,604.1 1397.8,605.2 1398.9,606.4 1400,607.5 1401.1,608.6 1402.2,609.7 1403.3,610.8 1404.5,611.8 1405.6,612.9 1406.7,613.9 1407.8,614.9 1408.9,615.9 1410,616.9 1411.1,617.8 1412.2,618.8 1413.3,619.7 1414.4,620.6 1415.5,621.5 1416.6,622.4 1417.7,623.3 1418.8,624.2 1419.9,625 1421,625.9 1422.1,626.7 1423.2,627.5 1424.3,628.4 1425.4,629.2 1426.5,629.9 1427.6,630.7 1428.7,631.5 1429.8,632.3 1430.9,633 1432,633.8 1433.1,634.5 1434.2,635.2 1435.3,635.9 1436.4,636.7 1437.5,637.4 1438.6,638.1 1439.7,638.8 1440.8,639.4 1441.9,640.1 1443,640.8 1444.1,641.5 1445.2,642.1 1446.3,642.8 1447.4,643.4 1448.5,644.1 1449.6,644.7 1450.7,645.4 1451.8,646 1452.9,646.6 1454,647.2 1455.1,647.8 1456.2,648.5 1457.3,649.1 1458.4,649.7 1459.5,650.3 1460.6,650.9 1461.7,651.5 1462.8,652 1463.9,652.6 1465,653.2 1466.1,653.8 1467.2,654.4 1468.3,654.9 1469.4,655.5 1470.5,656.1 1471.6,656.6 1472.7,657.2 1473.8,657.8 1474.9,658.3 1476,658.9 1477.1,659.4 1478.2,660 1479.3,660.5 1480.4,661.1 1481.5,661.6 1482.6,662.2 1483.7,662.7 1484.8,663.2 1485.9,663.8 1487,664.3 1488.1,664.8 1489.2,665.4 1490.3,665.9 1491.4,666.4 1492.5,667 1493.6,667.5 1494.7,668 1495.8,668.5 1496.9,669 1498,669.6 1499.1,670.1 1500.2,670.6 1501.3,671.1 1502.4,671.6 1503.5,672.1 1504.7,672.6 1505.8,673.1 1506.9,673.7 1508,674.2 1509.1,674.7 1510.2,675.2 1511.3,675.7 1512.4,676.2 1513.5,676.7 1514.6,677.2 1515.7,677.7 1516.8,678.2 1517.9,678.7 1519,679.2 1520.1,679.7 1521.2,680.1 1522.3,680.6 1523.4,681.1 1524.5,681.6 1525.6,682.1 1526.7,682.6 1527.8,683.1 1528.9,683.6 1530,684.1 1531.1,684.5 1532.2,685 1533.3,685.5 1534.4,686 1535.5,686.5 1536.6,686.9 1537.7,687.4 1538.8,687.9 1539.9,688.4 1541,688.9 1542.1,689.3 1543.2,689.8 1544.3,690.3 1545.4,690.7 1546.5,691.2 1547.6,691.7 1548.7,692.2 1549.8,692.6 1550.9,693.1 1552,693.6 1553.1,694 1554.2,694.5 1555.3,695 1556.4,695.4 1557.5,695.9 1558.6,696.3 1559.7,696.8 1560.8,697.3 1561.9,697.7 1563,698.2 1564.1,698.6 1565.2,699.1 1566.3,699.5 1567.4,700 1568.5,700.5 1569.6,700.9 1570.7,701.4 1571.8,701.8 1572.9,702.3 1574,702.7 1579.5,704.9 1585,707.2 1590.5,709.3 1596,711.5 1601.5,713.6 1607.1,715.8 1612.6,717.9 1618.1,719.9 1623.6,722 1629.1,724 1634.6,726 1640.1,728 1645.6,729.9 1651.1,731.9 1656.6,733.8 1662.1,735.6 1667.6,737.5 1673.1,739.3 1678.6,741.1 1684.1,742.9 1689.6,744.7 1695.1,746.4 1700.6,748.1 1706.2,749.8 1711.7,751.4 1717.2,753.1 1722.7,754.7 1728.2,756.3 1733.7,757.8 1739.2,759.4 1744.7,760.9 1750.2,762.4 1755.7,763.9 1761.2,765.3 1766.7,766.7 1772.2,768.1 1777.7,769.5 1783.2,770.9 1788.7,772.2 1794.2,773.5 1799.7,774.8 1805.3,776.1 1810.8,777.4 1816.3,778.6 1821.8,779.8 1827.3,781 1832.8,782.2 1838.3,783.4 1843.8,784.5 1849.3,785.6 1854.8,786.7 1860.3,787.8 1865.8,788.9 1871.3,789.9 1876.8,790.9 1882.3,791.9 1887.8,792.9 1893.3,793.9 1898.8,794.9 1904.3,795.8 1909.9,796.7 1915.4,797.7 1920.9,798.6 1926.4,799.4 1931.9,800.3 1937.4,801.1 1942.9,802 1948.4,802.8 1953.9,803.6 1959.4,804.4 1964.9,805.2 1970.4,805.9 1975.9,806.7 1981.4,807.4 1986.9,808.1 1992.4,808.8 1997.9,809.5 2003.4,810.2 2009,810.9 2014.5,811.6 2020,812.2 2025.5,812.8 2031,813.5 2036.5,814.1 2042,814.7 2047.5,815.3 2053,815.8 2058.5,816.4 2064,817 2069.5,817.5 2075,818.1 2080.5,818.6 2086,819.1 2091.5,819.6 2097,820.1 2102.5,820.6 2108.1,821.1 2113.6,821.5 2119.1,822 2124.6,822.4 2130.1,822.9 2135.6,823.3 2141.1,823.7 2146.6,824.2 2152.1,824.6 2157.6,825 2163.1,825.4 2168.6,825.7 2174.1,826.1 2179.6,826.5 2185.1,826.9 2190.6,827.2 2196.1,827.6 2201.6,827.9 2207.2,828.2 2212.7,828.5 2218.2,828.9 2223.7,829.2 2229.2,829.5 2234.7,829.8 2240.2,830.1 2245.7,830.4 2251.2,830.6 2256.7,830.9 2262.2,831.2 2267.7,831.4 2273.2,831.7 2278.7,831.9 2284.2,832.2 2289.7,832.4 2295.2,832.7 2300.7,832.9 2306.3,833.1 2311.8,833.3 2317.3,833.5 2322.8,833.7 2328.3,833.9 2333.8,834.1 2339.3,834.3 2344.8,834.5 2350.3,834.7 2355.8,834.9 2361.3,835 2366.8,835.2 2372.3,835.4 2377.8,835.5 2383.3,835.7 2388.8,835.8 2394.3,836 2399.8,836.1 2405.4,836.3 2410.9,836.4 2416.4,836.5 2421.9,836.7 2427.4,836.8 2432.9,836.9 2438.4,837 2443.9,837.1 2449.4,837.2 2454.9,837.3"/>
<polyline fill="none" stroke="#000" stroke-width="3.4" stroke-linejoin="round" points="1353.8,555 1354.4,555 1354.9,555 1355.5,555 1356,556 1356.6,557.1 1357.1,558.1 1357.7,559.1 1358.2,559.9 1358.8,560.6 1359.3,561.3 1359.9,561.2 1360.4,560.7 1361,560.2 1361.5,559.7 1362.1,559.3 1362.6,558.9 1363.2,558.6 1363.7,558.2 1364.3,557.9 1364.8,557.7 1365.4,557.4 1365.9,557.2 1366.5,557.1 1367,556.9 1367.6,556.8 1368.1,556.7 1368.7,556.6 1369.2,556.5 1369.8,556.5 1370.3,556.4 1370.9,556.4 1371.4,556.4 1372,556.4 1372.5,556.4 1373.1,556.4 1373.6,556.5 1374.2,556.5 1374.7,556.5 1375.3,556.6 1375.8,556.7 1376.9,556.8 1378,557 1379.1,557.2 1380.2,557.4 1381.3,557.6 1382.4,557.8 1383.5,558 1384.6,558.3 1385.7,558.5 1386.8,558.7 1387.9,559 1389,559.2 1390.1,559.5 1391.2,559.7 1392.3,560 1393.4,560.2 1394.5,560.4 1395.6,560.7 1396.7,560.9 1397.8,561.2 1398.9,561.4 1400,561.6 1401.1,561.9 1402.2,562.1 1403.3,562.3 1404.5,562.6 1405.6,562.8 1406.7,563 1407.8,563.3 1408.9,563.5 1410,563.7 1411.1,563.9 1412.2,564.2 1413.3,564.4 1414.4,564.6 1415.5,564.8 1416.6,565 1417.7,565.3 1418.8,565.5 1419.9,565.7 1421,565.9 1422.1,566.1 1423.2,566.4 1424.3,566.6 1425.4,566.8 1426.5,567 1427.6,567.3 1428.7,567.5 1429.8,567.7 1430.9,567.9 1432,568.1 1433.1,568.4 1434.2,568.6 1435.3,568.8 1436.4,569 1437.5,569.3 1438.6,569.5 1439.7,569.7 1440.8,569.9 1441.9,570.2 1443,570.4 1444.1,570.6 1445.2,570.9 1446.3,571.1 1447.4,571.3 1448.5,571.6 1449.6,571.8 1450.7,572 1451.8,572.3 1452.9,572.5 1454,572.7 1455.1,573 1456.2,573.2 1457.3,573.5 1458.4,573.7 1459.5,573.9 1460.6,574.2 1461.7,574.4 1462.8,574.7 1463.9,574.9 1465,575.2 1466.1,575.4 1467.2,575.7 1468.3,575.9 1469.4,576.2 1470.5,576.4 1471.6,576.7 1472.7,576.9 1473.8,577.2 1474.9,577.4 1476,577.7 1477.1,577.9 1478.2,578.2 1479.3,578.5 1480.4,578.7 1481.5,579 1482.6,579.2 1483.7,579.5 1484.8,579.7 1485.9,580 1487,580.3 1488.1,580.5 1489.2,580.8 1490.3,581.1 1491.4,581.3 1492.5,581.6 1493.6,581.8 1494.7,582.1 1495.8,582.4 1496.9,582.6 1498,582.9 1499.1,583.2 1500.2,583.4 1501.3,583.7 1502.4,584 1503.5,584.2 1504.7,584.5 1505.8,584.8 1506.9,585 1508,585.3 1509.1,585.6 1510.2,585.8 1511.3,586.1 1512.4,586.4 1513.5,586.6 1514.6,586.9 1515.7,587.2 1516.8,587.5 1517.9,587.7 1519,588 1520.1,588.3 1521.2,588.5 1522.3,588.8 1523.4,589.1 1524.5,589.3 1525.6,589.6 1526.7,589.9 1527.8,590.2 1528.9,590.4 1530,590.7 1531.1,591 1532.2,591.2 1533.3,591.5 1534.4,591.8 1535.5,592 1536.6,592.3 1537.7,592.6 1538.8,592.8 1539.9,593.1 1541,593.4 1542.1,593.6 1543.2,593.9 1544.3,594.2 1545.4,594.4 1546.5,594.7 1547.6,595 1548.7,595.2 1549.8,595.5 1550.9,595.8 1552,596 1553.1,596.3 1554.2,596.6 1555.3,596.8 1556.4,597.1 1557.5,597.4 1558.6,597.6 1559.7,597.9 1560.8,598.1 1561.9,598.4 1563,598.7 1564.1,598.9 1565.2,599.2 1566.3,599.4 1567.4,599.7 1568.5,600 1569.6,600.2 1570.7,600.5 1571.8,600.7 1572.9,601 1574,601.2 1579.5,602.5 1585,603.8 1590.5,605 1596,606.2 1601.5,607.5 1607.1,608.7 1612.6,609.8 1618.1,611 1623.6,612.1 1629.1,613.3 1634.6,614.4 1640.1,615.5 1645.6,616.6 1651.1,617.6 1656.6,618.6 1662.1,619.7 1667.6,620.7 1673.1,621.7 1678.6,622.6 1684.1,623.6 1689.6,624.5 1695.1,625.4 1700.6,626.3 1706.2,627.2 1711.7,628 1717.2,628.9 1722.7,629.7 1728.2,630.5 1733.7,631.3 1739.2,632 1744.7,632.8 1750.2,633.5 1755.7,634.2 1761.2,634.9 1766.7,635.6 1772.2,636.3 1777.7,637 1783.2,637.6 1788.7,638.2 1794.2,638.8 1799.7,639.4 1805.3,640 1810.8,640.6 1816.3,641.1 1821.8,641.7 1827.3,642.2 1832.8,642.7 1838.3,643.2 1843.8,643.7 1849.3,644.2 1854.8,644.7 1860.3,645.1 1865.8,645.5 1871.3,646 1876.8,646.4 1882.3,646.8 1887.8,647.2 1893.3,647.6 1898.8,648 1904.3,648.3 1909.9,648.7 1915.4,649 1920.9,649.3 1926.4,649.7 1931.9,650 1937.4,650.3 1942.9,650.6 1948.4,650.9 1953.9,651.1 1959.4,651.4 1964.9,651.7 1970.4,651.9 1975.9,652.2 1981.4,652.4 1986.9,652.6 1992.4,652.8 1997.9,653.1 2003.4,653.3 2009,653.5 2014.5,653.6 2020,653.8 2025.5,654 2031,654.2 2036.5,654.3 2042,654.5 2047.5,654.7 2053,654.8 2058.5,654.9 2064,655.1 2069.5,655.2 2075,655.3 2080.5,655.4 2086,655.5 2091.5,655.6 2097,655.7 2102.5,655.8 2108.1,655.9 2113.6,656 2119.1,656.1 2124.6,656.2 2130.1,656.2 2135.6,656.3 2141.1,656.4 2146.6,656.4 2152.1,656.5 2157.6,656.5 2163.1,656.6 2168.6,656.6 2174.1,656.6 2179.6,656.7 2185.1,656.7 2190.6,656.7 2196.1,656.7 2201.6,656.8 2207.2,656.8 2212.7,656.8 2218.2,656.8 2223.7,656.8 2229.2,656.8 2234.7,656.8 2240.2,656.8 2245.7,656.8 2251.2,656.8 2256.7,656.8 2262.2,656.7 2267.7,656.7 2273.2,656.7 2278.7,656.7 2284.2,656.7 2289.7,656.6 2295.2,656.6 2300.7,656.6 2306.3,656.5 2311.8,656.5 2317.3,656.4 2322.8,656.4 2328.3,656.3 2333.8,656.3 2339.3,656.2 2344.8,656.2 2350.3,656.1 2355.8,656.1 2361.3,656 2366.8,656 2372.3,655.9 2377.8,655.8 2383.3,655.8 2388.8,655.7 2394.3,655.6 2399.8,655.6 2405.4,655.5 2410.9,655.4 2416.4,655.3 2421.9,655.3 2427.4,655.2 2432.9,655.1 2438.4,655 2443.9,654.9 2449.4,654.8 2454.9,654.8"/>
<polyline fill="none" stroke="#000" stroke-width="3.4" stroke-linejoin="round" points="1353.8,555 1354.4,555 1354.9,555 1355.5,555 1356,556 1356.6,556.4 1357.1,556.4 1357.7,556.4 1358.2,556.3 1358.8,556.3 1359.3,556.3 1359.9,556.2 1360.4,556.1 1361,556.1 1361.5,556 1362.1,556 1362.6,555.9 1363.2,555.8 1363.7,555.8 1364.3,555.7 1364.8,555.7 1365.4,555.6 1365.9,555.6 1366.5,555.6 1367,555.5 1367.6,555.5 1368.1,555.4 1368.7,555.4 1369.2,555.4 1369.8,555.3 1370.3,555.3 1370.9,555.3 1371.4,555.3 1372,555.2 1372.5,555.2 1373.1,555.2 1373.6,555.2 1374.2,555.2 1374.7,555.2 1375.3,555.2 1375.8,555.1 1376.9,555.1 1378,555.1 1379.1,555.1 1380.2,555.1 1381.3,555.1 1382.4,555.1 1383.5,555.1 1384.6,555.1 1385.7,555.1 1386.8,555.1 1387.9,555.1 1389,555.1 1390.1,555.2 1391.2,555.2 1392.3,555.2 1393.4,555.2 1394.5,555.2 1395.6,555.2 1396.7,555.3 1397.8,555.3 1398.9,555.3 1400,555.3 1401.1,555.3 1402.2,555.4 1403.3,555.4 1404.5,555.4 1405.6,555.4 1406.7,555.4 1407.8,555.5 1408.9,555.5 1410,555.5 1411.1,555.5 1412.2,555.6 1413.3,555.6 1414.4,555.6 1415.5,555.6 1416.6,555.6 1417.7,555.6 1418.8,555.7 1419.9,555.7 1421,555.7 1422.1,555.7 1423.2,555.7 1424.3,555.8 1425.4,555.8 1426.5,555.8 1427.6,555.8 1428.7,555.8 1429.8,555.8 1430.9,555.9 1432,555.9 1433.1,555.9 1434.2,555.9 1435.3,555.9 1436.4,555.9 1437.5,555.9 1438.6,556 1439.7,556 1440.8,556 1441.9,556 1443,556 1444.1,556 1445.2,556 1446.3,556.1 1447.4,556.1 1448.5,556.1 1449.6,556.1 1450.7,556.1 1451.8,556.1 1452.9,556.1 1454,556.1 1455.1,556.1 1456.2,556.2 1457.3,556.2 1458.4,556.2 1459.5,556.2 1460.6,556.2 1461.7,556.2 1462.8,556.2 1463.9,556.2 1465,556.2 1466.1,556.3 1467.2,556.3 1468.3,556.3 1469.4,556.3 1470.5,556.3 1471.6,556.3 1472.7,556.3 1473.8,556.3 1474.9,556.3 1476,556.3 1477.1,556.4 1478.2,556.4 1479.3,556.4 1480.4,556.4 1481.5,556.4 1482.6,556.4 1483.7,556.4 1484.8,556.4 1485.9,556.4 1487,556.4 1488.1,556.5 1489.2,556.5 1490.3,556.5 1491.4,556.5 1492.5,556.5 1493.6,556.5 1494.7,556.5 1495.8,556.5 1496.9,556.5 1498,556.5 1499.1,556.5 1500.2,556.6 1501.3,556.6 1502.4,556.6 1503.5,556.6 1504.7,556.6 1505.8,556.6 1506.9,556.6 1508,556.6 1509.1,556.6 1510.2,556.6 1511.3,556.7 1512.4,556.7 1513.5,556.7 1514.6,556.7 1515.7,556.7 1516.8,556.7 1517.9,556.7 1519,556.7 1520.1,556.7 1521.2,556.7 1522.3,556.7 1523.4,556.8 1524.5,556.8 1525.6,556.8 1526.7,556.8 1527.8,556.8 1528.9,556.8 1530,556.8 1531.1,556.8 1532.2,556.8 1533.3,556.8 1534.4,556.9 1535.5,556.9 1536.6,556.9 1537.7,556.9 1538.8,556.9 1539.9,556.9 1541,556.9 1542.1,556.9 1543.2,556.9 1544.3,557 1545.4,557 1546.5,557 1547.6,557 1548.7,557 1549.8,557 1550.9,557 1552,557 1553.1,557 1554.2,557.1 1555.3,557.1 1556.4,557.1 1557.5,557.1 1558.6,557.1 1559.7,557.1 1560.8,557.1 1561.9,557.1 1563,557.1 1564.1,557.2 1565.2,557.2 1566.3,557.2 1567.4,557.2 1568.5,557.2 1569.6,557.2 1570.7,557.2 1571.8,557.2 1572.9,557.2 1574,557.3 1579.5,557.3 1585,557.4 1590.5,557.4 1596,557.5 1601.5,557.6 1607.1,557.6 1612.6,557.7 1618.1,557.7 1623.6,557.8 1629.1,557.9 1634.6,557.9 1640.1,558 1645.6,558.1 1651.1,558.1 1656.6,558.2 1662.1,558.2 1667.6,558.3 1673.1,558.4 1678.6,558.4 1684.1,558.5 1689.6,558.5 1695.1,558.6 1700.6,558.7 1706.2,558.7 1711.7,558.8 1717.2,558.8 1722.7,558.9 1728.2,559 1733.7,559 1739.2,559.1 1744.7,559.1 1750.2,559.2 1755.7,559.2 1761.2,559.3 1766.7,559.3 1772.2,559.4 1777.7,559.4 1783.2,559.5 1788.7,559.5 1794.2,559.6 1799.7,559.6 1805.3,559.7 1810.8,559.7 1816.3,559.8 1821.8,559.8 1827.3,559.9 1832.8,559.9 1838.3,559.9 1843.8,560 1849.3,560 1854.8,560.1 1860.3,560.1 1865.8,560.1 1871.3,560.2 1876.8,560.2 1882.3,560.2 1887.8,560.3 1893.3,560.3 1898.8,560.3 1904.3,560.4 1909.9,560.4 1915.4,560.4 1920.9,560.5 1926.4,560.5 1931.9,560.5 1937.4,560.6 1942.9,560.6 1948.4,560.6 1953.9,560.6 1959.4,560.7 1964.9,560.7 1970.4,560.7 1975.9,560.7 1981.4,560.7 1986.9,560.8 1992.4,560.8 1997.9,560.8 2003.4,560.8 2009,560.8 2014.5,560.9 2020,560.9 2025.5,560.9 2031,560.9 2036.5,560.9 2042,560.9 2047.5,561 2053,561 2058.5,561 2064,561 2069.5,561 2075,561 2080.5,561 2086,561 2091.5,561 2097,561.1 2102.5,561.1 2108.1,561.1 2113.6,561.1 2119.1,561.1 2124.6,561.1 2130.1,561.1 2135.6,561.1 2141.1,561.1 2146.6,561.1 2152.1,561.1 2157.6,561.1 2163.1,561.1 2168.6,561.1 2174.1,561.1 2179.6,561.1 2185.1,561.1 2190.6,561.1 2196.1,561.1 2201.6,561.1 2207.2,561.1 2212.7,561.1 2218.2,561.1 2223.7,561.1 2229.2,561.1 2234.7,561.1 2240.2,561.1 2245.7,561.1 2251.2,561.1 2256.7,561.1 2262.2,561.1 2267.7,561.1 2273.2,561.1 2278.7,561.1 2284.2,561.1 2289.7,561.1 2295.2,561.1 2300.7,561.1 2306.3,561.1 2311.8,561.1 2317.3,561.1 2322.8,561.1 2328.3,561 2333.8,561 2339.3,561 2344.8,561 2350.3,561 2355.8,561 2361.3,561 2366.8,561 2372.3,561 2377.8,561 2383.3,561 2388.8,561 2394.3,560.9 2399.8,560.9 2405.4,560.9 2410.9,560.9 2416.4,560.9 2421.9,560.9 2427.4,560.9 2432.9,560.9 2438.4,560.9 2443.9,560.8 2449.4,560.8 2454.9,560.8"/>
</g>
<path d="M1353.8,1040.4v-20M1353.8,555v20M1463.9,1040.4v-10.5M1463.9,555v10.5M1574,1040.4v-20M1574,555v20M1684.1,1040.4v-10.5M1684.1,555v10.5M1794.2,1040.4v-20M1794.2,555v20M1904.3,1040.4v-10.5M1904.3,555v10.5M2014.5,1040.4v-20M2014.5,555v20M2124.6,1040.4v-10.5M2124.6,555v10.5M2234.7,1040.4v-20M2234.7,555v20M2344.8,1040.4v-10.5M2344.8,555v10.5M2454.9,1040.4v-20M2454.9,555v20M1353.8,1040.4h20M2454.9,1040.4h-20M1353.8,991.9h10.5M2454.9,991.9h-10.5M1353.8,943.3h20M2454.9,943.3h-20M1353.8,894.8h10.5M2454.9,894.8h-10.5M1353.8,846.2h20M2454.9,846.2h-20M1353.8,797.7h10.5M2454.9,797.7h-10.5M1353.8,749.2h20M2454.9,749.2h-20M1353.8,700.6h10.5M2454.9,700.6h-10.5M1353.8,652.1h20M2454.9,652.1h-20M1353.8,603.5h10.5M2454.9,603.5h-10.5M1353.8,555h20M2454.9,555h-20" stroke="#000" stroke-width="2.5" fill="none"/>
<rect x="1353.8" y="555.0" width="1101.1" height="485.4" fill="none" stroke="#000" stroke-width="2.6"/>
<circle cx="1533.3" cy="824.9" r="19" fill="none" stroke="#000" stroke-width="3.1"/>
<text class="hl" style="font-size:41.5px" transform="translate(1560.6,839.3) scale(0.955,1)">163</text>
<rect x="2080.4" y="950.1" width="26.6" height="26.6" fill="none" stroke="#000" stroke-width="3.3"/>
<text class="hl" style="font-size:41.5px" transform="translate(2119.6,977.8) scale(0.955,1)">672</text>
<text class="hl" style="font-size:42px" transform="translate(1375.1,1016.2) scale(0.955,1)">(D) IO</text>
<text transform="translate(1353.8,1078.3) scale(0.975,1)" class="tl" text-anchor="middle">0</text>
<text transform="translate(1574,1078.3) scale(0.975,1)" class="tl" text-anchor="middle">200</text>
<text transform="translate(1794.2,1078.3) scale(0.975,1)" class="tl" text-anchor="middle">400</text>
<text transform="translate(2014.5,1078.3) scale(0.975,1)" class="tl" text-anchor="middle">600</text>
<text transform="translate(2234.7,1078.3) scale(0.975,1)" class="tl" text-anchor="middle">800</text>
<text transform="translate(2454.9,1078.3) scale(0.975,1)" class="tl" text-anchor="middle">1000</text>
<text transform="translate(1345.2,958.1) scale(0.975,1)" class="tl" text-anchor="end">20</text>
<text transform="translate(1345.2,861) scale(0.975,1)" class="tl" text-anchor="end">40</text>
<text transform="translate(1345.2,764) scale(0.975,1)" class="tl" text-anchor="end">60</text>
<text transform="translate(1345.2,666.9) scale(0.975,1)" class="tl" text-anchor="end">80</text>
<text transform="translate(1345.2,569.8) scale(0.975,1)" class="tl" text-anchor="end">100</text>
<clipPath id="clipE"><rect x="130.7" y="1094.3" width="1101.1" height="485.4"/></clipPath>
<g clip-path="url(#clipE)">
<rect x="130.7" y="1094.3" width="1101.1" height="485.4" fill="#87ceeb"/>
<polygon fill="#ff0000" points="130.7,1092.3 130.7,1094.3 131.3,1096.9 131.8,1098.4 132.4,1099.4 132.9,1100.3 133.5,1101.2 134,1102 134.6,1103 135.1,1103.9 135.7,1104.9 136.2,1105.9 136.8,1106.9 137.3,1107.8 137.9,1108.8 138.4,1109.7 139,1110.6 139.5,1111.6 140.1,1112.4 140.6,1113.3 141.2,1114.1 141.7,1114.9 142.3,1115.7 142.8,1116.5 143.4,1117.3 143.9,1118 144.5,1118.8 145,1119.5 145.6,1120.2 146.1,1120.9 146.7,1121.6 147.2,1122.2 147.8,1122.9 148.3,1123.5 148.9,1124.2 149.4,1124.8 150,1125.4 150.5,1126.1 151.1,1126.7 151.6,1127.3 152.2,1127.9 152.7,1128.5 153.8,1129.7 154.9,1130.8 156,1132 157.1,1133.1 158.2,1134.2 159.3,1135.4 160.4,1136.5 161.5,1137.6 162.6,1138.6 163.7,1139.7 164.8,1140.8 165.9,1141.8 167,1142.9 168.1,1143.9 169.2,1144.9 170.3,1145.9 171.4,1146.9 172.5,1147.9 173.6,1148.9 174.7,1149.9 175.8,1150.9 176.9,1151.8 178,1152.8 179.1,1153.7 180.2,1154.6 181.4,1155.6 182.5,1156.5 183.6,1157.4 184.7,1158.3 185.8,1159.2 186.9,1160 188,1160.9 189.1,1161.8 190.2,1162.6 191.3,1163.4 192.4,1164.3 193.5,1165.1 194.6,1165.9 195.7,1166.7 196.8,1167.5 197.9,1168.3 199,1169.1 200.1,1169.8 201.2,1170.6 202.3,1171.4 203.4,1172.1 204.5,1172.8 205.6,1173.6 206.7,1174.3 207.8,1175 208.9,1175.7 210,1176.4 211.1,1177.1 212.2,1177.8 213.3,1178.5 214.4,1179.1 215.5,1179.8 216.6,1180.5 217.7,1181.1 218.8,1181.8 219.9,1182.4 221,1183 222.1,1183.7 223.2,1184.3 224.3,1184.9 225.4,1185.5 226.5,1186.1 227.6,1186.7 228.7,1187.3 229.8,1187.9 230.9,1188.5 232,1189 233.1,1189.6 234.2,1190.2 235.3,1190.7 236.4,1191.3 237.5,1191.8 238.6,1192.4 239.7,1192.9 240.8,1193.4 241.9,1194 243,1194.5 244.1,1195 245.2,1195.5 246.3,1196 247.4,1196.6 248.5,1197.1 249.6,1197.6 250.7,1198.1 251.8,1198.6 252.9,1199 254,1199.5 255.1,1200 256.2,1200.5 257.3,1201 258.4,1201.4 259.5,1201.9 260.6,1202.4 261.7,1202.8 262.8,1203.3 263.9,1203.8 265,1204.2 266.1,1204.7 267.2,1205.1 268.3,1205.6 269.4,1206 270.5,1206.4 271.6,1206.9 272.7,1207.3 273.8,1207.8 274.9,1208.2 276,1208.6 277.1,1209 278.2,1209.5 279.3,1209.9 280.4,1210.3 281.6,1210.7 282.7,1211.1 283.8,1211.5 284.9,1212 286,1212.4 287.1,1212.8 288.2,1213.2 289.3,1213.6 290.4,1214 291.5,1214.4 292.6,1214.8 293.7,1215.2 294.8,1215.6 295.9,1216 297,1216.3 298.1,1216.7 299.2,1217.1 300.3,1217.5 301.4,1217.9 302.5,1218.3 303.6,1218.7 304.7,1219 305.8,1219.4 306.9,1219.8 308,1220.2 309.1,1220.5 310.2,1220.9 311.3,1221.3 312.4,1221.6 313.5,1222 314.6,1222.4 315.7,1222.8 316.8,1223.1 317.9,1223.5 319,1223.8 320.1,1224.2 321.2,1224.6 322.3,1224.9 323.4,1225.3 324.5,1225.6 325.6,1226 326.7,1226.4 327.8,1226.7 328.9,1227.1 330,1227.4 331.1,1227.8 332.2,1228.1 333.3,1228.5 334.4,1228.8 335.5,1229.2 336.6,1229.5 337.7,1229.9 338.8,1230.2 339.9,1230.6 341,1230.9 342.1,1231.2 343.2,1231.6 344.3,1231.9 345.4,1232.3 346.5,1232.6 347.6,1232.9 348.7,1233.3 349.8,1233.6 350.9,1234 356.4,1235.6 361.9,1237.3 367.4,1238.9 372.9,1240.6 378.4,1242.2 384,1243.8 389.5,1245.3 395,1246.9 400.5,1248.5 406,1250 411.5,1251.5 417,1253.1 422.5,1254.6 428,1256.1 433.5,1257.5 439,1259 444.5,1260.5 450,1261.9 455.5,1263.4 461,1264.8 466.5,1266.2 472,1267.6 477.5,1269 483.1,1270.4 488.6,1271.7 494.1,1273.1 499.6,1274.4 505.1,1275.7 510.6,1277.1 516.1,1278.4 521.6,1279.7 527.1,1280.9 532.6,1282.2 538.1,1283.5 543.6,1284.7 549.1,1285.9 554.6,1287.2 560.1,1288.4 565.6,1289.6 571.1,1290.7 576.6,1291.9 582.2,1293.1 587.7,1294.2 593.2,1295.4 598.7,1296.5 604.2,1297.6 609.7,1298.7 615.2,1299.8 620.7,1300.9 626.2,1301.9 631.7,1303 637.2,1304 642.7,1305.1 648.2,1306.1 653.7,1307.1 659.2,1308.1 664.7,1309.1 670.2,1310 675.7,1311 681.2,1312 686.8,1312.9 692.3,1313.8 697.8,1314.7 703.3,1315.6 708.8,1316.5 714.3,1317.4 719.8,1318.3 725.3,1319.2 730.8,1320 736.3,1320.9 741.8,1321.7 747.3,1322.5 752.8,1323.3 758.3,1324.1 763.8,1324.9 769.3,1325.7 774.8,1326.5 780.3,1327.2 785.9,1328 791.4,1328.7 796.9,1329.5 802.4,1330.2 807.9,1330.9 813.4,1331.6 818.9,1332.3 824.4,1333 829.9,1333.7 835.4,1334.4 840.9,1335 846.4,1335.7 851.9,1336.3 857.4,1336.9 862.9,1337.6 868.4,1338.2 873.9,1338.8 879.4,1339.4 885,1340 890.5,1340.6 896,1341.2 901.5,1341.7 907,1342.3 912.5,1342.9 918,1343.4 923.5,1343.9 929,1344.5 934.5,1345 940,1345.5 945.5,1346 951,1346.5 956.5,1347 962,1347.5 967.5,1348 973,1348.5 978.5,1349 984.1,1349.4 989.6,1349.9 995.1,1350.3 1000.6,1350.8 1006.1,1351.2 1011.6,1351.6 1017.1,1352.1 1022.6,1352.5 1028.1,1352.9 1033.6,1353.3 1039.1,1353.7 1044.6,1354.1 1050.1,1354.5 1055.6,1354.9 1061.1,1355.3 1066.6,1355.6 1072.1,1356 1077.6,1356.4 1083.2,1356.7 1088.7,1357.1 1094.2,1357.4 1099.7,1357.8 1105.2,1358.1 1110.7,1358.4 1116.2,1358.8 1121.7,1359.1 1127.2,1359.4 1132.7,1359.7 1138.2,1360 1143.7,1360.3 1149.2,1360.6 1154.7,1360.9 1160.2,1361.2 1165.7,1361.5 1171.2,1361.8 1176.7,1362 1182.3,1362.3 1187.8,1362.6 1193.3,1362.8 1198.8,1363.1 1204.3,1363.3 1209.8,1363.6 1215.3,1363.8 1220.8,1364.1 1226.3,1364.3 1231.8,1364.5 1231.8,1092.3"/>
<polygon fill="#ffff00" points="130.7,1092.3 130.7,1094.3 131.3,1094.3 131.8,1094.3 132.4,1094.3 132.9,1094.3 133.5,1094.3 134,1094.3 134.6,1094.3 135.1,1094.3 135.7,1094.3 136.2,1094.3 136.8,1094.3 137.3,1094.3 137.9,1094.3 138.4,1094.3 139,1094.3 139.5,1094.3 140.1,1094.3 140.6,1094.3 141.2,1094.3 141.7,1094.3 142.3,1094.3 142.8,1094.3 143.4,1094.3 143.9,1094.3 144.5,1094.3 145,1094.3 145.6,1094.3 146.1,1094.3 146.7,1094.5 147.2,1094.6 147.8,1094.7 148.3,1094.7 148.9,1094.8 149.4,1094.9 150,1095 150.5,1095.1 151.1,1095.1 151.6,1095.2 152.2,1095.3 152.7,1095.3 153.8,1095.5 154.9,1095.6 156,1095.7 157.1,1095.8 158.2,1095.9 159.3,1096 160.4,1096 161.5,1096.1 162.6,1096.2 163.7,1096.3 164.8,1096.4 165.9,1096.5 167,1096.6 168.1,1096.7 169.2,1096.8 170.3,1096.9 171.4,1097 172.5,1097.1 173.6,1097.2 174.7,1097.3 175.8,1097.4 176.9,1097.5 178,1097.6 179.1,1097.7 180.2,1097.8 181.4,1098 182.5,1098.1 183.6,1098.2 184.7,1098.3 185.8,1098.5 186.9,1098.6 188,1098.8 189.1,1098.9 190.2,1099 191.3,1099.2 192.4,1099.3 193.5,1099.5 194.6,1099.6 195.7,1099.8 196.8,1100 197.9,1100.1 199,1100.3 200.1,1100.4 201.2,1100.6 202.3,1100.8 203.4,1100.9 204.5,1101.1 205.6,1101.3 206.7,1101.5 207.8,1101.6 208.9,1101.8 210,1102 211.1,1102.2 212.2,1102.4 213.3,1102.5 214.4,1102.7 215.5,1102.9 216.6,1103.1 217.7,1103.3 218.8,1103.5 219.9,1103.6 221,1103.8 222.1,1104 223.2,1104.2 224.3,1104.4 225.4,1104.6 226.5,1104.8 227.6,1105 228.7,1105.2 229.8,1105.4 230.9,1105.5 232,1105.7 233.1,1105.9 234.2,1106.1 235.3,1106.3 236.4,1106.5 237.5,1106.7 238.6,1106.9 239.7,1107.1 240.8,1107.3 241.9,1107.5 243,1107.7 244.1,1107.9 245.2,1108.1 246.3,1108.3 247.4,1108.5 248.5,1108.7 249.6,1108.9 250.7,1109.1 251.8,1109.3 252.9,1109.5 254,1109.7 255.1,1109.9 256.2,1110.1 257.3,1110.3 258.4,1110.5 259.5,1110.7 260.6,1110.9 261.7,1111.1 262.8,1111.3 263.9,1111.5 265,1111.7 266.1,1111.9 267.2,1112.1 268.3,1112.3 269.4,1112.5 270.5,1112.7 271.6,1112.9 272.7,1113.1 273.8,1113.3 274.9,1113.5 276,1113.7 277.1,1113.9 278.2,1114.1 279.3,1114.3 280.4,1114.5 281.6,1114.7 282.7,1114.9 283.8,1115.1 284.9,1115.3 286,1115.5 287.1,1115.8 288.2,1116 289.3,1116.2 290.4,1116.4 291.5,1116.6 292.6,1116.8 293.7,1117 294.8,1117.2 295.9,1117.4 297,1117.6 298.1,1117.8 299.2,1118 300.3,1118.2 301.4,1118.4 302.5,1118.6 303.6,1118.8 304.7,1119 305.8,1119.2 306.9,1119.4 308,1119.6 309.1,1119.8 310.2,1120.1 311.3,1120.3 312.4,1120.5 313.5,1120.7 314.6,1120.9 315.7,1121.1 316.8,1121.3 317.9,1121.5 319,1121.7 320.1,1121.9 321.2,1122.1 322.3,1122.3 323.4,1122.5 324.5,1122.7 325.6,1122.9 326.7,1123.1 327.8,1123.3 328.9,1123.6 330,1123.8 331.1,1124 332.2,1124.2 333.3,1124.4 334.4,1124.6 335.5,1124.8 336.6,1125 337.7,1125.2 338.8,1125.4 339.9,1125.6 341,1125.8 342.1,1126 343.2,1126.2 344.3,1126.5 345.4,1126.7 346.5,1126.9 347.6,1127.1 348.7,1127.3 349.8,1127.5 350.9,1127.7 356.4,1128.7 361.9,1129.8 367.4,1130.8 372.9,1131.9 378.4,1132.9 384,1133.9 389.5,1135 395,1136 400.5,1137.1 406,1138.1 411.5,1139.1 417,1140.2 422.5,1141.2 428,1142.2 433.5,1143.3 439,1144.3 444.5,1145.3 450,1146.4 455.5,1147.4 461,1148.4 466.5,1149.4 472,1150.4 477.5,1151.4 483.1,1152.4 488.6,1153.4 494.1,1154.4 499.6,1155.4 505.1,1156.4 510.6,1157.3 516.1,1158.3 521.6,1159.3 527.1,1160.2 532.6,1161.2 538.1,1162.1 543.6,1163.1 549.1,1164 554.6,1164.9 560.1,1165.9 565.6,1166.8 571.1,1167.7 576.6,1168.6 582.2,1169.5 587.7,1170.4 593.2,1171.3 598.7,1172.1 604.2,1173 609.7,1173.9 615.2,1174.7 620.7,1175.6 626.2,1176.4 631.7,1177.2 637.2,1178.1 642.7,1178.9 648.2,1179.7 653.7,1180.5 659.2,1181.3 664.7,1182.1 670.2,1182.9 675.7,1183.6 681.2,1184.4 686.8,1185.2 692.3,1185.9 697.8,1186.7 703.3,1187.4 708.8,1188.1 714.3,1188.9 719.8,1189.6 725.3,1190.3 730.8,1191 736.3,1191.7 741.8,1192.4 747.3,1193.1 752.8,1193.7 758.3,1194.4 763.8,1195.1 769.3,1195.7 774.8,1196.4 780.3,1197 785.9,1197.6 791.4,1198.3 796.9,1198.9 802.4,1199.5 807.9,1200.1 813.4,1200.7 818.9,1201.3 824.4,1201.9 829.9,1202.5 835.4,1203 840.9,1203.6 846.4,1204.2 851.9,1204.7 857.4,1205.3 862.9,1205.8 868.4,1206.3 873.9,1206.9 879.4,1207.4 885,1207.9 890.5,1208.4 896,1208.9 901.5,1209.4 907,1209.9 912.5,1210.4 918,1210.9 923.5,1211.4 929,1211.8 934.5,1212.3 940,1212.8 945.5,1213.2 951,1213.7 956.5,1214.1 962,1214.5 967.5,1215 973,1215.4 978.5,1215.8 984.1,1216.2 989.6,1216.6 995.1,1217.1 1000.6,1217.5 1006.1,1217.9 1011.6,1218.2 1017.1,1218.6 1022.6,1219 1028.1,1219.4 1033.6,1219.8 1039.1,1220.1 1044.6,1220.5 1050.1,1220.9 1055.6,1221.2 1061.1,1221.6 1066.6,1221.9 1072.1,1222.2 1077.6,1222.6 1083.2,1222.9 1088.7,1223.2 1094.2,1223.6 1099.7,1223.9 1105.2,1224.2 1110.7,1224.5 1116.2,1224.8 1121.7,1225.1 1127.2,1225.4 1132.7,1225.7 1138.2,1226 1143.7,1226.3 1149.2,1226.6 1154.7,1226.8 1160.2,1227.1 1165.7,1227.4 1171.2,1227.7 1176.7,1227.9 1182.3,1228.2 1187.8,1228.4 1193.3,1228.7 1198.8,1229 1204.3,1229.2 1209.8,1229.4 1215.3,1229.7 1220.8,1229.9 1226.3,1230.2 1231.8,1230.4 1231.8,1092.3"/>
<polygon fill="#ffa500" points="130.7,1092.3 130.7,1094.3 131.3,1094.3 131.8,1094.3 132.4,1094.3 132.9,1094.3 133.5,1094.3 134,1094.3 134.6,1094.3 135.1,1094.3 135.7,1094.3 136.2,1094.3 136.8,1094.3 137.3,1094.3 137.9,1094.3 138.4,1094.3 139,1094.3 139.5,1094.3 140.1,1094.3 140.6,1094.3 141.2,1094.3 141.7,1094.3 142.3,1094.3 142.8,1094.3 143.4,1094.3 143.9,1094.3 144.5,1094.3 145,1094.3 145.6,1094.3 146.1,1094.3 146.7,1094.3 147.2,1094.3 147.8,1094.3 148.3,1094.3 148.9,1094.3 149.4,1094.3 150,1094.4 150.5,1094.4 151.1,1094.4 151.6,1094.4 152.2,1094.4 152.7,1094.4 153.8,1094.4 154.9,1094.4 156,1094.4 157.1,1094.4 158.2,1094.4 159.3,1094.4 160.4,1094.4 161.5,1094.4 162.6,1094.3 163.7,1094.3 164.8,1094.3 165.9,1094.3 167,1094.3 168.1,1094.3 169.2,1094.3 170.3,1094.3 171.4,1094.3 172.5,1094.3 173.6,1094.4 174.7,1094.4 175.8,1094.4 176.9,1094.4 178,1094.5 179.1,1094.5 180.2,1094.5 181.4,1094.6 182.5,1094.6 183.6,1094.7 184.7,1094.7 185.8,1094.8 186.9,1094.8 188,1094.9 189.1,1095 190.2,1095 191.3,1095.1 192.4,1095.2 193.5,1095.2 194.6,1095.3 195.7,1095.4 196.8,1095.5 197.9,1095.6 199,1095.6 200.1,1095.7 201.2,1095.8 202.3,1095.9 203.4,1096 204.5,1096.1 205.6,1096.2 206.7,1096.3 207.8,1096.4 208.9,1096.5 210,1096.6 211.1,1096.7 212.2,1096.8 213.3,1096.9 214.4,1097 215.5,1097.1 216.6,1097.2 217.7,1097.3 218.8,1097.4 219.9,1097.5 221,1097.6 222.1,1097.7 223.2,1097.8 224.3,1097.9 225.4,1098 226.5,1098.1 227.6,1098.2 228.7,1098.3 229.8,1098.4 230.9,1098.6 232,1098.7 233.1,1098.8 234.2,1098.9 235.3,1099 236.4,1099.1 237.5,1099.2 238.6,1099.3 239.7,1099.5 240.8,1099.6 241.9,1099.7 243,1099.8 244.1,1099.9 245.2,1100 246.3,1100.1 247.4,1100.2 248.5,1100.4 249.6,1100.5 250.7,1100.6 251.8,1100.7 252.9,1100.8 254,1100.9 255.1,1101.1 256.2,1101.2 257.3,1101.3 258.4,1101.4 259.5,1101.5 260.6,1101.6 261.7,1101.8 262.8,1101.9 263.9,1102 265,1102.1 266.1,1102.2 267.2,1102.3 268.3,1102.5 269.4,1102.6 270.5,1102.7 271.6,1102.8 272.7,1102.9 273.8,1103 274.9,1103.2 276,1103.3 277.1,1103.4 278.2,1103.5 279.3,1103.6 280.4,1103.7 281.6,1103.9 282.7,1104 283.8,1104.1 284.9,1104.2 286,1104.3 287.1,1104.5 288.2,1104.6 289.3,1104.7 290.4,1104.8 291.5,1104.9 292.6,1105.1 293.7,1105.2 294.8,1105.3 295.9,1105.4 297,1105.5 298.1,1105.7 299.2,1105.8 300.3,1105.9 301.4,1106 302.5,1106.1 303.6,1106.3 304.7,1106.4 305.8,1106.5 306.9,1106.6 308,1106.8 309.1,1106.9 310.2,1107 311.3,1107.1 312.4,1107.2 313.5,1107.4 314.6,1107.5 315.7,1107.6 316.8,1107.7 317.9,1107.9 319,1108 320.1,1108.1 321.2,1108.2 322.3,1108.4 323.4,1108.5 324.5,1108.6 325.6,1108.7 326.7,1108.9 327.8,1109 328.9,1109.1 330,1109.2 331.1,1109.4 332.2,1109.5 333.3,1109.6 334.4,1109.7 335.5,1109.9 336.6,1110 337.7,1110.1 338.8,1110.2 339.9,1110.4 341,1110.5 342.1,1110.6 343.2,1110.7 344.3,1110.9 345.4,1111 346.5,1111.1 347.6,1111.2 348.7,1111.4 349.8,1111.5 350.9,1111.6 356.4,1112.3 361.9,1112.9 367.4,1113.6 372.9,1114.2 378.4,1114.9 384,1115.5 389.5,1116.2 395,1116.8 400.5,1117.5 406,1118.1 411.5,1118.8 417,1119.5 422.5,1120.1 428,1120.8 433.5,1121.5 439,1122.1 444.5,1122.8 450,1123.5 455.5,1124.1 461,1124.8 466.5,1125.4 472,1126.1 477.5,1126.8 483.1,1127.4 488.6,1128.1 494.1,1128.7 499.6,1129.4 505.1,1130 510.6,1130.7 516.1,1131.3 521.6,1132 527.1,1132.6 532.6,1133.2 538.1,1133.9 543.6,1134.5 549.1,1135.1 554.6,1135.8 560.1,1136.4 565.6,1137 571.1,1137.6 576.6,1138.2 582.2,1138.8 587.7,1139.4 593.2,1140 598.7,1140.6 604.2,1141.2 609.7,1141.8 615.2,1142.3 620.7,1142.9 626.2,1143.5 631.7,1144.1 637.2,1144.6 642.7,1145.2 648.2,1145.7 653.7,1146.3 659.2,1146.8 664.7,1147.3 670.2,1147.9 675.7,1148.4 681.2,1148.9 686.8,1149.4 692.3,1150 697.8,1150.5 703.3,1151 708.8,1151.5 714.3,1152 719.8,1152.5 725.3,1152.9 730.8,1153.4 736.3,1153.9 741.8,1154.4 747.3,1154.8 752.8,1155.3 758.3,1155.7 763.8,1156.2 769.3,1156.6 774.8,1157.1 780.3,1157.5 785.9,1157.9 791.4,1158.4 796.9,1158.8 802.4,1159.2 807.9,1159.6 813.4,1160 818.9,1160.4 824.4,1160.8 829.9,1161.2 835.4,1161.6 840.9,1162 846.4,1162.4 851.9,1162.8 857.4,1163.1 862.9,1163.5 868.4,1163.9 873.9,1164.2 879.4,1164.6 885,1164.9 890.5,1165.3 896,1165.6 901.5,1166 907,1166.3 912.5,1166.6 918,1167 923.5,1167.3 929,1167.6 934.5,1167.9 940,1168.2 945.5,1168.5 951,1168.8 956.5,1169.1 962,1169.4 967.5,1169.7 973,1170 978.5,1170.3 984.1,1170.6 989.6,1170.9 995.1,1171.1 1000.6,1171.4 1006.1,1171.7 1011.6,1171.9 1017.1,1172.2 1022.6,1172.5 1028.1,1172.7 1033.6,1173 1039.1,1173.2 1044.6,1173.5 1050.1,1173.7 1055.6,1173.9 1061.1,1174.2 1066.6,1174.4 1072.1,1174.6 1077.6,1174.9 1083.2,1175.1 1088.7,1175.3 1094.2,1175.5 1099.7,1175.7 1105.2,1175.9 1110.7,1176.1 1116.2,1176.3 1121.7,1176.5 1127.2,1176.7 1132.7,1176.9 1138.2,1177.1 1143.7,1177.3 1149.2,1177.5 1154.7,1177.7 1160.2,1177.9 1165.7,1178.1 1171.2,1178.2 1176.7,1178.4 1182.3,1178.6 1187.8,1178.8 1193.3,1178.9 1198.8,1179.1 1204.3,1179.3 1209.8,1179.4 1215.3,1179.6 1220.8,1179.7 1226.3,1179.9 1231.8,1180 1231.8,1092.3"/>
<polygon fill="#00ff00" points="130.7,1092.3 130.7,1094.3 131.3,1094.3 131.8,1094.3 132.4,1094.3 132.9,1094.3 133.5,1094.3 134,1094.3 134.6,1094.3 135.1,1094.3 135.7,1094.3 136.2,1094.3 136.8,1094.3 137.3,1094.3 137.9,1094.3 138.4,1094.3 139,1094.3 139.5,1094.3 140.1,1094.3 140.6,1094.3 141.2,1094.3 141.7,1094.3 142.3,1094.3 142.8,1094.3 143.4,1094.3 143.9,1094.3 144.5,1094.3 145,1094.3 145.6,1094.3 146.1,1094.3 146.7,1094.3 147.2,1094.3 147.8,1094.3 148.3,1094.3 148.9,1094.3 149.4,1094.3 150,1094.4 150.5,1094.4 151.1,1094.4 151.6,1094.4 152.2,1094.4 152.7,1094.4 153.8,1094.3 154.9,1094.3 156,1094.3 157.1,1094.3 158.2,1094.3 159.3,1094.3 160.4,1094.3 161.5,1094.3 162.6,1094.3 163.7,1094.3 164.8,1094.3 165.9,1094.3 167,1094.3 168.1,1094.3 169.2,1094.3 170.3,1094.3 171.4,1094.3 172.5,1094.3 173.6,1094.3 174.7,1094.3 175.8,1094.3 176.9,1094.3 178,1094.3 179.1,1094.3 180.2,1094.3 181.4,1094.3 182.5,1094.3 183.6,1094.4 184.7,1094.4 185.8,1094.4 186.9,1094.5 188,1094.5 189.1,1094.6 190.2,1094.6 191.3,1094.7 192.4,1094.7 193.5,1094.8 194.6,1094.9 195.7,1094.9 196.8,1095 197.9,1095 199,1095.1 200.1,1095.2 201.2,1095.2 202.3,1095.3 203.4,1095.4 204.5,1095.4 205.6,1095.5 206.7,1095.6 207.8,1095.7 208.9,1095.7 210,1095.8 211.1,1095.9 212.2,1096 213.3,1096.1 214.4,1096.1 215.5,1096.2 216.6,1096.3 217.7,1096.4 218.8,1096.5 219.9,1096.6 221,1096.7 222.1,1096.7 223.2,1096.8 224.3,1096.9 225.4,1097 226.5,1097.1 227.6,1097.2 228.7,1097.3 229.8,1097.4 230.9,1097.5 232,1097.6 233.1,1097.7 234.2,1097.8 235.3,1097.9 236.4,1097.9 237.5,1098 238.6,1098.1 239.7,1098.2 240.8,1098.3 241.9,1098.4 243,1098.5 244.1,1098.6 245.2,1098.7 246.3,1098.8 247.4,1098.9 248.5,1099 249.6,1099.1 250.7,1099.2 251.8,1099.3 252.9,1099.5 254,1099.6 255.1,1099.7 256.2,1099.8 257.3,1099.9 258.4,1100 259.5,1100.1 260.6,1100.2 261.7,1100.3 262.8,1100.4 263.9,1100.5 265,1100.6 266.1,1100.7 267.2,1100.8 268.3,1100.9 269.4,1101 270.5,1101.2 271.6,1101.3 272.7,1101.4 273.8,1101.5 274.9,1101.6 276,1101.7 277.1,1101.8 278.2,1101.9 279.3,1102 280.4,1102.2 281.6,1102.3 282.7,1102.4 283.8,1102.5 284.9,1102.6 286,1102.7 287.1,1102.8 288.2,1103 289.3,1103.1 290.4,1103.2 291.5,1103.3 292.6,1103.4 293.7,1103.5 294.8,1103.6 295.9,1103.8 297,1103.9 298.1,1104 299.2,1104.1 300.3,1104.2 301.4,1104.4 302.5,1104.5 303.6,1104.6 304.7,1104.7 305.8,1104.8 306.9,1104.9 308,1105.1 309.1,1105.2 310.2,1105.3 311.3,1105.4 312.4,1105.5 313.5,1105.7 314.6,1105.8 315.7,1105.9 316.8,1106 317.9,1106.2 319,1106.3 320.1,1106.4 321.2,1106.5 322.3,1106.6 323.4,1106.8 324.5,1106.9 325.6,1107 326.7,1107.1 327.8,1107.3 328.9,1107.4 330,1107.5 331.1,1107.6 332.2,1107.8 333.3,1107.9 334.4,1108 335.5,1108.1 336.6,1108.3 337.7,1108.4 338.8,1108.5 339.9,1108.6 341,1108.8 342.1,1108.9 343.2,1109 344.3,1109.1 345.4,1109.3 346.5,1109.4 347.6,1109.5 348.7,1109.6 349.8,1109.8 350.9,1109.9 356.4,1110.5 361.9,1111.2 367.4,1111.8 372.9,1112.5 378.4,1113.1 384,1113.8 389.5,1114.4 395,1115.1 400.5,1115.7 406,1116.4 411.5,1117 417,1117.7 422.5,1118.4 428,1119 433.5,1119.7 439,1120.3 444.5,1121 450,1121.6 455.5,1122.3 461,1122.9 466.5,1123.6 472,1124.2 477.5,1124.9 483.1,1125.5 488.6,1126.1 494.1,1126.8 499.6,1127.4 505.1,1128 510.6,1128.6 516.1,1129.3 521.6,1129.9 527.1,1130.5 532.6,1131.1 538.1,1131.7 543.6,1132.3 549.1,1132.9 554.6,1133.5 560.1,1134.1 565.6,1134.6 571.1,1135.2 576.6,1135.8 582.2,1136.4 587.7,1136.9 593.2,1137.5 598.7,1138 604.2,1138.6 609.7,1139.1 615.2,1139.7 620.7,1140.2 626.2,1140.8 631.7,1141.3 637.2,1141.8 642.7,1142.3 648.2,1142.8 653.7,1143.3 659.2,1143.8 664.7,1144.3 670.2,1144.8 675.7,1145.3 681.2,1145.8 686.8,1146.3 692.3,1146.8 697.8,1147.2 703.3,1147.7 708.8,1148.2 714.3,1148.6 719.8,1149.1 725.3,1149.5 730.8,1150 736.3,1150.4 741.8,1150.8 747.3,1151.3 752.8,1151.7 758.3,1152.1 763.8,1152.5 769.3,1152.9 774.8,1153.3 780.3,1153.7 785.9,1154.1 791.4,1154.5 796.9,1154.9 802.4,1155.3 807.9,1155.7 813.4,1156 818.9,1156.4 824.4,1156.8 829.9,1157.2 835.4,1157.5 840.9,1157.9 846.4,1158.2 851.9,1158.6 857.4,1158.9 862.9,1159.2 868.4,1159.6 873.9,1159.9 879.4,1160.2 885,1160.6 890.5,1160.9 896,1161.2 901.5,1161.5 907,1161.8 912.5,1162.1 918,1162.4 923.5,1162.7 929,1163 934.5,1163.3 940,1163.6 945.5,1163.9 951,1164.2 956.5,1164.5 962,1164.7 967.5,1165 973,1165.3 978.5,1165.5 984.1,1165.8 989.6,1166.1 995.1,1166.3 1000.6,1166.6 1006.1,1166.8 1011.6,1167.1 1017.1,1167.3 1022.6,1167.6 1028.1,1167.8 1033.6,1168 1039.1,1168.3 1044.6,1168.5 1050.1,1168.7 1055.6,1168.9 1061.1,1169.2 1066.6,1169.4 1072.1,1169.6 1077.6,1169.8 1083.2,1170 1088.7,1170.2 1094.2,1170.4 1099.7,1170.7 1105.2,1170.9 1110.7,1171.1 1116.2,1171.2 1121.7,1171.4 1127.2,1171.6 1132.7,1171.8 1138.2,1172 1143.7,1172.2 1149.2,1172.4 1154.7,1172.6 1160.2,1172.7 1165.7,1172.9 1171.2,1173.1 1176.7,1173.3 1182.3,1173.4 1187.8,1173.6 1193.3,1173.8 1198.8,1173.9 1204.3,1174.1 1209.8,1174.2 1215.3,1174.4 1220.8,1174.5 1226.3,1174.7 1231.8,1174.9 1231.8,1092.3"/>
<polyline fill="none" stroke="#000" stroke-width="3.4" stroke-linejoin="round" points="130.7,1094.3 131.3,1096.9 131.8,1098.4 132.4,1099.4 132.9,1100.3 133.5,1101.2 134,1102 134.6,1103 135.1,1103.9 135.7,1104.9 136.2,1105.9 136.8,1106.9 137.3,1107.8 137.9,1108.8 138.4,1109.7 139,1110.6 139.5,1111.6 140.1,1112.4 140.6,1113.3 141.2,1114.1 141.7,1114.9 142.3,1115.7 142.8,1116.5 143.4,1117.3 143.9,1118 144.5,1118.8 145,1119.5 145.6,1120.2 146.1,1120.9 146.7,1121.6 147.2,1122.2 147.8,1122.9 148.3,1123.5 148.9,1124.2 149.4,1124.8 150,1125.4 150.5,1126.1 151.1,1126.7 151.6,1127.3 152.2,1127.9 152.7,1128.5 153.8,1129.7 154.9,1130.8 156,1132 157.1,1133.1 158.2,1134.2 159.3,1135.4 160.4,1136.5 161.5,1137.6 162.6,1138.6 163.7,1139.7 164.8,1140.8 165.9,1141.8 167,1142.9 168.1,1143.9 169.2,1144.9 170.3,1145.9 171.4,1146.9 172.5,1147.9 173.6,1148.9 174.7,1149.9 175.8,1150.9 176.9,1151.8 178,1152.8 179.1,1153.7 180.2,1154.6 181.4,1155.6 182.5,1156.5 183.6,1157.4 184.7,1158.3 185.8,1159.2 186.9,1160 188,1160.9 189.1,1161.8 190.2,1162.6 191.3,1163.4 192.4,1164.3 193.5,1165.1 194.6,1165.9 195.7,1166.7 196.8,1167.5 197.9,1168.3 199,1169.1 200.1,1169.8 201.2,1170.6 202.3,1171.4 203.4,1172.1 204.5,1172.8 205.6,1173.6 206.7,1174.3 207.8,1175 208.9,1175.7 210,1176.4 211.1,1177.1 212.2,1177.8 213.3,1178.5 214.4,1179.1 215.5,1179.8 216.6,1180.5 217.7,1181.1 218.8,1181.8 219.9,1182.4 221,1183 222.1,1183.7 223.2,1184.3 224.3,1184.9 225.4,1185.5 226.5,1186.1 227.6,1186.7 228.7,1187.3 229.8,1187.9 230.9,1188.5 232,1189 233.1,1189.6 234.2,1190.2 235.3,1190.7 236.4,1191.3 237.5,1191.8 238.6,1192.4 239.7,1192.9 240.8,1193.4 241.9,1194 243,1194.5 244.1,1195 245.2,1195.5 246.3,1196 247.4,1196.6 248.5,1197.1 249.6,1197.6 250.7,1198.1 251.8,1198.6 252.9,1199 254,1199.5 255.1,1200 256.2,1200.5 257.3,1201 258.4,1201.4 259.5,1201.9 260.6,1202.4 261.7,1202.8 262.8,1203.3 263.9,1203.8 265,1204.2 266.1,1204.7 267.2,1205.1 268.3,1205.6 269.4,1206 270.5,1206.4 271.6,1206.9 272.7,1207.3 273.8,1207.8 274.9,1208.2 276,1208.6 277.1,1209 278.2,1209.5 279.3,1209.9 280.4,1210.3 281.6,1210.7 282.7,1211.1 283.8,1211.5 284.9,1212 286,1212.4 287.1,1212.8 288.2,1213.2 289.3,1213.6 290.4,1214 291.5,1214.4 292.6,1214.8 293.7,1215.2 294.8,1215.6 295.9,1216 297,1216.3 298.1,1216.7 299.2,1217.1 300.3,1217.5 301.4,1217.9 302.5,1218.3 303.6,1218.7 304.7,1219 305.8,1219.4 306.9,1219.8 308,1220.2 309.1,1220.5 310.2,1220.9 311.3,1221.3 312.4,1221.6 313.5,1222 314.6,1222.4 315.7,1222.8 316.8,1223.1 317.9,1223.5 319,1223.8 320.1,1224.2 321.2,1224.6 322.3,1224.9 323.4,1225.3 324.5,1225.6 325.6,1226 326.7,1226.4 327.8,1226.7 328.9,1227.1 330,1227.4 331.1,1227.8 332.2,1228.1 333.3,1228.5 334.4,1228.8 335.5,1229.2 336.6,1229.5 337.7,1229.9 338.8,1230.2 339.9,1230.6 341,1230.9 342.1,1231.2 343.2,1231.6 344.3,1231.9 345.4,1232.3 346.5,1232.6 347.6,1232.9 348.7,1233.3 349.8,1233.6 350.9,1234 356.4,1235.6 361.9,1237.3 367.4,1238.9 372.9,1240.6 378.4,1242.2 384,1243.8 389.5,1245.3 395,1246.9 400.5,1248.5 406,1250 411.5,1251.5 417,1253.1 422.5,1254.6 428,1256.1 433.5,1257.5 439,1259 444.5,1260.5 450,1261.9 455.5,1263.4 461,1264.8 466.5,1266.2 472,1267.6 477.5,1269 483.1,1270.4 488.6,1271.7 494.1,1273.1 499.6,1274.4 505.1,1275.7 510.6,1277.1 516.1,1278.4 521.6,1279.7 527.1,1280.9 532.6,1282.2 538.1,1283.5 543.6,1284.7 549.1,1285.9 554.6,1287.2 560.1,1288.4 565.6,1289.6 571.1,1290.7 576.6,1291.9 582.2,1293.1 587.7,1294.2 593.2,1295.4 598.7,1296.5 604.2,1297.6 609.7,1298.7 615.2,1299.8 620.7,1300.9 626.2,1301.9 631.7,1303 637.2,1304 642.7,1305.1 648.2,1306.1 653.7,1307.1 659.2,1308.1 664.7,1309.1 670.2,1310 675.7,1311 681.2,1312 686.8,1312.9 692.3,1313.8 697.8,1314.7 703.3,1315.6 708.8,1316.5 714.3,1317.4 719.8,1318.3 725.3,1319.2 730.8,1320 736.3,1320.9 741.8,1321.7 747.3,1322.5 752.8,1323.3 758.3,1324.1 763.8,1324.9 769.3,1325.7 774.8,1326.5 780.3,1327.2 785.9,1328 791.4,1328.7 796.9,1329.5 802.4,1330.2 807.9,1330.9 813.4,1331.6 818.9,1332.3 824.4,1333 829.9,1333.7 835.4,1334.4 840.9,1335 846.4,1335.7 851.9,1336.3 857.4,1336.9 862.9,1337.6 868.4,1338.2 873.9,1338.8 879.4,1339.4 885,1340 890.5,1340.6 896,1341.2 901.5,1341.7 907,1342.3 912.5,1342.9 918,1343.4 923.5,1343.9 929,1344.5 934.5,1345 940,1345.5 945.5,1346 951,1346.5 956.5,1347 962,1347.5 967.5,1348 973,1348.5 978.5,1349 984.1,1349.4 989.6,1349.9 995.1,1350.3 1000.6,1350.8 1006.1,1351.2 1011.6,1351.6 1017.1,1352.1 1022.6,1352.5 1028.1,1352.9 1033.6,1353.3 1039.1,1353.7 1044.6,1354.1 1050.1,1354.5 1055.6,1354.9 1061.1,1355.3 1066.6,1355.6 1072.1,1356 1077.6,1356.4 1083.2,1356.7 1088.7,1357.1 1094.2,1357.4 1099.7,1357.8 1105.2,1358.1 1110.7,1358.4 1116.2,1358.8 1121.7,1359.1 1127.2,1359.4 1132.7,1359.7 1138.2,1360 1143.7,1360.3 1149.2,1360.6 1154.7,1360.9 1160.2,1361.2 1165.7,1361.5 1171.2,1361.8 1176.7,1362 1182.3,1362.3 1187.8,1362.6 1193.3,1362.8 1198.8,1363.1 1204.3,1363.3 1209.8,1363.6 1215.3,1363.8 1220.8,1364.1 1226.3,1364.3 1231.8,1364.5"/>
<polyline fill="none" stroke="#000" stroke-width="3.4" stroke-linejoin="round" points="130.7,1094.3 131.3,1094.3 131.8,1094.3 132.4,1094.3 132.9,1094.3 133.5,1094.3 134,1094.3 134.6,1094.3 135.1,1094.3 135.7,1094.3 136.2,1094.3 136.8,1094.3 137.3,1094.3 137.9,1094.3 138.4,1094.3 139,1094.3 139.5,1094.3 140.1,1094.3 140.6,1094.3 141.2,1094.3 141.7,1094.3 142.3,1094.3 142.8,1094.3 143.4,1094.3 143.9,1094.3 144.5,1094.3 145,1094.3 145.6,1094.3 146.1,1094.3 146.7,1094.5 147.2,1094.6 147.8,1094.7 148.3,1094.7 148.9,1094.8 149.4,1094.9 150,1095 150.5,1095.1 151.1,1095.1 151.6,1095.2 152.2,1095.3 152.7,1095.3 153.8,1095.5 154.9,1095.6 156,1095.7 157.1,1095.8 158.2,1095.9 159.3,1096 160.4,1096 161.5,1096.1 162.6,1096.2 163.7,1096.3 164.8,1096.4 165.9,1096.5 167,1096.6 168.1,1096.7 169.2,1096.8 170.3,1096.9 171.4,1097 172.5,1097.1 173.6,1097.2 174.7,1097.3 175.8,1097.4 176.9,1097.5 178,1097.6 179.1,1097.7 180.2,1097.8 181.4,1098 182.5,1098.1 183.6,1098.2 184.7,1098.3 185.8,1098.5 186.9,1098.6 188,1098.8 189.1,1098.9 190.2,1099 191.3,1099.2 192.4,1099.3 193.5,1099.5 194.6,1099.6 195.7,1099.8 196.8,1100 197.9,1100.1 199,1100.3 200.1,1100.4 201.2,1100.6 202.3,1100.8 203.4,1100.9 204.5,1101.1 205.6,1101.3 206.7,1101.5 207.8,1101.6 208.9,1101.8 210,1102 211.1,1102.2 212.2,1102.4 213.3,1102.5 214.4,1102.7 215.5,1102.9 216.6,1103.1 217.7,1103.3 218.8,1103.5 219.9,1103.6 221,1103.8 222.1,1104 223.2,1104.2 224.3,1104.4 225.4,1104.6 226.5,1104.8 227.6,1105 228.7,1105.2 229.8,1105.4 230.9,1105.5 232,1105.7 233.1,1105.9 234.2,1106.1 235.3,1106.3 236.4,1106.5 237.5,1106.7 238.6,1106.9 239.7,1107.1 240.8,1107.3 241.9,1107.5 243,1107.7 244.1,1107.9 245.2,1108.1 246.3,1108.3 247.4,1108.5 248.5,1108.7 249.6,1108.9 250.7,1109.1 251.8,1109.3 252.9,1109.5 254,1109.7 255.1,1109.9 256.2,1110.1 257.3,1110.3 258.4,1110.5 259.5,1110.7 260.6,1110.9 261.7,1111.1 262.8,1111.3 263.9,1111.5 265,1111.7 266.1,1111.9 267.2,1112.1 268.3,1112.3 269.4,1112.5 270.5,1112.7 271.6,1112.9 272.7,1113.1 273.8,1113.3 274.9,1113.5 276,1113.7 277.1,1113.9 278.2,1114.1 279.3,1114.3 280.4,1114.5 281.6,1114.7 282.7,1114.9 283.8,1115.1 284.9,1115.3 286,1115.5 287.1,1115.8 288.2,1116 289.3,1116.2 290.4,1116.4 291.5,1116.6 292.6,1116.8 293.7,1117 294.8,1117.2 295.9,1117.4 297,1117.6 298.1,1117.8 299.2,1118 300.3,1118.2 301.4,1118.4 302.5,1118.6 303.6,1118.8 304.7,1119 305.8,1119.2 306.9,1119.4 308,1119.6 309.1,1119.8 310.2,1120.1 311.3,1120.3 312.4,1120.5 313.5,1120.7 314.6,1120.9 315.7,1121.1 316.8,1121.3 317.9,1121.5 319,1121.7 320.1,1121.9 321.2,1122.1 322.3,1122.3 323.4,1122.5 324.5,1122.7 325.6,1122.9 326.7,1123.1 327.8,1123.3 328.9,1123.6 330,1123.8 331.1,1124 332.2,1124.2 333.3,1124.4 334.4,1124.6 335.5,1124.8 336.6,1125 337.7,1125.2 338.8,1125.4 339.9,1125.6 341,1125.8 342.1,1126 343.2,1126.2 344.3,1126.5 345.4,1126.7 346.5,1126.9 347.6,1127.1 348.7,1127.3 349.8,1127.5 350.9,1127.7 356.4,1128.7 361.9,1129.8 367.4,1130.8 372.9,1131.9 378.4,1132.9 384,1133.9 389.5,1135 395,1136 400.5,1137.1 406,1138.1 411.5,1139.1 417,1140.2 422.5,1141.2 428,1142.2 433.5,1143.3 439,1144.3 444.5,1145.3 450,1146.4 455.5,1147.4 461,1148.4 466.5,1149.4 472,1150.4 477.5,1151.4 483.1,1152.4 488.6,1153.4 494.1,1154.4 499.6,1155.4 505.1,1156.4 510.6,1157.3 516.1,1158.3 521.6,1159.3 527.1,1160.2 532.6,1161.2 538.1,1162.1 543.6,1163.1 549.1,1164 554.6,1164.9 560.1,1165.9 565.6,1166.8 571.1,1167.7 576.6,1168.6 582.2,1169.5 587.7,1170.4 593.2,1171.3 598.7,1172.1 604.2,1173 609.7,1173.9 615.2,1174.7 620.7,1175.6 626.2,1176.4 631.7,1177.2 637.2,1178.1 642.7,1178.9 648.2,1179.7 653.7,1180.5 659.2,1181.3 664.7,1182.1 670.2,1182.9 675.7,1183.6 681.2,1184.4 686.8,1185.2 692.3,1185.9 697.8,1186.7 703.3,1187.4 708.8,1188.1 714.3,1188.9 719.8,1189.6 725.3,1190.3 730.8,1191 736.3,1191.7 741.8,1192.4 747.3,1193.1 752.8,1193.7 758.3,1194.4 763.8,1195.1 769.3,1195.7 774.8,1196.4 780.3,1197 785.9,1197.6 791.4,1198.3 796.9,1198.9 802.4,1199.5 807.9,1200.1 813.4,1200.7 818.9,1201.3 824.4,1201.9 829.9,1202.5 835.4,1203 840.9,1203.6 846.4,1204.2 851.9,1204.7 857.4,1205.3 862.9,1205.8 868.4,1206.3 873.9,1206.9 879.4,1207.4 885,1207.9 890.5,1208.4 896,1208.9 901.5,1209.4 907,1209.9 912.5,1210.4 918,1210.9 923.5,1211.4 929,1211.8 934.5,1212.3 940,1212.8 945.5,1213.2 951,1213.7 956.5,1214.1 962,1214.5 967.5,1215 973,1215.4 978.5,1215.8 984.1,1216.2 989.6,1216.6 995.1,1217.1 1000.6,1217.5 1006.1,1217.9 1011.6,1218.2 1017.1,1218.6 1022.6,1219 1028.1,1219.4 1033.6,1219.8 1039.1,1220.1 1044.6,1220.5 1050.1,1220.9 1055.6,1221.2 1061.1,1221.6 1066.6,1221.9 1072.1,1222.2 1077.6,1222.6 1083.2,1222.9 1088.7,1223.2 1094.2,1223.6 1099.7,1223.9 1105.2,1224.2 1110.7,1224.5 1116.2,1224.8 1121.7,1225.1 1127.2,1225.4 1132.7,1225.7 1138.2,1226 1143.7,1226.3 1149.2,1226.6 1154.7,1226.8 1160.2,1227.1 1165.7,1227.4 1171.2,1227.7 1176.7,1227.9 1182.3,1228.2 1187.8,1228.4 1193.3,1228.7 1198.8,1229 1204.3,1229.2 1209.8,1229.4 1215.3,1229.7 1220.8,1229.9 1226.3,1230.2 1231.8,1230.4"/>
<polyline fill="none" stroke="#000" stroke-width="3.4" stroke-linejoin="round" points="130.7,1094.3 131.3,1094.3 131.8,1094.3 132.4,1094.3 132.9,1094.3 133.5,1094.3 134,1094.3 134.6,1094.3 135.1,1094.3 135.7,1094.3 136.2,1094.3 136.8,1094.3 137.3,1094.3 137.9,1094.3 138.4,1094.3 139,1094.3 139.5,1094.3 140.1,1094.3 140.6,1094.3 141.2,1094.3 141.7,1094.3 142.3,1094.3 142.8,1094.3 143.4,1094.3 143.9,1094.3 144.5,1094.3 145,1094.3 145.6,1094.3 146.1,1094.3 146.7,1094.3 147.2,1094.3 147.8,1094.3 148.3,1094.3 148.9,1094.3 149.4,1094.3 150,1094.4 150.5,1094.4 151.1,1094.4 151.6,1094.4 152.2,1094.4 152.7,1094.4 153.8,1094.4 154.9,1094.4 156,1094.4 157.1,1094.4 158.2,1094.4 159.3,1094.4 160.4,1094.4 161.5,1094.4 162.6,1094.3 163.7,1094.3 164.8,1094.3 165.9,1094.3 167,1094.3 168.1,1094.3 169.2,1094.3 170.3,1094.3 171.4,1094.3 172.5,1094.3 173.6,1094.4 174.7,1094.4 175.8,1094.4 176.9,1094.4 178,1094.5 179.1,1094.5 180.2,1094.5 181.4,1094.6 182.5,1094.6 183.6,1094.7 184.7,1094.7 185.8,1094.8 186.9,1094.8 188,1094.9 189.1,1095 190.2,1095 191.3,1095.1 192.4,1095.2 193.5,1095.2 194.6,1095.3 195.7,1095.4 196.8,1095.5 197.9,1095.6 199,1095.6 200.1,1095.7 201.2,1095.8 202.3,1095.9 203.4,1096 204.5,1096.1 205.6,1096.2 206.7,1096.3 207.8,1096.4 208.9,1096.5 210,1096.6 211.1,1096.7 212.2,1096.8 213.3,1096.9 214.4,1097 215.5,1097.1 216.6,1097.2 217.7,1097.3 218.8,1097.4 219.9,1097.5 221,1097.6 222.1,1097.7 223.2,1097.8 224.3,1097.9 225.4,1098 226.5,1098.1 227.6,1098.2 228.7,1098.3 229.8,1098.4 230.9,1098.6 232,1098.7 233.1,1098.8 234.2,1098.9 235.3,1099 236.4,1099.1 237.5,1099.2 238.6,1099.3 239.7,1099.5 240.8,1099.6 241.9,1099.7 243,1099.8 244.1,1099.9 245.2,1100 246.3,1100.1 247.4,1100.2 248.5,1100.4 249.6,1100.5 250.7,1100.6 251.8,1100.7 252.9,1100.8 254,1100.9 255.1,1101.1 256.2,1101.2 257.3,1101.3 258.4,1101.4 259.5,1101.5 260.6,1101.6 261.7,1101.8 262.8,1101.9 263.9,1102 265,1102.1 266.1,1102.2 267.2,1102.3 268.3,1102.5 269.4,1102.6 270.5,1102.7 271.6,1102.8 272.7,1102.9 273.8,1103 274.9,1103.2 276,1103.3 277.1,1103.4 278.2,1103.5 279.3,1103.6 280.4,1103.7 281.6,1103.9 282.7,1104 283.8,1104.1 284.9,1104.2 286,1104.3 287.1,1104.5 288.2,1104.6 289.3,1104.7 290.4,1104.8 291.5,1104.9 292.6,1105.1 293.7,1105.2 294.8,1105.3 295.9,1105.4 297,1105.5 298.1,1105.7 299.2,1105.8 300.3,1105.9 301.4,1106 302.5,1106.1 303.6,1106.3 304.7,1106.4 305.8,1106.5 306.9,1106.6 308,1106.8 309.1,1106.9 310.2,1107 311.3,1107.1 312.4,1107.2 313.5,1107.4 314.6,1107.5 315.7,1107.6 316.8,1107.7 317.9,1107.9 319,1108 320.1,1108.1 321.2,1108.2 322.3,1108.4 323.4,1108.5 324.5,1108.6 325.6,1108.7 326.7,1108.9 327.8,1109 328.9,1109.1 330,1109.2 331.1,1109.4 332.2,1109.5 333.3,1109.6 334.4,1109.7 335.5,1109.9 336.6,1110 337.7,1110.1 338.8,1110.2 339.9,1110.4 341,1110.5 342.1,1110.6 343.2,1110.7 344.3,1110.9 345.4,1111 346.5,1111.1 347.6,1111.2 348.7,1111.4 349.8,1111.5 350.9,1111.6 356.4,1112.3 361.9,1112.9 367.4,1113.6 372.9,1114.2 378.4,1114.9 384,1115.5 389.5,1116.2 395,1116.8 400.5,1117.5 406,1118.1 411.5,1118.8 417,1119.5 422.5,1120.1 428,1120.8 433.5,1121.5 439,1122.1 444.5,1122.8 450,1123.5 455.5,1124.1 461,1124.8 466.5,1125.4 472,1126.1 477.5,1126.8 483.1,1127.4 488.6,1128.1 494.1,1128.7 499.6,1129.4 505.1,1130 510.6,1130.7 516.1,1131.3 521.6,1132 527.1,1132.6 532.6,1133.2 538.1,1133.9 543.6,1134.5 549.1,1135.1 554.6,1135.8 560.1,1136.4 565.6,1137 571.1,1137.6 576.6,1138.2 582.2,1138.8 587.7,1139.4 593.2,1140 598.7,1140.6 604.2,1141.2 609.7,1141.8 615.2,1142.3 620.7,1142.9 626.2,1143.5 631.7,1144.1 637.2,1144.6 642.7,1145.2 648.2,1145.7 653.7,1146.3 659.2,1146.8 664.7,1147.3 670.2,1147.9 675.7,1148.4 681.2,1148.9 686.8,1149.4 692.3,1150 697.8,1150.5 703.3,1151 708.8,1151.5 714.3,1152 719.8,1152.5 725.3,1152.9 730.8,1153.4 736.3,1153.9 741.8,1154.4 747.3,1154.8 752.8,1155.3 758.3,1155.7 763.8,1156.2 769.3,1156.6 774.8,1157.1 780.3,1157.5 785.9,1157.9 791.4,1158.4 796.9,1158.8 802.4,1159.2 807.9,1159.6 813.4,1160 818.9,1160.4 824.4,1160.8 829.9,1161.2 835.4,1161.6 840.9,1162 846.4,1162.4 851.9,1162.8 857.4,1163.1 862.9,1163.5 868.4,1163.9 873.9,1164.2 879.4,1164.6 885,1164.9 890.5,1165.3 896,1165.6 901.5,1166 907,1166.3 912.5,1166.6 918,1167 923.5,1167.3 929,1167.6 934.5,1167.9 940,1168.2 945.5,1168.5 951,1168.8 956.5,1169.1 962,1169.4 967.5,1169.7 973,1170 978.5,1170.3 984.1,1170.6 989.6,1170.9 995.1,1171.1 1000.6,1171.4 1006.1,1171.7 1011.6,1171.9 1017.1,1172.2 1022.6,1172.5 1028.1,1172.7 1033.6,1173 1039.1,1173.2 1044.6,1173.5 1050.1,1173.7 1055.6,1173.9 1061.1,1174.2 1066.6,1174.4 1072.1,1174.6 1077.6,1174.9 1083.2,1175.1 1088.7,1175.3 1094.2,1175.5 1099.7,1175.7 1105.2,1175.9 1110.7,1176.1 1116.2,1176.3 1121.7,1176.5 1127.2,1176.7 1132.7,1176.9 1138.2,1177.1 1143.7,1177.3 1149.2,1177.5 1154.7,1177.7 1160.2,1177.9 1165.7,1178.1 1171.2,1178.2 1176.7,1178.4 1182.3,1178.6 1187.8,1178.8 1193.3,1178.9 1198.8,1179.1 1204.3,1179.3 1209.8,1179.4 1215.3,1179.6 1220.8,1179.7 1226.3,1179.9 1231.8,1180"/>
<polyline fill="none" stroke="#000" stroke-width="3.4" stroke-linejoin="round" points="130.7,1094.3 131.3,1094.3 131.8,1094.3 132.4,1094.3 132.9,1094.3 133.5,1094.3 134,1094.3 134.6,1094.3 135.1,1094.3 135.7,1094.3 136.2,1094.3 136.8,1094.3 137.3,1094.3 137.9,1094.3 138.4,1094.3 139,1094.3 139.5,1094.3 140.1,1094.3 140.6,1094.3 141.2,1094.3 141.7,1094.3 142.3,1094.3 142.8,1094.3 143.4,1094.3 143.9,1094.3 144.5,1094.3 145,1094.3 145.6,1094.3 146.1,1094.3 146.7,1094.3 147.2,1094.3 147.8,1094.3 148.3,1094.3 148.9,1094.3 149.4,1094.3 150,1094.4 150.5,1094.4 151.1,1094.4 151.6,1094.4 152.2,1094.4 152.7,1094.4 153.8,1094.3 154.9,1094.3 156,1094.3 157.1,1094.3 158.2,1094.3 159.3,1094.3 160.4,1094.3 161.5,1094.3 162.6,1094.3 163.7,1094.3 164.8,1094.3 165.9,1094.3 167,1094.3 168.1,1094.3 169.2,1094.3 170.3,1094.3 171.4,1094.3 172.5,1094.3 173.6,1094.3 174.7,1094.3 175.8,1094.3 176.9,1094.3 178,1094.3 179.1,1094.3 180.2,1094.3 181.4,1094.3 182.5,1094.3 183.6,1094.4 184.7,1094.4 185.8,1094.4 186.9,1094.5 188,1094.5 189.1,1094.6 190.2,1094.6 191.3,1094.7 192.4,1094.7 193.5,1094.8 194.6,1094.9 195.7,1094.9 196.8,1095 197.9,1095 199,1095.1 200.1,1095.2 201.2,1095.2 202.3,1095.3 203.4,1095.4 204.5,1095.4 205.6,1095.5 206.7,1095.6 207.8,1095.7 208.9,1095.7 210,1095.8 211.1,1095.9 212.2,1096 213.3,1096.1 214.4,1096.1 215.5,1096.2 216.6,1096.3 217.7,1096.4 218.8,1096.5 219.9,1096.6 221,1096.7 222.1,1096.7 223.2,1096.8 224.3,1096.9 225.4,1097 226.5,1097.1 227.6,1097.2 228.7,1097.3 229.8,1097.4 230.9,1097.5 232,1097.6 233.1,1097.7 234.2,1097.8 235.3,1097.9 236.4,1097.9 237.5,1098 238.6,1098.1 239.7,1098.2 240.8,1098.3 241.9,1098.4 243,1098.5 244.1,1098.6 245.2,1098.7 246.3,1098.8 247.4,1098.9 248.5,1099 249.6,1099.1 250.7,1099.2 251.8,1099.3 252.9,1099.5 254,1099.6 255.1,1099.7 256.2,1099.8 257.3,1099.9 258.4,1100 259.5,1100.1 260.6,1100.2 261.7,1100.3 262.8,1100.4 263.9,1100.5 265,1100.6 266.1,1100.7 267.2,1100.8 268.3,1100.9 269.4,1101 270.5,1101.2 271.6,1101.3 272.7,1101.4 273.8,1101.5 274.9,1101.6 276,1101.7 277.1,1101.8 278.2,1101.9 279.3,1102 280.4,1102.2 281.6,1102.3 282.7,1102.4 283.8,1102.5 284.9,1102.6 286,1102.7 287.1,1102.8 288.2,1103 289.3,1103.1 290.4,1103.2 291.5,1103.3 292.6,1103.4 293.7,1103.5 294.8,1103.6 295.9,1103.8 297,1103.9 298.1,1104 299.2,1104.1 300.3,1104.2 301.4,1104.4 302.5,1104.5 303.6,1104.6 304.7,1104.7 305.8,1104.8 306.9,1104.9 308,1105.1 309.1,1105.2 310.2,1105.3 311.3,1105.4 312.4,1105.5 313.5,1105.7 314.6,1105.8 315.7,1105.9 316.8,1106 317.9,1106.2 319,1106.3 320.1,1106.4 321.2,1106.5 322.3,1106.6 323.4,1106.8 324.5,1106.9 325.6,1107 326.7,1107.1 327.8,1107.3 328.9,1107.4 330,1107.5 331.1,1107.6 332.2,1107.8 333.3,1107.9 334.4,1108 335.5,1108.1 336.6,1108.3 337.7,1108.4 338.8,1108.5 339.9,1108.6 341,1108.8 342.1,1108.9 343.2,1109 344.3,1109.1 345.4,1109.3 346.5,1109.4 347.6,1109.5 348.7,1109.6 349.8,1109.8 350.9,1109.9 356.4,1110.5 361.9,1111.2 367.4,1111.8 372.9,1112.5 378.4,1113.1 384,1113.8 389.5,1114.4 395,1115.1 400.5,1115.7 406,1116.4 411.5,1117 417,1117.7 422.5,1118.4 428,1119 433.5,1119.7 439,1120.3 444.5,1121 450,1121.6 455.5,1122.3 461,1122.9 466.5,1123.6 472,1124.2 477.5,1124.9 483.1,1125.5 488.6,1126.1 494.1,1126.8 499.6,1127.4 505.1,1128 510.6,1128.6 516.1,1129.3 521.6,1129.9 527.1,1130.5 532.6,1131.1 538.1,1131.7 543.6,1132.3 549.1,1132.9 554.6,1133.5 560.1,1134.1 565.6,1134.6 571.1,1135.2 576.6,1135.8 582.2,1136.4 587.7,1136.9 593.2,1137.5 598.7,1138 604.2,1138.6 609.7,1139.1 615.2,1139.7 620.7,1140.2 626.2,1140.8 631.7,1141.3 637.2,1141.8 642.7,1142.3 648.2,1142.8 653.7,1143.3 659.2,1143.8 664.7,1144.3 670.2,1144.8 675.7,1145.3 681.2,1145.8 686.8,1146.3 692.3,1146.8 697.8,1147.2 703.3,1147.7 708.8,1148.2 714.3,1148.6 719.8,1149.1 725.3,1149.5 730.8,1150 736.3,1150.4 741.8,1150.8 747.3,1151.3 752.8,1151.7 758.3,1152.1 763.8,1152.5 769.3,1152.9 774.8,1153.3 780.3,1153.7 785.9,1154.1 791.4,1154.5 796.9,1154.9 802.4,1155.3 807.9,1155.7 813.4,1156 818.9,1156.4 824.4,1156.8 829.9,1157.2 835.4,1157.5 840.9,1157.9 846.4,1158.2 851.9,1158.6 857.4,1158.9 862.9,1159.2 868.4,1159.6 873.9,1159.9 879.4,1160.2 885,1160.6 890.5,1160.9 896,1161.2 901.5,1161.5 907,1161.8 912.5,1162.1 918,1162.4 923.5,1162.7 929,1163 934.5,1163.3 940,1163.6 945.5,1163.9 951,1164.2 956.5,1164.5 962,1164.7 967.5,1165 973,1165.3 978.5,1165.5 984.1,1165.8 989.6,1166.1 995.1,1166.3 1000.6,1166.6 1006.1,1166.8 1011.6,1167.1 1017.1,1167.3 1022.6,1167.6 1028.1,1167.8 1033.6,1168 1039.1,1168.3 1044.6,1168.5 1050.1,1168.7 1055.6,1168.9 1061.1,1169.2 1066.6,1169.4 1072.1,1169.6 1077.6,1169.8 1083.2,1170 1088.7,1170.2 1094.2,1170.4 1099.7,1170.7 1105.2,1170.9 1110.7,1171.1 1116.2,1171.2 1121.7,1171.4 1127.2,1171.6 1132.7,1171.8 1138.2,1172 1143.7,1172.2 1149.2,1172.4 1154.7,1172.6 1160.2,1172.7 1165.7,1172.9 1171.2,1173.1 1176.7,1173.3 1182.3,1173.4 1187.8,1173.6 1193.3,1173.8 1198.8,1173.9 1204.3,1174.1 1209.8,1174.2 1215.3,1174.4 1220.8,1174.5 1226.3,1174.7 1231.8,1174.9"/>
</g>
<path d="M130.7,1579.7v-20M130.7,1094.3v20M240.8,1579.7v-10.5M240.8,1094.3v10.5M350.9,1579.7v-20M350.9,1094.3v20M461,1579.7v-10.5M461,1094.3v10.5M571.1,1579.7v-20M571.1,1094.3v20M681.2,1579.7v-10.5M681.2,1094.3v10.5M791.4,1579.7v-20M791.4,1094.3v20M901.5,1579.7v-10.5M901.5,1094.3v10.5M1011.6,1579.7v-20M1011.6,1094.3v20M1121.7,1579.7v-10.5M1121.7,1094.3v10.5M1231.8,1579.7v-20M1231.8,1094.3v20M130.7,1579.7h20M1231.8,1579.7h-20M130.7,1531.2h10.5M1231.8,1531.2h-10.5M130.7,1482.6h20M1231.8,1482.6h-20M130.7,1434.1h10.5M1231.8,1434.1h-10.5M130.7,1385.5h20M1231.8,1385.5h-20M130.7,1337h10.5M1231.8,1337h-10.5M130.7,1288.5h20M1231.8,1288.5h-20M130.7,1239.9h10.5M1231.8,1239.9h-10.5M130.7,1191.4h20M1231.8,1191.4h-20M130.7,1142.8h10.5M1231.8,1142.8h-10.5M130.7,1094.3h20M1231.8,1094.3h-20" stroke="#000" stroke-width="2.5" fill="none"/>
<rect x="130.7" y="1094.3" width="1101.1" height="485.4" fill="none" stroke="#000" stroke-width="2.6"/>
<circle cx="502.9" cy="1275.2" r="19" fill="none" stroke="#000" stroke-width="3.1"/>
<text class="hl" style="font-size:41.5px" transform="translate(530.2,1289.6) scale(0.955,1)">338</text>
<text class="hl" style="font-size:42px" transform="translate(152,1555.5) scale(0.955,1)">(E) PO</text>
<text transform="translate(130.7,1617.6) scale(0.975,1)" class="tl" text-anchor="middle">0</text>
<text transform="translate(350.9,1617.6) scale(0.975,1)" class="tl" text-anchor="middle">200</text>
<text transform="translate(571.1,1617.6) scale(0.975,1)" class="tl" text-anchor="middle">400</text>
<text transform="translate(791.4,1617.6) scale(0.975,1)" class="tl" text-anchor="middle">600</text>
<text transform="translate(1011.6,1617.6) scale(0.975,1)" class="tl" text-anchor="middle">800</text>
<text transform="translate(1231.8,1617.6) scale(0.975,1)" class="tl" text-anchor="middle">1000</text>
<text transform="translate(122.1,1497.4) scale(0.975,1)" class="tl" text-anchor="end">20</text>
<text transform="translate(122.1,1400.3) scale(0.975,1)" class="tl" text-anchor="end">40</text>
<text transform="translate(122.1,1303.3) scale(0.975,1)" class="tl" text-anchor="end">60</text>
<text transform="translate(122.1,1206.2) scale(0.975,1)" class="tl" text-anchor="end">80</text>
<text transform="translate(122.1,1109.1) scale(0.975,1)" class="tl" text-anchor="end">100</text>
<text class="ax" transform="translate(681.3,1666.6) scale(0.96,1)" text-anchor="middle">Time (year)</text>
<text class="ax" transform="translate(1904.4,1126.1) scale(0.96,1)" text-anchor="middle">Time (year)</text>
<text class="ax" transform="translate(39,796.6) rotate(-90) scale(0.95,1)" text-anchor="middle">Ratio of passive tracers (%)</text>
<text class="lg" transform="translate(1463.5,1251.3) scale(0.934,1)" text-anchor="middle" fill="#ff0000">SO</text>
<text class="lg" transform="translate(1683.7,1251.3) scale(0.934,1)" text-anchor="middle" fill="#00ff00">AT</text>
<text class="lg" transform="translate(1903.0,1251.3) scale(0.934,1)" text-anchor="middle" fill="#ffa500">AO</text>
<text class="lg" transform="translate(2124.9,1251.3) scale(0.934,1)" text-anchor="middle" fill="#ffff00">IO</text>
<text class="lg" transform="translate(2345.9,1251.3) scale(0.934,1)" text-anchor="middle" fill="#87ceeb">PO</text>
</svg></body></html>
